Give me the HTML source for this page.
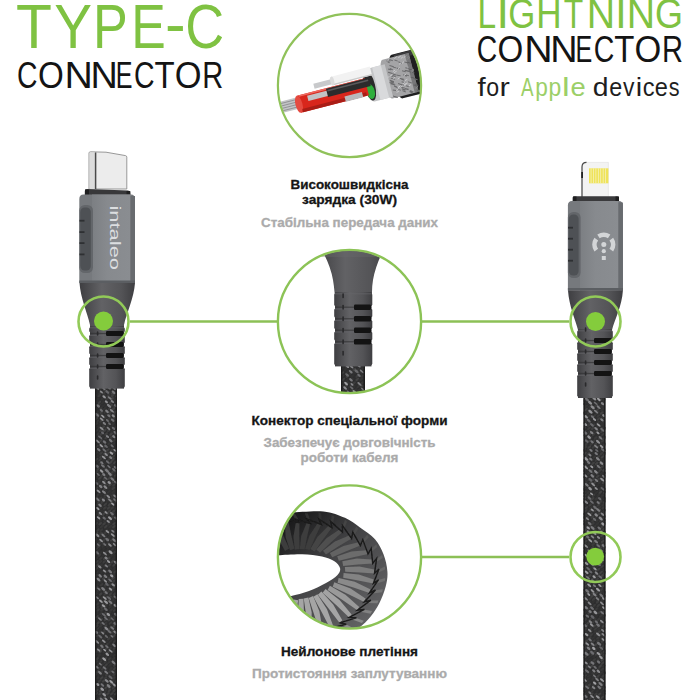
<!DOCTYPE html>
<html><head><meta charset="utf-8">
<style>
html,body{margin:0;padding:0;background:#fff;width:700px;height:700px;overflow:hidden}
svg{display:block}
text{font-family:"Liberation Sans",sans-serif}
</style></head>
<body>
<svg width="700" height="700" viewBox="0 0 700 700">
<defs>
  <pattern id="braid" width="7" height="9" patternUnits="userSpaceOnUse">
    <rect width="7" height="9" fill="#2c2c2e"/>
    <path d="M1 1.5 L4 3.5 M4.5 6 L7 7.8" stroke="#8f9092" stroke-width="1.6" stroke-linecap="round"/>
  </pattern>
  <linearGradient id="housing" x1="0" x2="1" y1="0" y2="0">
    <stop offset="0" stop-color="#55585c"/>
    <stop offset="0.35" stop-color="#8a8d91"/>
    <stop offset="0.7" stop-color="#7b7e82"/>
    <stop offset="1" stop-color="#5a5d61"/>
  </linearGradient>
  <linearGradient id="face" x1="0" x2="1" y1="0" y2="0">
    <stop offset="0" stop-color="#7c7f83"/>
    <stop offset="0.4" stop-color="#878a8e"/>
    <stop offset="1" stop-color="#8a8d91"/>
  </linearGradient>
  <linearGradient id="relief" x1="0" x2="1" y1="0" y2="0">
    <stop offset="0" stop-color="#3e3e41"/>
    <stop offset="0.4" stop-color="#626265"/>
    <stop offset="0.75" stop-color="#545457"/>
    <stop offset="1" stop-color="#3e3e41"/>
  </linearGradient>
  <linearGradient id="plug" x1="0" x2="1" y1="0" y2="0">
    <stop offset="0" stop-color="#9a9a9a"/>
    <stop offset="0.15" stop-color="#e8e8e8"/>
    <stop offset="0.6" stop-color="#f2f2f2"/>
    <stop offset="1" stop-color="#b8b8b8"/>
  </linearGradient>
  <linearGradient id="coilg" gradientUnits="userSpaceOnUse" x1="290" y1="525" x2="375" y2="610">
    <stop offset="0" stop-color="#1c1c1d"/>
    <stop offset="0.45" stop-color="#444446"/>
    <stop offset="1" stop-color="#606062"/>
  </linearGradient>
  <filter id="soft" x="-5%" y="-5%" width="110%" height="110%"><feGaussianBlur stdDeviation="0.6"/></filter>
  <clipPath id="c1"><circle cx="349.5" cy="85.5" r="71"/></clipPath>
  <clipPath id="c2"><circle cx="349.5" cy="321.5" r="71"/></clipPath>
  <clipPath id="c3"><circle cx="349.5" cy="557" r="71"/></clipPath>
</defs>

<!-- ===== Headings ===== -->
<text transform="translate(15.92 47.8) scale(0.924 1)" font-size="63.62" fill="#7fc242">T</text>
<text transform="translate(54.17 47.8) scale(0.890 1)" font-size="63.62" fill="#7fc242">Y</text>
<text transform="translate(92.93 47.8) scale(0.820 1)" font-size="63.62" fill="#7fc242">P</text>
<text transform="translate(131.26 47.8) scale(0.813 1)" font-size="63.62" fill="#7fc242">E</text>
<text transform="translate(165.11 45.199999999999996) scale(0.975 1)" font-size="63.62" fill="#7fc242">-</text>
<text transform="translate(185.21 47.8) scale(0.847 1)" font-size="63.62" fill="#7fc242">C</text>
<text transform="translate(17.08 87.5) scale(0.767 1)" font-size="36.96" fill="#141414">C</text>
<text transform="translate(37.91 87.5) scale(0.897 1)" font-size="36.96" fill="#141414">O</text>
<text transform="translate(64.46 87.5) scale(1.063 1)" font-size="36.96" fill="#141414">N</text>
<text transform="translate(90.57 87.5) scale(1.024 1)" font-size="36.96" fill="#141414">N</text>
<text transform="translate(115.79 87.5) scale(0.680 1)" font-size="36.96" fill="#141414">E</text>
<text transform="translate(133.97 87.5) scale(0.771 1)" font-size="36.96" fill="#141414">C</text>
<text transform="translate(154.44 87.5) scale(0.892 1)" font-size="36.96" fill="#141414">T</text>
<text transform="translate(174.75 87.5) scale(0.932 1)" font-size="36.96" fill="#141414">O</text>
<text transform="translate(202.27 87.5) scale(0.787 1)" font-size="36.96" fill="#141414">R</text>
<text transform="translate(476.78 62.2) scale(0.776 1)" font-size="36.52" fill="#141414">C</text>
<text transform="translate(497.61 62.2) scale(0.907 1)" font-size="36.52" fill="#141414">O</text>
<text transform="translate(524.16 62.2) scale(1.076 1)" font-size="36.52" fill="#141414">N</text>
<text transform="translate(550.27 62.2) scale(1.037 1)" font-size="36.52" fill="#141414">N</text>
<text transform="translate(575.49 62.2) scale(0.688 1)" font-size="36.52" fill="#141414">E</text>
<text transform="translate(593.67 62.2) scale(0.780 1)" font-size="36.52" fill="#141414">C</text>
<text transform="translate(614.14 62.2) scale(0.903 1)" font-size="36.52" fill="#141414">T</text>
<text transform="translate(634.45 62.2) scale(0.943 1)" font-size="36.52" fill="#141414">O</text>
<text transform="translate(661.97 62.2) scale(0.796 1)" font-size="36.52" fill="#141414">R</text>
<text transform="translate(477.52 27.5) scale(0.797 1)" font-size="42.03" fill="#7fc242">L</text>
<text transform="translate(496.53 27.5) scale(1.077 1)" font-size="42.03" fill="#7fc242">I</text>
<text transform="translate(508.36 27.5) scale(0.828 1)" font-size="42.03" fill="#7fc242">G</text>
<text transform="translate(536.29 27.5) scale(0.837 1)" font-size="42.03" fill="#7fc242">H</text>
<text transform="translate(563.66 27.5) scale(0.760 1)" font-size="42.03" fill="#7fc242">T</text>
<text transform="translate(586.76 27.5) scale(0.935 1)" font-size="42.03" fill="#7fc242">N</text>
<text transform="translate(615.31 27.5) scale(0.977 1)" font-size="42.03" fill="#7fc242">I</text>
<text transform="translate(626.86 27.5) scale(0.935 1)" font-size="42.03" fill="#7fc242">N</text>
<text transform="translate(654.90 27.5) scale(0.857 1)" font-size="42.03" fill="#7fc242">G</text>
<text transform="translate(477.46 95.9) scale(1.129 1)" font-size="26.07" fill="#1e1e1e">f</text>
<text transform="translate(486.37 95.9) scale(0.888 1)" font-size="26.07" fill="#1e1e1e">o</text>
<text transform="translate(499.39 95.9) scale(1.188 1)" font-size="26.07" fill="#1e1e1e">r</text>
<text transform="translate(521.10 95.9) scale(0.721 1)" font-size="26.07" fill="#9ccf68">A</text>
<text transform="translate(535.33 95.9) scale(0.869 1)" font-size="26.07" fill="#9ccf68">p</text>
<text transform="translate(548.61 95.9) scale(0.878 1)" font-size="26.07" fill="#9ccf68">p</text>
<text transform="translate(562.06 95.9) scale(1.321 1)" font-size="26.07" fill="#9ccf68">l</text>
<text transform="translate(570.41 95.9) scale(1.050 1)" font-size="26.07" fill="#9ccf68">e</text>
<text transform="translate(592.87 95.9) scale(1.088 1)" font-size="26.07" fill="#1e1e1e">d</text>
<text transform="translate(609.37 95.9) scale(0.896 1)" font-size="26.07" fill="#1e1e1e">e</text>
<text transform="translate(622.99 95.9) scale(0.877 1)" font-size="26.07" fill="#1e1e1e">v</text>
<text transform="translate(635.82 95.9) scale(1.108 1)" font-size="26.07" fill="#1e1e1e">i</text>
<text transform="translate(642.75 95.9) scale(0.908 1)" font-size="26.07" fill="#1e1e1e">c</text>
<text transform="translate(654.76 95.9) scale(0.904 1)" font-size="26.07" fill="#1e1e1e">e</text>
<text transform="translate(668.86 95.9) scale(0.828 1)" font-size="26.07" fill="#1e1e1e">s</text>


<!-- ===== Captions ===== -->
<g font-weight="700" font-size="13" text-anchor="middle" stroke-width="0.3">
  <text x="349.5" y="188.5" fill="#151515" stroke="#151515" textLength="118" lengthAdjust="spacingAndGlyphs">Високошвидкісна</text>
  <text x="349.5" y="204.3" fill="#151515" stroke="#151515" textLength="95" lengthAdjust="spacingAndGlyphs">зарядка (30W)</text>
  <text x="349.5" y="226.6" fill="#ababab" stroke="#ababab" textLength="177" lengthAdjust="spacingAndGlyphs">Стабільна передача даних</text>
  <text x="349.5" y="424.5" fill="#151515" stroke="#151515" textLength="196" lengthAdjust="spacingAndGlyphs">Конектор спеціальної форми</text>
  <text x="349.5" y="446.8" fill="#ababab" stroke="#ababab" textLength="172" lengthAdjust="spacingAndGlyphs">Забезпечує довговічність</text>
  <text x="349.5" y="462.2" fill="#ababab" stroke="#ababab" textLength="98" lengthAdjust="spacingAndGlyphs">роботи кабеля</text>
  <text x="349.5" y="655.8" fill="#151515" stroke="#151515" textLength="137" lengthAdjust="spacingAndGlyphs">Нейлонове плетіння</text>
  <text x="349.5" y="678" fill="#ababab" stroke="#ababab" textLength="195" lengthAdjust="spacingAndGlyphs">Протистояння заплутуванню</text>
</g>

<!-- ===== Connecting lines ===== -->
<g stroke="#8cc056" stroke-width="2.5" fill="none">
  <line x1="130" y1="321.5" x2="278" y2="321.5"/>
  <line x1="421" y1="321.5" x2="569" y2="321.5"/>
  <line x1="421" y1="557" x2="569" y2="557"/>
</g>

<!-- ===== LEFT CABLE (USB-C) ===== -->
<g id="left">
  <rect x="95" y="386" width="22" height="320" fill="#2e2e2f"/>
<clipPath id="bc3"><rect x="95" y="386" width="22" height="320"/></clipPath>
<g clip-path="url(#bc3)"><g filter="url(#soft)"><ellipse cx="95.7" cy="386.0" rx="2.2" ry="1.1" transform="rotate(-40 95.7 386.0)" fill="rgb(65,65,65)"/><ellipse cx="99.4" cy="386.0" rx="2.2" ry="1.1" transform="rotate(-40 99.4 386.0)" fill="rgb(63,63,63)"/><ellipse cx="103.8" cy="386.0" rx="2.2" ry="1.1" transform="rotate(-40 103.8 386.0)" fill="rgb(50,50,50)"/><ellipse cx="108.3" cy="386.0" rx="2.2" ry="1.1" transform="rotate(-40 108.3 386.0)" fill="rgb(63,63,63)"/><ellipse cx="112.1" cy="386.0" rx="2.2" ry="1.1" transform="rotate(-40 112.1 386.0)" fill="rgb(55,55,55)"/><ellipse cx="115.9" cy="386.0" rx="2.2" ry="1.1" transform="rotate(-40 115.9 386.0)" fill="rgb(63,63,63)"/><ellipse cx="96.2" cy="389.2" rx="2.2" ry="1.1" transform="rotate(-40 96.2 389.2)" fill="rgb(52,52,52)"/><ellipse cx="100.0" cy="389.2" rx="2.2" ry="1.1" transform="rotate(-40 100.0 389.2)" fill="rgb(52,52,52)"/><ellipse cx="104.8" cy="389.2" rx="2.2" ry="1.1" transform="rotate(-40 104.8 389.2)" fill="rgb(64,64,64)"/><ellipse cx="108.9" cy="389.2" rx="2.2" ry="1.1" transform="rotate(-40 108.9 389.2)" fill="rgb(48,48,48)"/><ellipse cx="113.4" cy="389.2" rx="2.2" ry="1.1" transform="rotate(-40 113.4 389.2)" fill="rgb(50,50,50)"/><ellipse cx="95.1" cy="392.8" rx="2.2" ry="1.1" transform="rotate(-40 95.1 392.8)" fill="rgb(48,48,48)"/><ellipse cx="99.9" cy="392.8" rx="2.2" ry="1.1" transform="rotate(-40 99.9 392.8)" fill="rgb(56,56,56)"/><ellipse cx="104.1" cy="392.8" rx="2.2" ry="1.1" transform="rotate(-40 104.1 392.8)" fill="rgb(60,60,60)"/><ellipse cx="108.6" cy="392.8" rx="2.2" ry="1.1" transform="rotate(-40 108.6 392.8)" fill="rgb(61,61,61)"/><ellipse cx="112.7" cy="392.8" rx="2.2" ry="1.1" transform="rotate(-40 112.7 392.8)" fill="rgb(66,66,66)"/><ellipse cx="116.9" cy="392.8" rx="2.2" ry="1.1" transform="rotate(-40 116.9 392.8)" fill="rgb(52,52,52)"/><ellipse cx="95.4" cy="395.7" rx="2.2" ry="1.1" transform="rotate(-40 95.4 395.7)" fill="rgb(54,54,54)"/><ellipse cx="99.3" cy="395.7" rx="2.2" ry="1.1" transform="rotate(-40 99.3 395.7)" fill="rgb(61,61,61)"/><ellipse cx="104.0" cy="395.7" rx="2.2" ry="1.1" transform="rotate(-40 104.0 395.7)" fill="rgb(57,57,57)"/><ellipse cx="108.1" cy="395.7" rx="2.2" ry="1.1" transform="rotate(-40 108.1 395.7)" fill="rgb(60,60,60)"/><ellipse cx="112.5" cy="395.7" rx="2.2" ry="1.1" transform="rotate(-40 112.5 395.7)" fill="rgb(65,65,65)"/><ellipse cx="116.8" cy="395.7" rx="2.2" ry="1.1" transform="rotate(-40 116.8 395.7)" fill="rgb(66,66,66)"/><ellipse cx="97.7" cy="398.8" rx="2.2" ry="1.1" transform="rotate(-40 97.7 398.8)" fill="rgb(48,48,48)"/><ellipse cx="102.5" cy="398.8" rx="2.2" ry="1.1" transform="rotate(-40 102.5 398.8)" fill="rgb(53,53,53)"/><ellipse cx="107.1" cy="398.8" rx="2.2" ry="1.1" transform="rotate(-40 107.1 398.8)" fill="rgb(58,58,58)"/><ellipse cx="112.0" cy="398.8" rx="2.2" ry="1.1" transform="rotate(-40 112.0 398.8)" fill="rgb(66,66,66)"/><ellipse cx="116.4" cy="398.8" rx="2.2" ry="1.1" transform="rotate(-40 116.4 398.8)" fill="rgb(54,54,54)"/><ellipse cx="95.8" cy="402.3" rx="2.2" ry="1.1" transform="rotate(-40 95.8 402.3)" fill="rgb(51,51,51)"/><ellipse cx="99.4" cy="402.3" rx="2.2" ry="1.1" transform="rotate(-40 99.4 402.3)" fill="rgb(63,63,63)"/><ellipse cx="103.0" cy="402.3" rx="2.2" ry="1.1" transform="rotate(-40 103.0 402.3)" fill="rgb(50,50,50)"/><ellipse cx="107.1" cy="402.3" rx="2.2" ry="1.1" transform="rotate(-40 107.1 402.3)" fill="rgb(52,52,52)"/><ellipse cx="110.7" cy="402.3" rx="2.2" ry="1.1" transform="rotate(-40 110.7 402.3)" fill="rgb(61,61,61)"/><ellipse cx="115.3" cy="402.3" rx="2.2" ry="1.1" transform="rotate(-40 115.3 402.3)" fill="rgb(51,51,51)"/><ellipse cx="95.1" cy="405.6" rx="2.2" ry="1.1" transform="rotate(-40 95.1 405.6)" fill="rgb(66,66,66)"/><ellipse cx="99.1" cy="405.6" rx="2.2" ry="1.1" transform="rotate(-40 99.1 405.6)" fill="rgb(56,56,56)"/><ellipse cx="103.4" cy="405.6" rx="2.2" ry="1.1" transform="rotate(-40 103.4 405.6)" fill="rgb(49,49,49)"/><ellipse cx="107.4" cy="405.6" rx="2.2" ry="1.1" transform="rotate(-40 107.4 405.6)" fill="rgb(50,50,50)"/><ellipse cx="111.0" cy="405.6" rx="2.2" ry="1.1" transform="rotate(-40 111.0 405.6)" fill="rgb(65,65,65)"/><ellipse cx="114.6" cy="405.6" rx="2.2" ry="1.1" transform="rotate(-40 114.6 405.6)" fill="rgb(54,54,54)"/><ellipse cx="95.8" cy="408.7" rx="2.2" ry="1.1" transform="rotate(-40 95.8 408.7)" fill="rgb(49,49,49)"/><ellipse cx="100.8" cy="408.7" rx="2.2" ry="1.1" transform="rotate(-40 100.8 408.7)" fill="rgb(58,58,58)"/><ellipse cx="104.7" cy="408.7" rx="2.2" ry="1.1" transform="rotate(-40 104.7 408.7)" fill="rgb(52,52,52)"/><ellipse cx="109.6" cy="408.7" rx="2.2" ry="1.1" transform="rotate(-40 109.6 408.7)" fill="rgb(60,60,60)"/><ellipse cx="113.6" cy="408.7" rx="2.2" ry="1.1" transform="rotate(-40 113.6 408.7)" fill="rgb(64,64,64)"/><ellipse cx="97.0" cy="412.2" rx="2.2" ry="1.1" transform="rotate(-40 97.0 412.2)" fill="rgb(51,51,51)"/><ellipse cx="101.5" cy="412.2" rx="2.2" ry="1.1" transform="rotate(-40 101.5 412.2)" fill="rgb(64,64,64)"/><ellipse cx="105.4" cy="412.2" rx="2.2" ry="1.1" transform="rotate(-40 105.4 412.2)" fill="rgb(55,55,55)"/><ellipse cx="110.3" cy="412.2" rx="2.2" ry="1.1" transform="rotate(-40 110.3 412.2)" fill="rgb(61,61,61)"/><ellipse cx="115.3" cy="412.2" rx="2.2" ry="1.1" transform="rotate(-40 115.3 412.2)" fill="rgb(64,64,64)"/><ellipse cx="97.4" cy="415.2" rx="2.2" ry="1.1" transform="rotate(-40 97.4 415.2)" fill="rgb(66,66,66)"/><ellipse cx="101.3" cy="415.2" rx="2.2" ry="1.1" transform="rotate(-40 101.3 415.2)" fill="rgb(60,60,60)"/><ellipse cx="105.8" cy="415.2" rx="2.2" ry="1.1" transform="rotate(-40 105.8 415.2)" fill="rgb(52,52,52)"/><ellipse cx="109.4" cy="415.2" rx="2.2" ry="1.1" transform="rotate(-40 109.4 415.2)" fill="rgb(58,58,58)"/><ellipse cx="113.6" cy="415.2" rx="2.2" ry="1.1" transform="rotate(-40 113.6 415.2)" fill="rgb(59,59,59)"/><ellipse cx="96.5" cy="418.3" rx="2.2" ry="1.1" transform="rotate(-40 96.5 418.3)" fill="rgb(66,66,66)"/><ellipse cx="100.1" cy="418.3" rx="2.2" ry="1.1" transform="rotate(-40 100.1 418.3)" fill="rgb(48,48,48)"/><ellipse cx="105.0" cy="418.3" rx="2.2" ry="1.1" transform="rotate(-40 105.0 418.3)" fill="rgb(56,56,56)"/><ellipse cx="109.4" cy="418.3" rx="2.2" ry="1.1" transform="rotate(-40 109.4 418.3)" fill="rgb(57,57,57)"/><ellipse cx="113.8" cy="418.3" rx="2.2" ry="1.1" transform="rotate(-40 113.8 418.3)" fill="rgb(58,58,58)"/><ellipse cx="97.3" cy="421.2" rx="2.2" ry="1.1" transform="rotate(-40 97.3 421.2)" fill="rgb(56,56,56)"/><ellipse cx="101.2" cy="421.2" rx="2.2" ry="1.1" transform="rotate(-40 101.2 421.2)" fill="rgb(60,60,60)"/><ellipse cx="104.9" cy="421.2" rx="2.2" ry="1.1" transform="rotate(-40 104.9 421.2)" fill="rgb(48,48,48)"/><ellipse cx="109.8" cy="421.2" rx="2.2" ry="1.1" transform="rotate(-40 109.8 421.2)" fill="rgb(52,52,52)"/><ellipse cx="113.8" cy="421.2" rx="2.2" ry="1.1" transform="rotate(-40 113.8 421.2)" fill="rgb(55,55,55)"/><ellipse cx="96.0" cy="424.2" rx="2.2" ry="1.1" transform="rotate(-40 96.0 424.2)" fill="rgb(61,61,61)"/><ellipse cx="100.5" cy="424.2" rx="2.2" ry="1.1" transform="rotate(-40 100.5 424.2)" fill="rgb(51,51,51)"/><ellipse cx="104.1" cy="424.2" rx="2.2" ry="1.1" transform="rotate(-40 104.1 424.2)" fill="rgb(58,58,58)"/><ellipse cx="109.0" cy="424.2" rx="2.2" ry="1.1" transform="rotate(-40 109.0 424.2)" fill="rgb(55,55,55)"/><ellipse cx="113.2" cy="424.2" rx="2.2" ry="1.1" transform="rotate(-40 113.2 424.2)" fill="rgb(53,53,53)"/><ellipse cx="116.8" cy="424.2" rx="2.2" ry="1.1" transform="rotate(-40 116.8 424.2)" fill="rgb(54,54,54)"/><ellipse cx="95.7" cy="427.4" rx="2.2" ry="1.1" transform="rotate(-40 95.7 427.4)" fill="rgb(51,51,51)"/><ellipse cx="99.2" cy="427.4" rx="2.2" ry="1.1" transform="rotate(-40 99.2 427.4)" fill="rgb(54,54,54)"/><ellipse cx="103.2" cy="427.4" rx="2.2" ry="1.1" transform="rotate(-40 103.2 427.4)" fill="rgb(66,66,66)"/><ellipse cx="107.0" cy="427.4" rx="2.2" ry="1.1" transform="rotate(-40 107.0 427.4)" fill="rgb(56,56,56)"/><ellipse cx="111.0" cy="427.4" rx="2.2" ry="1.1" transform="rotate(-40 111.0 427.4)" fill="rgb(50,50,50)"/><ellipse cx="115.7" cy="427.4" rx="2.2" ry="1.1" transform="rotate(-40 115.7 427.4)" fill="rgb(59,59,59)"/><ellipse cx="96.6" cy="430.5" rx="2.2" ry="1.1" transform="rotate(-40 96.6 430.5)" fill="rgb(56,56,56)"/><ellipse cx="100.8" cy="430.5" rx="2.2" ry="1.1" transform="rotate(-40 100.8 430.5)" fill="rgb(61,61,61)"/><ellipse cx="104.7" cy="430.5" rx="2.2" ry="1.1" transform="rotate(-40 104.7 430.5)" fill="rgb(66,66,66)"/><ellipse cx="108.8" cy="430.5" rx="2.2" ry="1.1" transform="rotate(-40 108.8 430.5)" fill="rgb(61,61,61)"/><ellipse cx="112.5" cy="430.5" rx="2.2" ry="1.1" transform="rotate(-40 112.5 430.5)" fill="rgb(48,48,48)"/><ellipse cx="116.8" cy="430.5" rx="2.2" ry="1.1" transform="rotate(-40 116.8 430.5)" fill="rgb(64,64,64)"/><ellipse cx="97.8" cy="434.1" rx="2.2" ry="1.1" transform="rotate(-40 97.8 434.1)" fill="rgb(55,55,55)"/><ellipse cx="101.3" cy="434.1" rx="2.2" ry="1.1" transform="rotate(-40 101.3 434.1)" fill="rgb(62,62,62)"/><ellipse cx="106.1" cy="434.1" rx="2.2" ry="1.1" transform="rotate(-40 106.1 434.1)" fill="rgb(64,64,64)"/><ellipse cx="111.0" cy="434.1" rx="2.2" ry="1.1" transform="rotate(-40 111.0 434.1)" fill="rgb(65,65,65)"/><ellipse cx="115.0" cy="434.1" rx="2.2" ry="1.1" transform="rotate(-40 115.0 434.1)" fill="rgb(55,55,55)"/><ellipse cx="97.9" cy="437.6" rx="2.2" ry="1.1" transform="rotate(-40 97.9 437.6)" fill="rgb(51,51,51)"/><ellipse cx="102.6" cy="437.6" rx="2.2" ry="1.1" transform="rotate(-40 102.6 437.6)" fill="rgb(49,49,49)"/><ellipse cx="106.2" cy="437.6" rx="2.2" ry="1.1" transform="rotate(-40 106.2 437.6)" fill="rgb(64,64,64)"/><ellipse cx="111.1" cy="437.6" rx="2.2" ry="1.1" transform="rotate(-40 111.1 437.6)" fill="rgb(61,61,61)"/><ellipse cx="115.4" cy="437.6" rx="2.2" ry="1.1" transform="rotate(-40 115.4 437.6)" fill="rgb(48,48,48)"/><ellipse cx="96.5" cy="440.5" rx="2.2" ry="1.1" transform="rotate(-40 96.5 440.5)" fill="rgb(55,55,55)"/><ellipse cx="101.0" cy="440.5" rx="2.2" ry="1.1" transform="rotate(-40 101.0 440.5)" fill="rgb(64,64,64)"/><ellipse cx="105.3" cy="440.5" rx="2.2" ry="1.1" transform="rotate(-40 105.3 440.5)" fill="rgb(49,49,49)"/><ellipse cx="110.2" cy="440.5" rx="2.2" ry="1.1" transform="rotate(-40 110.2 440.5)" fill="rgb(51,51,51)"/><ellipse cx="114.2" cy="440.5" rx="2.2" ry="1.1" transform="rotate(-40 114.2 440.5)" fill="rgb(56,56,56)"/><ellipse cx="97.4" cy="443.7" rx="2.2" ry="1.1" transform="rotate(-40 97.4 443.7)" fill="rgb(49,49,49)"/><ellipse cx="101.5" cy="443.7" rx="2.2" ry="1.1" transform="rotate(-40 101.5 443.7)" fill="rgb(54,54,54)"/><ellipse cx="105.1" cy="443.7" rx="2.2" ry="1.1" transform="rotate(-40 105.1 443.7)" fill="rgb(51,51,51)"/><ellipse cx="108.9" cy="443.7" rx="2.2" ry="1.1" transform="rotate(-40 108.9 443.7)" fill="rgb(56,56,56)"/><ellipse cx="113.8" cy="443.7" rx="2.2" ry="1.1" transform="rotate(-40 113.8 443.7)" fill="rgb(52,52,52)"/><ellipse cx="96.9" cy="446.5" rx="2.2" ry="1.1" transform="rotate(-40 96.9 446.5)" fill="rgb(60,60,60)"/><ellipse cx="100.5" cy="446.5" rx="2.2" ry="1.1" transform="rotate(-40 100.5 446.5)" fill="rgb(56,56,56)"/><ellipse cx="104.3" cy="446.5" rx="2.2" ry="1.1" transform="rotate(-40 104.3 446.5)" fill="rgb(64,64,64)"/><ellipse cx="108.6" cy="446.5" rx="2.2" ry="1.1" transform="rotate(-40 108.6 446.5)" fill="rgb(49,49,49)"/><ellipse cx="112.8" cy="446.5" rx="2.2" ry="1.1" transform="rotate(-40 112.8 446.5)" fill="rgb(48,48,48)"/><ellipse cx="95.1" cy="449.9" rx="2.2" ry="1.1" transform="rotate(-40 95.1 449.9)" fill="rgb(49,49,49)"/><ellipse cx="98.7" cy="449.9" rx="2.2" ry="1.1" transform="rotate(-40 98.7 449.9)" fill="rgb(49,49,49)"/><ellipse cx="103.5" cy="449.9" rx="2.2" ry="1.1" transform="rotate(-40 103.5 449.9)" fill="rgb(50,50,50)"/><ellipse cx="107.8" cy="449.9" rx="2.2" ry="1.1" transform="rotate(-40 107.8 449.9)" fill="rgb(63,63,63)"/><ellipse cx="111.8" cy="449.9" rx="2.2" ry="1.1" transform="rotate(-40 111.8 449.9)" fill="rgb(58,58,58)"/><ellipse cx="115.4" cy="449.9" rx="2.2" ry="1.1" transform="rotate(-40 115.4 449.9)" fill="rgb(60,60,60)"/><ellipse cx="96.1" cy="453.2" rx="2.2" ry="1.1" transform="rotate(-40 96.1 453.2)" fill="rgb(54,54,54)"/><ellipse cx="101.1" cy="453.2" rx="2.2" ry="1.1" transform="rotate(-40 101.1 453.2)" fill="rgb(61,61,61)"/><ellipse cx="104.8" cy="453.2" rx="2.2" ry="1.1" transform="rotate(-40 104.8 453.2)" fill="rgb(65,65,65)"/><ellipse cx="108.3" cy="453.2" rx="2.2" ry="1.1" transform="rotate(-40 108.3 453.2)" fill="rgb(60,60,60)"/><ellipse cx="112.9" cy="453.2" rx="2.2" ry="1.1" transform="rotate(-40 112.9 453.2)" fill="rgb(66,66,66)"/><ellipse cx="116.7" cy="453.2" rx="2.2" ry="1.1" transform="rotate(-40 116.7 453.2)" fill="rgb(59,59,59)"/><ellipse cx="96.6" cy="456.5" rx="2.2" ry="1.1" transform="rotate(-40 96.6 456.5)" fill="rgb(49,49,49)"/><ellipse cx="101.1" cy="456.5" rx="2.2" ry="1.1" transform="rotate(-40 101.1 456.5)" fill="rgb(61,61,61)"/><ellipse cx="104.6" cy="456.5" rx="2.2" ry="1.1" transform="rotate(-40 104.6 456.5)" fill="rgb(63,63,63)"/><ellipse cx="109.3" cy="456.5" rx="2.2" ry="1.1" transform="rotate(-40 109.3 456.5)" fill="rgb(58,58,58)"/><ellipse cx="113.4" cy="456.5" rx="2.2" ry="1.1" transform="rotate(-40 113.4 456.5)" fill="rgb(61,61,61)"/><ellipse cx="96.6" cy="459.5" rx="2.2" ry="1.1" transform="rotate(-40 96.6 459.5)" fill="rgb(66,66,66)"/><ellipse cx="100.2" cy="459.5" rx="2.2" ry="1.1" transform="rotate(-40 100.2 459.5)" fill="rgb(61,61,61)"/><ellipse cx="104.1" cy="459.5" rx="2.2" ry="1.1" transform="rotate(-40 104.1 459.5)" fill="rgb(52,52,52)"/><ellipse cx="108.9" cy="459.5" rx="2.2" ry="1.1" transform="rotate(-40 108.9 459.5)" fill="rgb(58,58,58)"/><ellipse cx="112.9" cy="459.5" rx="2.2" ry="1.1" transform="rotate(-40 112.9 459.5)" fill="rgb(65,65,65)"/><ellipse cx="96.4" cy="462.5" rx="2.2" ry="1.1" transform="rotate(-40 96.4 462.5)" fill="rgb(51,51,51)"/><ellipse cx="101.3" cy="462.5" rx="2.2" ry="1.1" transform="rotate(-40 101.3 462.5)" fill="rgb(64,64,64)"/><ellipse cx="106.0" cy="462.5" rx="2.2" ry="1.1" transform="rotate(-40 106.0 462.5)" fill="rgb(51,51,51)"/><ellipse cx="110.6" cy="462.5" rx="2.2" ry="1.1" transform="rotate(-40 110.6 462.5)" fill="rgb(66,66,66)"/><ellipse cx="114.9" cy="462.5" rx="2.2" ry="1.1" transform="rotate(-40 114.9 462.5)" fill="rgb(66,66,66)"/><ellipse cx="95.7" cy="465.7" rx="2.2" ry="1.1" transform="rotate(-40 95.7 465.7)" fill="rgb(60,60,60)"/><ellipse cx="99.3" cy="465.7" rx="2.2" ry="1.1" transform="rotate(-40 99.3 465.7)" fill="rgb(50,50,50)"/><ellipse cx="103.6" cy="465.7" rx="2.2" ry="1.1" transform="rotate(-40 103.6 465.7)" fill="rgb(60,60,60)"/><ellipse cx="107.4" cy="465.7" rx="2.2" ry="1.1" transform="rotate(-40 107.4 465.7)" fill="rgb(48,48,48)"/><ellipse cx="111.4" cy="465.7" rx="2.2" ry="1.1" transform="rotate(-40 111.4 465.7)" fill="rgb(51,51,51)"/><ellipse cx="114.9" cy="465.7" rx="2.2" ry="1.1" transform="rotate(-40 114.9 465.7)" fill="rgb(51,51,51)"/><ellipse cx="97.9" cy="469.2" rx="2.2" ry="1.1" transform="rotate(-40 97.9 469.2)" fill="rgb(66,66,66)"/><ellipse cx="101.8" cy="469.2" rx="2.2" ry="1.1" transform="rotate(-40 101.8 469.2)" fill="rgb(50,50,50)"/><ellipse cx="105.4" cy="469.2" rx="2.2" ry="1.1" transform="rotate(-40 105.4 469.2)" fill="rgb(66,66,66)"/><ellipse cx="109.6" cy="469.2" rx="2.2" ry="1.1" transform="rotate(-40 109.6 469.2)" fill="rgb(55,55,55)"/><ellipse cx="113.3" cy="469.2" rx="2.2" ry="1.1" transform="rotate(-40 113.3 469.2)" fill="rgb(51,51,51)"/><ellipse cx="96.0" cy="472.0" rx="2.2" ry="1.1" transform="rotate(-40 96.0 472.0)" fill="rgb(66,66,66)"/><ellipse cx="99.7" cy="472.0" rx="2.2" ry="1.1" transform="rotate(-40 99.7 472.0)" fill="rgb(50,50,50)"/><ellipse cx="103.6" cy="472.0" rx="2.2" ry="1.1" transform="rotate(-40 103.6 472.0)" fill="rgb(53,53,53)"/><ellipse cx="108.1" cy="472.0" rx="2.2" ry="1.1" transform="rotate(-40 108.1 472.0)" fill="rgb(62,62,62)"/><ellipse cx="112.5" cy="472.0" rx="2.2" ry="1.1" transform="rotate(-40 112.5 472.0)" fill="rgb(60,60,60)"/><ellipse cx="116.4" cy="472.0" rx="2.2" ry="1.1" transform="rotate(-40 116.4 472.0)" fill="rgb(60,60,60)"/><ellipse cx="97.9" cy="475.3" rx="2.2" ry="1.1" transform="rotate(-40 97.9 475.3)" fill="rgb(60,60,60)"/><ellipse cx="102.1" cy="475.3" rx="2.2" ry="1.1" transform="rotate(-40 102.1 475.3)" fill="rgb(61,61,61)"/><ellipse cx="106.9" cy="475.3" rx="2.2" ry="1.1" transform="rotate(-40 106.9 475.3)" fill="rgb(53,53,53)"/><ellipse cx="111.0" cy="475.3" rx="2.2" ry="1.1" transform="rotate(-40 111.0 475.3)" fill="rgb(66,66,66)"/><ellipse cx="115.7" cy="475.3" rx="2.2" ry="1.1" transform="rotate(-40 115.7 475.3)" fill="rgb(64,64,64)"/><ellipse cx="96.2" cy="478.2" rx="2.2" ry="1.1" transform="rotate(-40 96.2 478.2)" fill="rgb(52,52,52)"/><ellipse cx="99.9" cy="478.2" rx="2.2" ry="1.1" transform="rotate(-40 99.9 478.2)" fill="rgb(63,63,63)"/><ellipse cx="104.6" cy="478.2" rx="2.2" ry="1.1" transform="rotate(-40 104.6 478.2)" fill="rgb(64,64,64)"/><ellipse cx="109.5" cy="478.2" rx="2.2" ry="1.1" transform="rotate(-40 109.5 478.2)" fill="rgb(66,66,66)"/><ellipse cx="114.1" cy="478.2" rx="2.2" ry="1.1" transform="rotate(-40 114.1 478.2)" fill="rgb(53,53,53)"/><ellipse cx="95.4" cy="481.6" rx="2.2" ry="1.1" transform="rotate(-40 95.4 481.6)" fill="rgb(64,64,64)"/><ellipse cx="99.4" cy="481.6" rx="2.2" ry="1.1" transform="rotate(-40 99.4 481.6)" fill="rgb(55,55,55)"/><ellipse cx="104.2" cy="481.6" rx="2.2" ry="1.1" transform="rotate(-40 104.2 481.6)" fill="rgb(65,65,65)"/><ellipse cx="109.1" cy="481.6" rx="2.2" ry="1.1" transform="rotate(-40 109.1 481.6)" fill="rgb(57,57,57)"/><ellipse cx="113.6" cy="481.6" rx="2.2" ry="1.1" transform="rotate(-40 113.6 481.6)" fill="rgb(61,61,61)"/><ellipse cx="98.0" cy="484.9" rx="2.2" ry="1.1" transform="rotate(-40 98.0 484.9)" fill="rgb(54,54,54)"/><ellipse cx="101.9" cy="484.9" rx="2.2" ry="1.1" transform="rotate(-40 101.9 484.9)" fill="rgb(56,56,56)"/><ellipse cx="106.1" cy="484.9" rx="2.2" ry="1.1" transform="rotate(-40 106.1 484.9)" fill="rgb(60,60,60)"/><ellipse cx="109.9" cy="484.9" rx="2.2" ry="1.1" transform="rotate(-40 109.9 484.9)" fill="rgb(66,66,66)"/><ellipse cx="114.0" cy="484.9" rx="2.2" ry="1.1" transform="rotate(-40 114.0 484.9)" fill="rgb(58,58,58)"/><ellipse cx="96.3" cy="488.3" rx="2.2" ry="1.1" transform="rotate(-40 96.3 488.3)" fill="rgb(63,63,63)"/><ellipse cx="100.8" cy="488.3" rx="2.2" ry="1.1" transform="rotate(-40 100.8 488.3)" fill="rgb(54,54,54)"/><ellipse cx="105.0" cy="488.3" rx="2.2" ry="1.1" transform="rotate(-40 105.0 488.3)" fill="rgb(65,65,65)"/><ellipse cx="108.6" cy="488.3" rx="2.2" ry="1.1" transform="rotate(-40 108.6 488.3)" fill="rgb(50,50,50)"/><ellipse cx="113.3" cy="488.3" rx="2.2" ry="1.1" transform="rotate(-40 113.3 488.3)" fill="rgb(60,60,60)"/><ellipse cx="95.1" cy="491.8" rx="2.2" ry="1.1" transform="rotate(-40 95.1 491.8)" fill="rgb(55,55,55)"/><ellipse cx="100.0" cy="491.8" rx="2.2" ry="1.1" transform="rotate(-40 100.0 491.8)" fill="rgb(50,50,50)"/><ellipse cx="104.9" cy="491.8" rx="2.2" ry="1.1" transform="rotate(-40 104.9 491.8)" fill="rgb(56,56,56)"/><ellipse cx="108.8" cy="491.8" rx="2.2" ry="1.1" transform="rotate(-40 108.8 491.8)" fill="rgb(54,54,54)"/><ellipse cx="113.4" cy="491.8" rx="2.2" ry="1.1" transform="rotate(-40 113.4 491.8)" fill="rgb(52,52,52)"/><ellipse cx="97.6" cy="495.2" rx="2.2" ry="1.1" transform="rotate(-40 97.6 495.2)" fill="rgb(56,56,56)"/><ellipse cx="101.3" cy="495.2" rx="2.2" ry="1.1" transform="rotate(-40 101.3 495.2)" fill="rgb(49,49,49)"/><ellipse cx="105.3" cy="495.2" rx="2.2" ry="1.1" transform="rotate(-40 105.3 495.2)" fill="rgb(61,61,61)"/><ellipse cx="108.9" cy="495.2" rx="2.2" ry="1.1" transform="rotate(-40 108.9 495.2)" fill="rgb(50,50,50)"/><ellipse cx="112.6" cy="495.2" rx="2.2" ry="1.1" transform="rotate(-40 112.6 495.2)" fill="rgb(56,56,56)"/><ellipse cx="96.1" cy="498.2" rx="2.2" ry="1.1" transform="rotate(-40 96.1 498.2)" fill="rgb(66,66,66)"/><ellipse cx="100.7" cy="498.2" rx="2.2" ry="1.1" transform="rotate(-40 100.7 498.2)" fill="rgb(58,58,58)"/><ellipse cx="104.2" cy="498.2" rx="2.2" ry="1.1" transform="rotate(-40 104.2 498.2)" fill="rgb(58,58,58)"/><ellipse cx="108.2" cy="498.2" rx="2.2" ry="1.1" transform="rotate(-40 108.2 498.2)" fill="rgb(60,60,60)"/><ellipse cx="112.4" cy="498.2" rx="2.2" ry="1.1" transform="rotate(-40 112.4 498.2)" fill="rgb(54,54,54)"/><ellipse cx="116.9" cy="498.2" rx="2.2" ry="1.1" transform="rotate(-40 116.9 498.2)" fill="rgb(63,63,63)"/><ellipse cx="95.4" cy="501.5" rx="2.2" ry="1.1" transform="rotate(-40 95.4 501.5)" fill="rgb(56,56,56)"/><ellipse cx="99.0" cy="501.5" rx="2.2" ry="1.1" transform="rotate(-40 99.0 501.5)" fill="rgb(61,61,61)"/><ellipse cx="102.6" cy="501.5" rx="2.2" ry="1.1" transform="rotate(-40 102.6 501.5)" fill="rgb(64,64,64)"/><ellipse cx="107.5" cy="501.5" rx="2.2" ry="1.1" transform="rotate(-40 107.5 501.5)" fill="rgb(51,51,51)"/><ellipse cx="111.8" cy="501.5" rx="2.2" ry="1.1" transform="rotate(-40 111.8 501.5)" fill="rgb(59,59,59)"/><ellipse cx="116.3" cy="501.5" rx="2.2" ry="1.1" transform="rotate(-40 116.3 501.5)" fill="rgb(59,59,59)"/><ellipse cx="97.0" cy="504.5" rx="2.2" ry="1.1" transform="rotate(-40 97.0 504.5)" fill="rgb(56,56,56)"/><ellipse cx="100.7" cy="504.5" rx="2.2" ry="1.1" transform="rotate(-40 100.7 504.5)" fill="rgb(58,58,58)"/><ellipse cx="105.2" cy="504.5" rx="2.2" ry="1.1" transform="rotate(-40 105.2 504.5)" fill="rgb(65,65,65)"/><ellipse cx="109.5" cy="504.5" rx="2.2" ry="1.1" transform="rotate(-40 109.5 504.5)" fill="rgb(63,63,63)"/><ellipse cx="113.7" cy="504.5" rx="2.2" ry="1.1" transform="rotate(-40 113.7 504.5)" fill="rgb(49,49,49)"/><ellipse cx="96.7" cy="507.9" rx="2.2" ry="1.1" transform="rotate(-40 96.7 507.9)" fill="rgb(53,53,53)"/><ellipse cx="101.2" cy="507.9" rx="2.2" ry="1.1" transform="rotate(-40 101.2 507.9)" fill="rgb(52,52,52)"/><ellipse cx="104.9" cy="507.9" rx="2.2" ry="1.1" transform="rotate(-40 104.9 507.9)" fill="rgb(62,62,62)"/><ellipse cx="108.6" cy="507.9" rx="2.2" ry="1.1" transform="rotate(-40 108.6 507.9)" fill="rgb(65,65,65)"/><ellipse cx="112.3" cy="507.9" rx="2.2" ry="1.1" transform="rotate(-40 112.3 507.9)" fill="rgb(58,58,58)"/><ellipse cx="116.8" cy="507.9" rx="2.2" ry="1.1" transform="rotate(-40 116.8 507.9)" fill="rgb(61,61,61)"/><ellipse cx="96.4" cy="511.2" rx="2.2" ry="1.1" transform="rotate(-40 96.4 511.2)" fill="rgb(57,57,57)"/><ellipse cx="101.0" cy="511.2" rx="2.2" ry="1.1" transform="rotate(-40 101.0 511.2)" fill="rgb(50,50,50)"/><ellipse cx="104.7" cy="511.2" rx="2.2" ry="1.1" transform="rotate(-40 104.7 511.2)" fill="rgb(53,53,53)"/><ellipse cx="109.3" cy="511.2" rx="2.2" ry="1.1" transform="rotate(-40 109.3 511.2)" fill="rgb(65,65,65)"/><ellipse cx="113.7" cy="511.2" rx="2.2" ry="1.1" transform="rotate(-40 113.7 511.2)" fill="rgb(60,60,60)"/><ellipse cx="96.2" cy="514.2" rx="2.2" ry="1.1" transform="rotate(-40 96.2 514.2)" fill="rgb(52,52,52)"/><ellipse cx="99.7" cy="514.2" rx="2.2" ry="1.1" transform="rotate(-40 99.7 514.2)" fill="rgb(64,64,64)"/><ellipse cx="103.6" cy="514.2" rx="2.2" ry="1.1" transform="rotate(-40 103.6 514.2)" fill="rgb(64,64,64)"/><ellipse cx="107.7" cy="514.2" rx="2.2" ry="1.1" transform="rotate(-40 107.7 514.2)" fill="rgb(58,58,58)"/><ellipse cx="112.6" cy="514.2" rx="2.2" ry="1.1" transform="rotate(-40 112.6 514.2)" fill="rgb(62,62,62)"/><ellipse cx="116.9" cy="514.2" rx="2.2" ry="1.1" transform="rotate(-40 116.9 514.2)" fill="rgb(50,50,50)"/><ellipse cx="95.3" cy="517.7" rx="2.2" ry="1.1" transform="rotate(-40 95.3 517.7)" fill="rgb(56,56,56)"/><ellipse cx="99.7" cy="517.7" rx="2.2" ry="1.1" transform="rotate(-40 99.7 517.7)" fill="rgb(51,51,51)"/><ellipse cx="104.1" cy="517.7" rx="2.2" ry="1.1" transform="rotate(-40 104.1 517.7)" fill="rgb(51,51,51)"/><ellipse cx="107.8" cy="517.7" rx="2.2" ry="1.1" transform="rotate(-40 107.8 517.7)" fill="rgb(54,54,54)"/><ellipse cx="112.2" cy="517.7" rx="2.2" ry="1.1" transform="rotate(-40 112.2 517.7)" fill="rgb(60,60,60)"/><ellipse cx="116.9" cy="517.7" rx="2.2" ry="1.1" transform="rotate(-40 116.9 517.7)" fill="rgb(52,52,52)"/><ellipse cx="96.2" cy="520.6" rx="2.2" ry="1.1" transform="rotate(-40 96.2 520.6)" fill="rgb(54,54,54)"/><ellipse cx="100.5" cy="520.6" rx="2.2" ry="1.1" transform="rotate(-40 100.5 520.6)" fill="rgb(53,53,53)"/><ellipse cx="104.9" cy="520.6" rx="2.2" ry="1.1" transform="rotate(-40 104.9 520.6)" fill="rgb(54,54,54)"/><ellipse cx="109.7" cy="520.6" rx="2.2" ry="1.1" transform="rotate(-40 109.7 520.6)" fill="rgb(59,59,59)"/><ellipse cx="114.3" cy="520.6" rx="2.2" ry="1.1" transform="rotate(-40 114.3 520.6)" fill="rgb(48,48,48)"/><ellipse cx="96.2" cy="523.7" rx="2.2" ry="1.1" transform="rotate(-40 96.2 523.7)" fill="rgb(60,60,60)"/><ellipse cx="100.2" cy="523.7" rx="2.2" ry="1.1" transform="rotate(-40 100.2 523.7)" fill="rgb(66,66,66)"/><ellipse cx="104.2" cy="523.7" rx="2.2" ry="1.1" transform="rotate(-40 104.2 523.7)" fill="rgb(63,63,63)"/><ellipse cx="109.1" cy="523.7" rx="2.2" ry="1.1" transform="rotate(-40 109.1 523.7)" fill="rgb(57,57,57)"/><ellipse cx="114.0" cy="523.7" rx="2.2" ry="1.1" transform="rotate(-40 114.0 523.7)" fill="rgb(63,63,63)"/><ellipse cx="96.9" cy="526.7" rx="2.2" ry="1.1" transform="rotate(-40 96.9 526.7)" fill="rgb(51,51,51)"/><ellipse cx="101.6" cy="526.7" rx="2.2" ry="1.1" transform="rotate(-40 101.6 526.7)" fill="rgb(55,55,55)"/><ellipse cx="105.8" cy="526.7" rx="2.2" ry="1.1" transform="rotate(-40 105.8 526.7)" fill="rgb(64,64,64)"/><ellipse cx="110.2" cy="526.7" rx="2.2" ry="1.1" transform="rotate(-40 110.2 526.7)" fill="rgb(54,54,54)"/><ellipse cx="114.0" cy="526.7" rx="2.2" ry="1.1" transform="rotate(-40 114.0 526.7)" fill="rgb(64,64,64)"/><ellipse cx="97.8" cy="530.1" rx="2.2" ry="1.1" transform="rotate(-40 97.8 530.1)" fill="rgb(62,62,62)"/><ellipse cx="101.4" cy="530.1" rx="2.2" ry="1.1" transform="rotate(-40 101.4 530.1)" fill="rgb(57,57,57)"/><ellipse cx="106.4" cy="530.1" rx="2.2" ry="1.1" transform="rotate(-40 106.4 530.1)" fill="rgb(52,52,52)"/><ellipse cx="110.1" cy="530.1" rx="2.2" ry="1.1" transform="rotate(-40 110.1 530.1)" fill="rgb(50,50,50)"/><ellipse cx="114.5" cy="530.1" rx="2.2" ry="1.1" transform="rotate(-40 114.5 530.1)" fill="rgb(49,49,49)"/><ellipse cx="96.5" cy="533.4" rx="2.2" ry="1.1" transform="rotate(-40 96.5 533.4)" fill="rgb(63,63,63)"/><ellipse cx="100.8" cy="533.4" rx="2.2" ry="1.1" transform="rotate(-40 100.8 533.4)" fill="rgb(58,58,58)"/><ellipse cx="104.8" cy="533.4" rx="2.2" ry="1.1" transform="rotate(-40 104.8 533.4)" fill="rgb(59,59,59)"/><ellipse cx="109.4" cy="533.4" rx="2.2" ry="1.1" transform="rotate(-40 109.4 533.4)" fill="rgb(52,52,52)"/><ellipse cx="113.0" cy="533.4" rx="2.2" ry="1.1" transform="rotate(-40 113.0 533.4)" fill="rgb(49,49,49)"/><ellipse cx="96.0" cy="536.8" rx="2.2" ry="1.1" transform="rotate(-40 96.0 536.8)" fill="rgb(54,54,54)"/><ellipse cx="100.9" cy="536.8" rx="2.2" ry="1.1" transform="rotate(-40 100.9 536.8)" fill="rgb(54,54,54)"/><ellipse cx="105.1" cy="536.8" rx="2.2" ry="1.1" transform="rotate(-40 105.1 536.8)" fill="rgb(55,55,55)"/><ellipse cx="109.3" cy="536.8" rx="2.2" ry="1.1" transform="rotate(-40 109.3 536.8)" fill="rgb(51,51,51)"/><ellipse cx="114.0" cy="536.8" rx="2.2" ry="1.1" transform="rotate(-40 114.0 536.8)" fill="rgb(61,61,61)"/><ellipse cx="95.5" cy="539.8" rx="2.2" ry="1.1" transform="rotate(-40 95.5 539.8)" fill="rgb(63,63,63)"/><ellipse cx="99.7" cy="539.8" rx="2.2" ry="1.1" transform="rotate(-40 99.7 539.8)" fill="rgb(50,50,50)"/><ellipse cx="104.0" cy="539.8" rx="2.2" ry="1.1" transform="rotate(-40 104.0 539.8)" fill="rgb(61,61,61)"/><ellipse cx="107.8" cy="539.8" rx="2.2" ry="1.1" transform="rotate(-40 107.8 539.8)" fill="rgb(63,63,63)"/><ellipse cx="111.8" cy="539.8" rx="2.2" ry="1.1" transform="rotate(-40 111.8 539.8)" fill="rgb(62,62,62)"/><ellipse cx="116.0" cy="539.8" rx="2.2" ry="1.1" transform="rotate(-40 116.0 539.8)" fill="rgb(60,60,60)"/><ellipse cx="95.1" cy="543.0" rx="2.2" ry="1.1" transform="rotate(-40 95.1 543.0)" fill="rgb(56,56,56)"/><ellipse cx="99.2" cy="543.0" rx="2.2" ry="1.1" transform="rotate(-40 99.2 543.0)" fill="rgb(59,59,59)"/><ellipse cx="103.3" cy="543.0" rx="2.2" ry="1.1" transform="rotate(-40 103.3 543.0)" fill="rgb(59,59,59)"/><ellipse cx="107.7" cy="543.0" rx="2.2" ry="1.1" transform="rotate(-40 107.7 543.0)" fill="rgb(55,55,55)"/><ellipse cx="112.7" cy="543.0" rx="2.2" ry="1.1" transform="rotate(-40 112.7 543.0)" fill="rgb(54,54,54)"/><ellipse cx="116.6" cy="543.0" rx="2.2" ry="1.1" transform="rotate(-40 116.6 543.0)" fill="rgb(59,59,59)"/><ellipse cx="95.6" cy="546.1" rx="2.2" ry="1.1" transform="rotate(-40 95.6 546.1)" fill="rgb(54,54,54)"/><ellipse cx="99.1" cy="546.1" rx="2.2" ry="1.1" transform="rotate(-40 99.1 546.1)" fill="rgb(66,66,66)"/><ellipse cx="103.2" cy="546.1" rx="2.2" ry="1.1" transform="rotate(-40 103.2 546.1)" fill="rgb(53,53,53)"/><ellipse cx="107.7" cy="546.1" rx="2.2" ry="1.1" transform="rotate(-40 107.7 546.1)" fill="rgb(52,52,52)"/><ellipse cx="111.3" cy="546.1" rx="2.2" ry="1.1" transform="rotate(-40 111.3 546.1)" fill="rgb(53,53,53)"/><ellipse cx="115.5" cy="546.1" rx="2.2" ry="1.1" transform="rotate(-40 115.5 546.1)" fill="rgb(53,53,53)"/><ellipse cx="96.3" cy="548.9" rx="2.2" ry="1.1" transform="rotate(-40 96.3 548.9)" fill="rgb(61,61,61)"/><ellipse cx="99.9" cy="548.9" rx="2.2" ry="1.1" transform="rotate(-40 99.9 548.9)" fill="rgb(49,49,49)"/><ellipse cx="103.8" cy="548.9" rx="2.2" ry="1.1" transform="rotate(-40 103.8 548.9)" fill="rgb(49,49,49)"/><ellipse cx="107.8" cy="548.9" rx="2.2" ry="1.1" transform="rotate(-40 107.8 548.9)" fill="rgb(48,48,48)"/><ellipse cx="112.7" cy="548.9" rx="2.2" ry="1.1" transform="rotate(-40 112.7 548.9)" fill="rgb(55,55,55)"/><ellipse cx="116.6" cy="548.9" rx="2.2" ry="1.1" transform="rotate(-40 116.6 548.9)" fill="rgb(60,60,60)"/><ellipse cx="96.9" cy="551.9" rx="2.2" ry="1.1" transform="rotate(-40 96.9 551.9)" fill="rgb(59,59,59)"/><ellipse cx="101.7" cy="551.9" rx="2.2" ry="1.1" transform="rotate(-40 101.7 551.9)" fill="rgb(49,49,49)"/><ellipse cx="106.4" cy="551.9" rx="2.2" ry="1.1" transform="rotate(-40 106.4 551.9)" fill="rgb(57,57,57)"/><ellipse cx="110.4" cy="551.9" rx="2.2" ry="1.1" transform="rotate(-40 110.4 551.9)" fill="rgb(62,62,62)"/><ellipse cx="115.0" cy="551.9" rx="2.2" ry="1.1" transform="rotate(-40 115.0 551.9)" fill="rgb(57,57,57)"/><ellipse cx="95.1" cy="555.1" rx="2.2" ry="1.1" transform="rotate(-40 95.1 555.1)" fill="rgb(58,58,58)"/><ellipse cx="99.5" cy="555.1" rx="2.2" ry="1.1" transform="rotate(-40 99.5 555.1)" fill="rgb(59,59,59)"/><ellipse cx="103.5" cy="555.1" rx="2.2" ry="1.1" transform="rotate(-40 103.5 555.1)" fill="rgb(49,49,49)"/><ellipse cx="108.0" cy="555.1" rx="2.2" ry="1.1" transform="rotate(-40 108.0 555.1)" fill="rgb(50,50,50)"/><ellipse cx="112.4" cy="555.1" rx="2.2" ry="1.1" transform="rotate(-40 112.4 555.1)" fill="rgb(48,48,48)"/><ellipse cx="116.1" cy="555.1" rx="2.2" ry="1.1" transform="rotate(-40 116.1 555.1)" fill="rgb(50,50,50)"/><ellipse cx="96.4" cy="558.3" rx="2.2" ry="1.1" transform="rotate(-40 96.4 558.3)" fill="rgb(54,54,54)"/><ellipse cx="100.9" cy="558.3" rx="2.2" ry="1.1" transform="rotate(-40 100.9 558.3)" fill="rgb(58,58,58)"/><ellipse cx="104.7" cy="558.3" rx="2.2" ry="1.1" transform="rotate(-40 104.7 558.3)" fill="rgb(63,63,63)"/><ellipse cx="108.7" cy="558.3" rx="2.2" ry="1.1" transform="rotate(-40 108.7 558.3)" fill="rgb(63,63,63)"/><ellipse cx="113.6" cy="558.3" rx="2.2" ry="1.1" transform="rotate(-40 113.6 558.3)" fill="rgb(49,49,49)"/><ellipse cx="96.9" cy="561.7" rx="2.2" ry="1.1" transform="rotate(-40 96.9 561.7)" fill="rgb(60,60,60)"/><ellipse cx="100.5" cy="561.7" rx="2.2" ry="1.1" transform="rotate(-40 100.5 561.7)" fill="rgb(57,57,57)"/><ellipse cx="104.3" cy="561.7" rx="2.2" ry="1.1" transform="rotate(-40 104.3 561.7)" fill="rgb(61,61,61)"/><ellipse cx="108.0" cy="561.7" rx="2.2" ry="1.1" transform="rotate(-40 108.0 561.7)" fill="rgb(60,60,60)"/><ellipse cx="112.3" cy="561.7" rx="2.2" ry="1.1" transform="rotate(-40 112.3 561.7)" fill="rgb(65,65,65)"/><ellipse cx="116.8" cy="561.7" rx="2.2" ry="1.1" transform="rotate(-40 116.8 561.7)" fill="rgb(60,60,60)"/><ellipse cx="97.2" cy="565.1" rx="2.2" ry="1.1" transform="rotate(-40 97.2 565.1)" fill="rgb(65,65,65)"/><ellipse cx="101.2" cy="565.1" rx="2.2" ry="1.1" transform="rotate(-40 101.2 565.1)" fill="rgb(53,53,53)"/><ellipse cx="105.3" cy="565.1" rx="2.2" ry="1.1" transform="rotate(-40 105.3 565.1)" fill="rgb(61,61,61)"/><ellipse cx="109.4" cy="565.1" rx="2.2" ry="1.1" transform="rotate(-40 109.4 565.1)" fill="rgb(62,62,62)"/><ellipse cx="114.1" cy="565.1" rx="2.2" ry="1.1" transform="rotate(-40 114.1 565.1)" fill="rgb(63,63,63)"/><ellipse cx="96.5" cy="568.6" rx="2.2" ry="1.1" transform="rotate(-40 96.5 568.6)" fill="rgb(60,60,60)"/><ellipse cx="101.4" cy="568.6" rx="2.2" ry="1.1" transform="rotate(-40 101.4 568.6)" fill="rgb(49,49,49)"/><ellipse cx="105.2" cy="568.6" rx="2.2" ry="1.1" transform="rotate(-40 105.2 568.6)" fill="rgb(48,48,48)"/><ellipse cx="109.9" cy="568.6" rx="2.2" ry="1.1" transform="rotate(-40 109.9 568.6)" fill="rgb(50,50,50)"/><ellipse cx="114.5" cy="568.6" rx="2.2" ry="1.1" transform="rotate(-40 114.5 568.6)" fill="rgb(51,51,51)"/><ellipse cx="97.4" cy="571.9" rx="2.2" ry="1.1" transform="rotate(-40 97.4 571.9)" fill="rgb(49,49,49)"/><ellipse cx="102.2" cy="571.9" rx="2.2" ry="1.1" transform="rotate(-40 102.2 571.9)" fill="rgb(49,49,49)"/><ellipse cx="106.4" cy="571.9" rx="2.2" ry="1.1" transform="rotate(-40 106.4 571.9)" fill="rgb(58,58,58)"/><ellipse cx="111.4" cy="571.9" rx="2.2" ry="1.1" transform="rotate(-40 111.4 571.9)" fill="rgb(48,48,48)"/><ellipse cx="115.0" cy="571.9" rx="2.2" ry="1.1" transform="rotate(-40 115.0 571.9)" fill="rgb(60,60,60)"/><ellipse cx="96.0" cy="575.4" rx="2.2" ry="1.1" transform="rotate(-40 96.0 575.4)" fill="rgb(57,57,57)"/><ellipse cx="99.7" cy="575.4" rx="2.2" ry="1.1" transform="rotate(-40 99.7 575.4)" fill="rgb(50,50,50)"/><ellipse cx="104.4" cy="575.4" rx="2.2" ry="1.1" transform="rotate(-40 104.4 575.4)" fill="rgb(54,54,54)"/><ellipse cx="108.3" cy="575.4" rx="2.2" ry="1.1" transform="rotate(-40 108.3 575.4)" fill="rgb(49,49,49)"/><ellipse cx="113.2" cy="575.4" rx="2.2" ry="1.1" transform="rotate(-40 113.2 575.4)" fill="rgb(52,52,52)"/><ellipse cx="95.7" cy="578.2" rx="2.2" ry="1.1" transform="rotate(-40 95.7 578.2)" fill="rgb(54,54,54)"/><ellipse cx="99.5" cy="578.2" rx="2.2" ry="1.1" transform="rotate(-40 99.5 578.2)" fill="rgb(65,65,65)"/><ellipse cx="103.8" cy="578.2" rx="2.2" ry="1.1" transform="rotate(-40 103.8 578.2)" fill="rgb(64,64,64)"/><ellipse cx="108.5" cy="578.2" rx="2.2" ry="1.1" transform="rotate(-40 108.5 578.2)" fill="rgb(58,58,58)"/><ellipse cx="113.1" cy="578.2" rx="2.2" ry="1.1" transform="rotate(-40 113.1 578.2)" fill="rgb(65,65,65)"/><ellipse cx="96.9" cy="581.4" rx="2.2" ry="1.1" transform="rotate(-40 96.9 581.4)" fill="rgb(49,49,49)"/><ellipse cx="101.6" cy="581.4" rx="2.2" ry="1.1" transform="rotate(-40 101.6 581.4)" fill="rgb(51,51,51)"/><ellipse cx="106.0" cy="581.4" rx="2.2" ry="1.1" transform="rotate(-40 106.0 581.4)" fill="rgb(51,51,51)"/><ellipse cx="109.8" cy="581.4" rx="2.2" ry="1.1" transform="rotate(-40 109.8 581.4)" fill="rgb(56,56,56)"/><ellipse cx="113.4" cy="581.4" rx="2.2" ry="1.1" transform="rotate(-40 113.4 581.4)" fill="rgb(62,62,62)"/><ellipse cx="97.0" cy="584.8" rx="2.2" ry="1.1" transform="rotate(-40 97.0 584.8)" fill="rgb(51,51,51)"/><ellipse cx="101.5" cy="584.8" rx="2.2" ry="1.1" transform="rotate(-40 101.5 584.8)" fill="rgb(59,59,59)"/><ellipse cx="105.6" cy="584.8" rx="2.2" ry="1.1" transform="rotate(-40 105.6 584.8)" fill="rgb(62,62,62)"/><ellipse cx="110.3" cy="584.8" rx="2.2" ry="1.1" transform="rotate(-40 110.3 584.8)" fill="rgb(57,57,57)"/><ellipse cx="115.0" cy="584.8" rx="2.2" ry="1.1" transform="rotate(-40 115.0 584.8)" fill="rgb(62,62,62)"/><ellipse cx="96.6" cy="587.8" rx="2.2" ry="1.1" transform="rotate(-40 96.6 587.8)" fill="rgb(62,62,62)"/><ellipse cx="100.6" cy="587.8" rx="2.2" ry="1.1" transform="rotate(-40 100.6 587.8)" fill="rgb(50,50,50)"/><ellipse cx="104.6" cy="587.8" rx="2.2" ry="1.1" transform="rotate(-40 104.6 587.8)" fill="rgb(54,54,54)"/><ellipse cx="108.8" cy="587.8" rx="2.2" ry="1.1" transform="rotate(-40 108.8 587.8)" fill="rgb(50,50,50)"/><ellipse cx="113.7" cy="587.8" rx="2.2" ry="1.1" transform="rotate(-40 113.7 587.8)" fill="rgb(59,59,59)"/><ellipse cx="96.8" cy="591.1" rx="2.2" ry="1.1" transform="rotate(-40 96.8 591.1)" fill="rgb(54,54,54)"/><ellipse cx="100.7" cy="591.1" rx="2.2" ry="1.1" transform="rotate(-40 100.7 591.1)" fill="rgb(49,49,49)"/><ellipse cx="104.7" cy="591.1" rx="2.2" ry="1.1" transform="rotate(-40 104.7 591.1)" fill="rgb(61,61,61)"/><ellipse cx="108.9" cy="591.1" rx="2.2" ry="1.1" transform="rotate(-40 108.9 591.1)" fill="rgb(56,56,56)"/><ellipse cx="112.7" cy="591.1" rx="2.2" ry="1.1" transform="rotate(-40 112.7 591.1)" fill="rgb(53,53,53)"/><ellipse cx="95.7" cy="594.1" rx="2.2" ry="1.1" transform="rotate(-40 95.7 594.1)" fill="rgb(62,62,62)"/><ellipse cx="100.6" cy="594.1" rx="2.2" ry="1.1" transform="rotate(-40 100.6 594.1)" fill="rgb(65,65,65)"/><ellipse cx="105.3" cy="594.1" rx="2.2" ry="1.1" transform="rotate(-40 105.3 594.1)" fill="rgb(59,59,59)"/><ellipse cx="110.3" cy="594.1" rx="2.2" ry="1.1" transform="rotate(-40 110.3 594.1)" fill="rgb(61,61,61)"/><ellipse cx="114.5" cy="594.1" rx="2.2" ry="1.1" transform="rotate(-40 114.5 594.1)" fill="rgb(61,61,61)"/><ellipse cx="95.1" cy="597.3" rx="2.2" ry="1.1" transform="rotate(-40 95.1 597.3)" fill="rgb(48,48,48)"/><ellipse cx="98.9" cy="597.3" rx="2.2" ry="1.1" transform="rotate(-40 98.9 597.3)" fill="rgb(51,51,51)"/><ellipse cx="102.4" cy="597.3" rx="2.2" ry="1.1" transform="rotate(-40 102.4 597.3)" fill="rgb(52,52,52)"/><ellipse cx="106.4" cy="597.3" rx="2.2" ry="1.1" transform="rotate(-40 106.4 597.3)" fill="rgb(64,64,64)"/><ellipse cx="110.0" cy="597.3" rx="2.2" ry="1.1" transform="rotate(-40 110.0 597.3)" fill="rgb(63,63,63)"/><ellipse cx="113.5" cy="597.3" rx="2.2" ry="1.1" transform="rotate(-40 113.5 597.3)" fill="rgb(54,54,54)"/><ellipse cx="96.0" cy="600.5" rx="2.2" ry="1.1" transform="rotate(-40 96.0 600.5)" fill="rgb(54,54,54)"/><ellipse cx="100.7" cy="600.5" rx="2.2" ry="1.1" transform="rotate(-40 100.7 600.5)" fill="rgb(57,57,57)"/><ellipse cx="104.4" cy="600.5" rx="2.2" ry="1.1" transform="rotate(-40 104.4 600.5)" fill="rgb(62,62,62)"/><ellipse cx="108.3" cy="600.5" rx="2.2" ry="1.1" transform="rotate(-40 108.3 600.5)" fill="rgb(61,61,61)"/><ellipse cx="112.5" cy="600.5" rx="2.2" ry="1.1" transform="rotate(-40 112.5 600.5)" fill="rgb(54,54,54)"/><ellipse cx="116.2" cy="600.5" rx="2.2" ry="1.1" transform="rotate(-40 116.2 600.5)" fill="rgb(57,57,57)"/><ellipse cx="97.6" cy="604.1" rx="2.2" ry="1.1" transform="rotate(-40 97.6 604.1)" fill="rgb(59,59,59)"/><ellipse cx="102.5" cy="604.1" rx="2.2" ry="1.1" transform="rotate(-40 102.5 604.1)" fill="rgb(61,61,61)"/><ellipse cx="106.5" cy="604.1" rx="2.2" ry="1.1" transform="rotate(-40 106.5 604.1)" fill="rgb(62,62,62)"/><ellipse cx="110.7" cy="604.1" rx="2.2" ry="1.1" transform="rotate(-40 110.7 604.1)" fill="rgb(65,65,65)"/><ellipse cx="114.6" cy="604.1" rx="2.2" ry="1.1" transform="rotate(-40 114.6 604.1)" fill="rgb(57,57,57)"/><ellipse cx="97.7" cy="607.2" rx="2.2" ry="1.1" transform="rotate(-40 97.7 607.2)" fill="rgb(57,57,57)"/><ellipse cx="102.3" cy="607.2" rx="2.2" ry="1.1" transform="rotate(-40 102.3 607.2)" fill="rgb(64,64,64)"/><ellipse cx="105.8" cy="607.2" rx="2.2" ry="1.1" transform="rotate(-40 105.8 607.2)" fill="rgb(52,52,52)"/><ellipse cx="110.2" cy="607.2" rx="2.2" ry="1.1" transform="rotate(-40 110.2 607.2)" fill="rgb(52,52,52)"/><ellipse cx="114.5" cy="607.2" rx="2.2" ry="1.1" transform="rotate(-40 114.5 607.2)" fill="rgb(53,53,53)"/><ellipse cx="98.0" cy="610.1" rx="2.2" ry="1.1" transform="rotate(-40 98.0 610.1)" fill="rgb(62,62,62)"/><ellipse cx="102.0" cy="610.1" rx="2.2" ry="1.1" transform="rotate(-40 102.0 610.1)" fill="rgb(59,59,59)"/><ellipse cx="107.0" cy="610.1" rx="2.2" ry="1.1" transform="rotate(-40 107.0 610.1)" fill="rgb(49,49,49)"/><ellipse cx="111.2" cy="610.1" rx="2.2" ry="1.1" transform="rotate(-40 111.2 610.1)" fill="rgb(55,55,55)"/><ellipse cx="114.7" cy="610.1" rx="2.2" ry="1.1" transform="rotate(-40 114.7 610.1)" fill="rgb(61,61,61)"/><ellipse cx="96.8" cy="613.5" rx="2.2" ry="1.1" transform="rotate(-40 96.8 613.5)" fill="rgb(51,51,51)"/><ellipse cx="101.0" cy="613.5" rx="2.2" ry="1.1" transform="rotate(-40 101.0 613.5)" fill="rgb(56,56,56)"/><ellipse cx="104.9" cy="613.5" rx="2.2" ry="1.1" transform="rotate(-40 104.9 613.5)" fill="rgb(63,63,63)"/><ellipse cx="109.0" cy="613.5" rx="2.2" ry="1.1" transform="rotate(-40 109.0 613.5)" fill="rgb(56,56,56)"/><ellipse cx="113.0" cy="613.5" rx="2.2" ry="1.1" transform="rotate(-40 113.0 613.5)" fill="rgb(48,48,48)"/><ellipse cx="97.0" cy="616.8" rx="2.2" ry="1.1" transform="rotate(-40 97.0 616.8)" fill="rgb(66,66,66)"/><ellipse cx="100.9" cy="616.8" rx="2.2" ry="1.1" transform="rotate(-40 100.9 616.8)" fill="rgb(52,52,52)"/><ellipse cx="105.5" cy="616.8" rx="2.2" ry="1.1" transform="rotate(-40 105.5 616.8)" fill="rgb(61,61,61)"/><ellipse cx="109.8" cy="616.8" rx="2.2" ry="1.1" transform="rotate(-40 109.8 616.8)" fill="rgb(58,58,58)"/><ellipse cx="114.1" cy="616.8" rx="2.2" ry="1.1" transform="rotate(-40 114.1 616.8)" fill="rgb(56,56,56)"/><ellipse cx="96.5" cy="619.7" rx="2.2" ry="1.1" transform="rotate(-40 96.5 619.7)" fill="rgb(49,49,49)"/><ellipse cx="101.3" cy="619.7" rx="2.2" ry="1.1" transform="rotate(-40 101.3 619.7)" fill="rgb(62,62,62)"/><ellipse cx="105.5" cy="619.7" rx="2.2" ry="1.1" transform="rotate(-40 105.5 619.7)" fill="rgb(64,64,64)"/><ellipse cx="109.6" cy="619.7" rx="2.2" ry="1.1" transform="rotate(-40 109.6 619.7)" fill="rgb(64,64,64)"/><ellipse cx="114.1" cy="619.7" rx="2.2" ry="1.1" transform="rotate(-40 114.1 619.7)" fill="rgb(57,57,57)"/><ellipse cx="98.0" cy="623.0" rx="2.2" ry="1.1" transform="rotate(-40 98.0 623.0)" fill="rgb(65,65,65)"/><ellipse cx="101.6" cy="623.0" rx="2.2" ry="1.1" transform="rotate(-40 101.6 623.0)" fill="rgb(59,59,59)"/><ellipse cx="105.8" cy="623.0" rx="2.2" ry="1.1" transform="rotate(-40 105.8 623.0)" fill="rgb(56,56,56)"/><ellipse cx="110.5" cy="623.0" rx="2.2" ry="1.1" transform="rotate(-40 110.5 623.0)" fill="rgb(62,62,62)"/><ellipse cx="114.4" cy="623.0" rx="2.2" ry="1.1" transform="rotate(-40 114.4 623.0)" fill="rgb(64,64,64)"/><ellipse cx="96.6" cy="626.1" rx="2.2" ry="1.1" transform="rotate(-40 96.6 626.1)" fill="rgb(61,61,61)"/><ellipse cx="100.8" cy="626.1" rx="2.2" ry="1.1" transform="rotate(-40 100.8 626.1)" fill="rgb(55,55,55)"/><ellipse cx="105.5" cy="626.1" rx="2.2" ry="1.1" transform="rotate(-40 105.5 626.1)" fill="rgb(66,66,66)"/><ellipse cx="110.0" cy="626.1" rx="2.2" ry="1.1" transform="rotate(-40 110.0 626.1)" fill="rgb(48,48,48)"/><ellipse cx="113.9" cy="626.1" rx="2.2" ry="1.1" transform="rotate(-40 113.9 626.1)" fill="rgb(65,65,65)"/><ellipse cx="97.4" cy="629.0" rx="2.2" ry="1.1" transform="rotate(-40 97.4 629.0)" fill="rgb(56,56,56)"/><ellipse cx="101.0" cy="629.0" rx="2.2" ry="1.1" transform="rotate(-40 101.0 629.0)" fill="rgb(50,50,50)"/><ellipse cx="105.1" cy="629.0" rx="2.2" ry="1.1" transform="rotate(-40 105.1 629.0)" fill="rgb(64,64,64)"/><ellipse cx="109.3" cy="629.0" rx="2.2" ry="1.1" transform="rotate(-40 109.3 629.0)" fill="rgb(62,62,62)"/><ellipse cx="113.1" cy="629.0" rx="2.2" ry="1.1" transform="rotate(-40 113.1 629.0)" fill="rgb(59,59,59)"/><ellipse cx="116.9" cy="629.0" rx="2.2" ry="1.1" transform="rotate(-40 116.9 629.0)" fill="rgb(60,60,60)"/><ellipse cx="95.1" cy="632.1" rx="2.2" ry="1.1" transform="rotate(-40 95.1 632.1)" fill="rgb(54,54,54)"/><ellipse cx="100.1" cy="632.1" rx="2.2" ry="1.1" transform="rotate(-40 100.1 632.1)" fill="rgb(58,58,58)"/><ellipse cx="104.0" cy="632.1" rx="2.2" ry="1.1" transform="rotate(-40 104.0 632.1)" fill="rgb(60,60,60)"/><ellipse cx="108.4" cy="632.1" rx="2.2" ry="1.1" transform="rotate(-40 108.4 632.1)" fill="rgb(49,49,49)"/><ellipse cx="112.1" cy="632.1" rx="2.2" ry="1.1" transform="rotate(-40 112.1 632.1)" fill="rgb(56,56,56)"/><ellipse cx="116.2" cy="632.1" rx="2.2" ry="1.1" transform="rotate(-40 116.2 632.1)" fill="rgb(50,50,50)"/><ellipse cx="97.2" cy="635.6" rx="2.2" ry="1.1" transform="rotate(-40 97.2 635.6)" fill="rgb(64,64,64)"/><ellipse cx="100.9" cy="635.6" rx="2.2" ry="1.1" transform="rotate(-40 100.9 635.6)" fill="rgb(51,51,51)"/><ellipse cx="105.3" cy="635.6" rx="2.2" ry="1.1" transform="rotate(-40 105.3 635.6)" fill="rgb(48,48,48)"/><ellipse cx="110.2" cy="635.6" rx="2.2" ry="1.1" transform="rotate(-40 110.2 635.6)" fill="rgb(50,50,50)"/><ellipse cx="114.4" cy="635.6" rx="2.2" ry="1.1" transform="rotate(-40 114.4 635.6)" fill="rgb(63,63,63)"/><ellipse cx="96.7" cy="638.7" rx="2.2" ry="1.1" transform="rotate(-40 96.7 638.7)" fill="rgb(53,53,53)"/><ellipse cx="100.5" cy="638.7" rx="2.2" ry="1.1" transform="rotate(-40 100.5 638.7)" fill="rgb(53,53,53)"/><ellipse cx="104.2" cy="638.7" rx="2.2" ry="1.1" transform="rotate(-40 104.2 638.7)" fill="rgb(53,53,53)"/><ellipse cx="108.8" cy="638.7" rx="2.2" ry="1.1" transform="rotate(-40 108.8 638.7)" fill="rgb(62,62,62)"/><ellipse cx="113.3" cy="638.7" rx="2.2" ry="1.1" transform="rotate(-40 113.3 638.7)" fill="rgb(48,48,48)"/><ellipse cx="97.3" cy="641.5" rx="2.2" ry="1.1" transform="rotate(-40 97.3 641.5)" fill="rgb(53,53,53)"/><ellipse cx="101.2" cy="641.5" rx="2.2" ry="1.1" transform="rotate(-40 101.2 641.5)" fill="rgb(52,52,52)"/><ellipse cx="106.1" cy="641.5" rx="2.2" ry="1.1" transform="rotate(-40 106.1 641.5)" fill="rgb(49,49,49)"/><ellipse cx="110.3" cy="641.5" rx="2.2" ry="1.1" transform="rotate(-40 110.3 641.5)" fill="rgb(52,52,52)"/><ellipse cx="114.6" cy="641.5" rx="2.2" ry="1.1" transform="rotate(-40 114.6 641.5)" fill="rgb(60,60,60)"/><ellipse cx="95.5" cy="644.7" rx="2.2" ry="1.1" transform="rotate(-40 95.5 644.7)" fill="rgb(48,48,48)"/><ellipse cx="99.5" cy="644.7" rx="2.2" ry="1.1" transform="rotate(-40 99.5 644.7)" fill="rgb(52,52,52)"/><ellipse cx="103.1" cy="644.7" rx="2.2" ry="1.1" transform="rotate(-40 103.1 644.7)" fill="rgb(57,57,57)"/><ellipse cx="106.8" cy="644.7" rx="2.2" ry="1.1" transform="rotate(-40 106.8 644.7)" fill="rgb(59,59,59)"/><ellipse cx="111.7" cy="644.7" rx="2.2" ry="1.1" transform="rotate(-40 111.7 644.7)" fill="rgb(50,50,50)"/><ellipse cx="116.6" cy="644.7" rx="2.2" ry="1.1" transform="rotate(-40 116.6 644.7)" fill="rgb(48,48,48)"/><ellipse cx="97.9" cy="648.3" rx="2.2" ry="1.1" transform="rotate(-40 97.9 648.3)" fill="rgb(55,55,55)"/><ellipse cx="101.5" cy="648.3" rx="2.2" ry="1.1" transform="rotate(-40 101.5 648.3)" fill="rgb(65,65,65)"/><ellipse cx="106.5" cy="648.3" rx="2.2" ry="1.1" transform="rotate(-40 106.5 648.3)" fill="rgb(63,63,63)"/><ellipse cx="110.1" cy="648.3" rx="2.2" ry="1.1" transform="rotate(-40 110.1 648.3)" fill="rgb(58,58,58)"/><ellipse cx="114.3" cy="648.3" rx="2.2" ry="1.1" transform="rotate(-40 114.3 648.3)" fill="rgb(59,59,59)"/><ellipse cx="96.3" cy="651.7" rx="2.2" ry="1.1" transform="rotate(-40 96.3 651.7)" fill="rgb(61,61,61)"/><ellipse cx="100.5" cy="651.7" rx="2.2" ry="1.1" transform="rotate(-40 100.5 651.7)" fill="rgb(65,65,65)"/><ellipse cx="104.5" cy="651.7" rx="2.2" ry="1.1" transform="rotate(-40 104.5 651.7)" fill="rgb(52,52,52)"/><ellipse cx="108.8" cy="651.7" rx="2.2" ry="1.1" transform="rotate(-40 108.8 651.7)" fill="rgb(60,60,60)"/><ellipse cx="112.6" cy="651.7" rx="2.2" ry="1.1" transform="rotate(-40 112.6 651.7)" fill="rgb(57,57,57)"/><ellipse cx="95.5" cy="655.2" rx="2.2" ry="1.1" transform="rotate(-40 95.5 655.2)" fill="rgb(53,53,53)"/><ellipse cx="99.5" cy="655.2" rx="2.2" ry="1.1" transform="rotate(-40 99.5 655.2)" fill="rgb(54,54,54)"/><ellipse cx="103.2" cy="655.2" rx="2.2" ry="1.1" transform="rotate(-40 103.2 655.2)" fill="rgb(49,49,49)"/><ellipse cx="107.3" cy="655.2" rx="2.2" ry="1.1" transform="rotate(-40 107.3 655.2)" fill="rgb(53,53,53)"/><ellipse cx="111.0" cy="655.2" rx="2.2" ry="1.1" transform="rotate(-40 111.0 655.2)" fill="rgb(48,48,48)"/><ellipse cx="114.7" cy="655.2" rx="2.2" ry="1.1" transform="rotate(-40 114.7 655.2)" fill="rgb(51,51,51)"/><ellipse cx="97.1" cy="658.8" rx="2.2" ry="1.1" transform="rotate(-40 97.1 658.8)" fill="rgb(64,64,64)"/><ellipse cx="101.6" cy="658.8" rx="2.2" ry="1.1" transform="rotate(-40 101.6 658.8)" fill="rgb(56,56,56)"/><ellipse cx="105.2" cy="658.8" rx="2.2" ry="1.1" transform="rotate(-40 105.2 658.8)" fill="rgb(65,65,65)"/><ellipse cx="109.6" cy="658.8" rx="2.2" ry="1.1" transform="rotate(-40 109.6 658.8)" fill="rgb(58,58,58)"/><ellipse cx="113.3" cy="658.8" rx="2.2" ry="1.1" transform="rotate(-40 113.3 658.8)" fill="rgb(54,54,54)"/><ellipse cx="96.1" cy="662.0" rx="2.2" ry="1.1" transform="rotate(-40 96.1 662.0)" fill="rgb(58,58,58)"/><ellipse cx="100.5" cy="662.0" rx="2.2" ry="1.1" transform="rotate(-40 100.5 662.0)" fill="rgb(59,59,59)"/><ellipse cx="105.3" cy="662.0" rx="2.2" ry="1.1" transform="rotate(-40 105.3 662.0)" fill="rgb(58,58,58)"/><ellipse cx="109.2" cy="662.0" rx="2.2" ry="1.1" transform="rotate(-40 109.2 662.0)" fill="rgb(57,57,57)"/><ellipse cx="113.1" cy="662.0" rx="2.2" ry="1.1" transform="rotate(-40 113.1 662.0)" fill="rgb(51,51,51)"/><ellipse cx="98.0" cy="665.0" rx="2.2" ry="1.1" transform="rotate(-40 98.0 665.0)" fill="rgb(55,55,55)"/><ellipse cx="101.9" cy="665.0" rx="2.2" ry="1.1" transform="rotate(-40 101.9 665.0)" fill="rgb(56,56,56)"/><ellipse cx="106.1" cy="665.0" rx="2.2" ry="1.1" transform="rotate(-40 106.1 665.0)" fill="rgb(63,63,63)"/><ellipse cx="110.1" cy="665.0" rx="2.2" ry="1.1" transform="rotate(-40 110.1 665.0)" fill="rgb(53,53,53)"/><ellipse cx="115.1" cy="665.0" rx="2.2" ry="1.1" transform="rotate(-40 115.1 665.0)" fill="rgb(64,64,64)"/><ellipse cx="95.2" cy="668.6" rx="2.2" ry="1.1" transform="rotate(-40 95.2 668.6)" fill="rgb(61,61,61)"/><ellipse cx="99.3" cy="668.6" rx="2.2" ry="1.1" transform="rotate(-40 99.3 668.6)" fill="rgb(57,57,57)"/><ellipse cx="102.9" cy="668.6" rx="2.2" ry="1.1" transform="rotate(-40 102.9 668.6)" fill="rgb(60,60,60)"/><ellipse cx="107.0" cy="668.6" rx="2.2" ry="1.1" transform="rotate(-40 107.0 668.6)" fill="rgb(50,50,50)"/><ellipse cx="111.0" cy="668.6" rx="2.2" ry="1.1" transform="rotate(-40 111.0 668.6)" fill="rgb(54,54,54)"/><ellipse cx="114.6" cy="668.6" rx="2.2" ry="1.1" transform="rotate(-40 114.6 668.6)" fill="rgb(63,63,63)"/><ellipse cx="97.6" cy="671.7" rx="2.2" ry="1.1" transform="rotate(-40 97.6 671.7)" fill="rgb(65,65,65)"/><ellipse cx="101.6" cy="671.7" rx="2.2" ry="1.1" transform="rotate(-40 101.6 671.7)" fill="rgb(57,57,57)"/><ellipse cx="105.7" cy="671.7" rx="2.2" ry="1.1" transform="rotate(-40 105.7 671.7)" fill="rgb(59,59,59)"/><ellipse cx="109.8" cy="671.7" rx="2.2" ry="1.1" transform="rotate(-40 109.8 671.7)" fill="rgb(59,59,59)"/><ellipse cx="114.7" cy="671.7" rx="2.2" ry="1.1" transform="rotate(-40 114.7 671.7)" fill="rgb(51,51,51)"/><ellipse cx="95.7" cy="674.7" rx="2.2" ry="1.1" transform="rotate(-40 95.7 674.7)" fill="rgb(59,59,59)"/><ellipse cx="99.3" cy="674.7" rx="2.2" ry="1.1" transform="rotate(-40 99.3 674.7)" fill="rgb(48,48,48)"/><ellipse cx="103.0" cy="674.7" rx="2.2" ry="1.1" transform="rotate(-40 103.0 674.7)" fill="rgb(50,50,50)"/><ellipse cx="106.8" cy="674.7" rx="2.2" ry="1.1" transform="rotate(-40 106.8 674.7)" fill="rgb(61,61,61)"/><ellipse cx="110.7" cy="674.7" rx="2.2" ry="1.1" transform="rotate(-40 110.7 674.7)" fill="rgb(48,48,48)"/><ellipse cx="114.2" cy="674.7" rx="2.2" ry="1.1" transform="rotate(-40 114.2 674.7)" fill="rgb(58,58,58)"/><ellipse cx="97.5" cy="678.0" rx="2.2" ry="1.1" transform="rotate(-40 97.5 678.0)" fill="rgb(54,54,54)"/><ellipse cx="101.6" cy="678.0" rx="2.2" ry="1.1" transform="rotate(-40 101.6 678.0)" fill="rgb(66,66,66)"/><ellipse cx="105.3" cy="678.0" rx="2.2" ry="1.1" transform="rotate(-40 105.3 678.0)" fill="rgb(60,60,60)"/><ellipse cx="109.2" cy="678.0" rx="2.2" ry="1.1" transform="rotate(-40 109.2 678.0)" fill="rgb(52,52,52)"/><ellipse cx="114.0" cy="678.0" rx="2.2" ry="1.1" transform="rotate(-40 114.0 678.0)" fill="rgb(57,57,57)"/><ellipse cx="95.5" cy="680.9" rx="2.2" ry="1.1" transform="rotate(-40 95.5 680.9)" fill="rgb(50,50,50)"/><ellipse cx="99.7" cy="680.9" rx="2.2" ry="1.1" transform="rotate(-40 99.7 680.9)" fill="rgb(59,59,59)"/><ellipse cx="103.7" cy="680.9" rx="2.2" ry="1.1" transform="rotate(-40 103.7 680.9)" fill="rgb(63,63,63)"/><ellipse cx="108.5" cy="680.9" rx="2.2" ry="1.1" transform="rotate(-40 108.5 680.9)" fill="rgb(53,53,53)"/><ellipse cx="112.7" cy="680.9" rx="2.2" ry="1.1" transform="rotate(-40 112.7 680.9)" fill="rgb(52,52,52)"/><ellipse cx="116.8" cy="680.9" rx="2.2" ry="1.1" transform="rotate(-40 116.8 680.9)" fill="rgb(64,64,64)"/><ellipse cx="97.8" cy="684.2" rx="2.2" ry="1.1" transform="rotate(-40 97.8 684.2)" fill="rgb(57,57,57)"/><ellipse cx="102.0" cy="684.2" rx="2.2" ry="1.1" transform="rotate(-40 102.0 684.2)" fill="rgb(51,51,51)"/><ellipse cx="106.5" cy="684.2" rx="2.2" ry="1.1" transform="rotate(-40 106.5 684.2)" fill="rgb(50,50,50)"/><ellipse cx="110.1" cy="684.2" rx="2.2" ry="1.1" transform="rotate(-40 110.1 684.2)" fill="rgb(58,58,58)"/><ellipse cx="113.7" cy="684.2" rx="2.2" ry="1.1" transform="rotate(-40 113.7 684.2)" fill="rgb(48,48,48)"/><ellipse cx="96.9" cy="687.7" rx="2.2" ry="1.1" transform="rotate(-40 96.9 687.7)" fill="rgb(51,51,51)"/><ellipse cx="101.6" cy="687.7" rx="2.2" ry="1.1" transform="rotate(-40 101.6 687.7)" fill="rgb(58,58,58)"/><ellipse cx="106.1" cy="687.7" rx="2.2" ry="1.1" transform="rotate(-40 106.1 687.7)" fill="rgb(66,66,66)"/><ellipse cx="109.9" cy="687.7" rx="2.2" ry="1.1" transform="rotate(-40 109.9 687.7)" fill="rgb(58,58,58)"/><ellipse cx="113.7" cy="687.7" rx="2.2" ry="1.1" transform="rotate(-40 113.7 687.7)" fill="rgb(60,60,60)"/><ellipse cx="96.6" cy="690.6" rx="2.2" ry="1.1" transform="rotate(-40 96.6 690.6)" fill="rgb(64,64,64)"/><ellipse cx="100.8" cy="690.6" rx="2.2" ry="1.1" transform="rotate(-40 100.8 690.6)" fill="rgb(66,66,66)"/><ellipse cx="105.6" cy="690.6" rx="2.2" ry="1.1" transform="rotate(-40 105.6 690.6)" fill="rgb(53,53,53)"/><ellipse cx="109.4" cy="690.6" rx="2.2" ry="1.1" transform="rotate(-40 109.4 690.6)" fill="rgb(63,63,63)"/><ellipse cx="114.2" cy="690.6" rx="2.2" ry="1.1" transform="rotate(-40 114.2 690.6)" fill="rgb(65,65,65)"/><ellipse cx="96.4" cy="693.7" rx="2.2" ry="1.1" transform="rotate(-40 96.4 693.7)" fill="rgb(64,64,64)"/><ellipse cx="100.2" cy="693.7" rx="2.2" ry="1.1" transform="rotate(-40 100.2 693.7)" fill="rgb(66,66,66)"/><ellipse cx="104.2" cy="693.7" rx="2.2" ry="1.1" transform="rotate(-40 104.2 693.7)" fill="rgb(66,66,66)"/><ellipse cx="107.9" cy="693.7" rx="2.2" ry="1.1" transform="rotate(-40 107.9 693.7)" fill="rgb(65,65,65)"/><ellipse cx="111.9" cy="693.7" rx="2.2" ry="1.1" transform="rotate(-40 111.9 693.7)" fill="rgb(64,64,64)"/><ellipse cx="115.9" cy="693.7" rx="2.2" ry="1.1" transform="rotate(-40 115.9 693.7)" fill="rgb(66,66,66)"/><ellipse cx="95.6" cy="697.0" rx="2.2" ry="1.1" transform="rotate(-40 95.6 697.0)" fill="rgb(49,49,49)"/><ellipse cx="100.2" cy="697.0" rx="2.2" ry="1.1" transform="rotate(-40 100.2 697.0)" fill="rgb(57,57,57)"/><ellipse cx="104.6" cy="697.0" rx="2.2" ry="1.1" transform="rotate(-40 104.6 697.0)" fill="rgb(63,63,63)"/><ellipse cx="109.4" cy="697.0" rx="2.2" ry="1.1" transform="rotate(-40 109.4 697.0)" fill="rgb(54,54,54)"/><ellipse cx="113.2" cy="697.0" rx="2.2" ry="1.1" transform="rotate(-40 113.2 697.0)" fill="rgb(51,51,51)"/><ellipse cx="97.7" cy="699.9" rx="2.2" ry="1.1" transform="rotate(-40 97.7 699.9)" fill="rgb(60,60,60)"/><ellipse cx="102.5" cy="699.9" rx="2.2" ry="1.1" transform="rotate(-40 102.5 699.9)" fill="rgb(58,58,58)"/><ellipse cx="106.3" cy="699.9" rx="2.2" ry="1.1" transform="rotate(-40 106.3 699.9)" fill="rgb(49,49,49)"/><ellipse cx="110.3" cy="699.9" rx="2.2" ry="1.1" transform="rotate(-40 110.3 699.9)" fill="rgb(55,55,55)"/><ellipse cx="114.4" cy="699.9" rx="2.2" ry="1.1" transform="rotate(-40 114.4 699.9)" fill="rgb(49,49,49)"/><ellipse cx="95.7" cy="703.0" rx="2.2" ry="1.1" transform="rotate(-40 95.7 703.0)" fill="rgb(57,57,57)"/><ellipse cx="99.5" cy="703.0" rx="2.2" ry="1.1" transform="rotate(-40 99.5 703.0)" fill="rgb(56,56,56)"/><ellipse cx="103.1" cy="703.0" rx="2.2" ry="1.1" transform="rotate(-40 103.1 703.0)" fill="rgb(58,58,58)"/><ellipse cx="107.7" cy="703.0" rx="2.2" ry="1.1" transform="rotate(-40 107.7 703.0)" fill="rgb(54,54,54)"/><ellipse cx="111.6" cy="703.0" rx="2.2" ry="1.1" transform="rotate(-40 111.6 703.0)" fill="rgb(62,62,62)"/><ellipse cx="115.3" cy="703.0" rx="2.2" ry="1.1" transform="rotate(-40 115.3 703.0)" fill="rgb(53,53,53)"/><ellipse cx="97.5" cy="388.2" rx="2.0" ry="1.2" transform="rotate(40 97.5 388.2)" fill="rgb(138,138,141)"/><ellipse cx="103.7" cy="388.6" rx="2.2" ry="0.9" transform="rotate(40 103.7 388.6)" fill="rgb(119,119,122)"/><ellipse cx="109.1" cy="387.8" rx="2.2" ry="1.1" transform="rotate(40 109.1 387.8)" fill="rgb(117,117,120)"/><ellipse cx="114.5" cy="388.3" rx="2.6" ry="1.1" transform="rotate(40 114.5 388.3)" fill="rgb(125,125,128)"/><ellipse cx="101.4" cy="392.0" rx="1.9" ry="1.0" transform="rotate(40 101.4 392.0)" fill="rgb(133,133,136)"/><ellipse cx="107.2" cy="391.9" rx="2.3" ry="1.2" transform="rotate(40 107.2 391.9)" fill="rgb(102,102,105)"/><ellipse cx="113.6" cy="392.3" rx="2.3" ry="1.2" transform="rotate(40 113.6 392.3)" fill="rgb(119,119,122)"/><ellipse cx="104.2" cy="396.9" rx="2.1" ry="1.1" transform="rotate(40 104.2 396.9)" fill="rgb(148,148,151)"/><ellipse cx="109.7" cy="398.0" rx="2.4" ry="1.0" transform="rotate(40 109.7 398.0)" fill="rgb(124,124,127)"/><ellipse cx="106.4" cy="401.8" rx="1.8" ry="1.1" transform="rotate(40 106.4 401.8)" fill="rgb(146,146,149)"/><ellipse cx="112.4" cy="401.5" rx="1.9" ry="1.1" transform="rotate(40 112.4 401.5)" fill="rgb(134,134,137)"/><ellipse cx="98.3" cy="406.0" rx="1.9" ry="1.3" transform="rotate(40 98.3 406.0)" fill="rgb(116,116,119)"/><ellipse cx="109.0" cy="405.8" rx="2.6" ry="1.2" transform="rotate(40 109.0 405.8)" fill="rgb(132,132,135)"/><ellipse cx="115.5" cy="405.7" rx="1.9" ry="1.2" transform="rotate(40 115.5 405.7)" fill="rgb(106,106,109)"/><ellipse cx="101.4" cy="410.3" rx="1.8" ry="1.1" transform="rotate(40 101.4 410.3)" fill="rgb(110,110,113)"/><ellipse cx="107.0" cy="411.4" rx="2.2" ry="1.2" transform="rotate(40 107.0 411.4)" fill="rgb(127,127,130)"/><ellipse cx="111.9" cy="410.8" rx="2.5" ry="1.0" transform="rotate(40 111.9 410.8)" fill="rgb(137,137,140)"/><ellipse cx="97.1" cy="414.8" rx="2.5" ry="1.2" transform="rotate(40 97.1 414.8)" fill="rgb(113,113,116)"/><ellipse cx="102.8" cy="416.3" rx="2.1" ry="0.9" transform="rotate(40 102.8 416.3)" fill="rgb(158,158,161)"/><ellipse cx="108.8" cy="415.7" rx="1.9" ry="1.1" transform="rotate(40 108.8 415.7)" fill="rgb(118,118,121)"/><ellipse cx="113.3" cy="415.9" rx="1.9" ry="1.2" transform="rotate(40 113.3 415.9)" fill="rgb(139,139,142)"/><ellipse cx="101.7" cy="419.2" rx="2.3" ry="1.0" transform="rotate(40 101.7 419.2)" fill="rgb(142,142,145)"/><ellipse cx="107.4" cy="420.5" rx="1.8" ry="1.0" transform="rotate(40 107.4 420.5)" fill="rgb(110,110,113)"/><ellipse cx="112.6" cy="420.2" rx="2.1" ry="1.2" transform="rotate(40 112.6 420.2)" fill="rgb(113,113,116)"/><ellipse cx="104.4" cy="423.5" rx="2.1" ry="1.1" transform="rotate(40 104.4 423.5)" fill="rgb(126,126,129)"/><ellipse cx="109.5" cy="423.7" rx="1.8" ry="0.9" transform="rotate(40 109.5 423.7)" fill="rgb(106,106,109)"/><ellipse cx="101.7" cy="428.6" rx="2.5" ry="1.0" transform="rotate(40 101.7 428.6)" fill="rgb(142,142,145)"/><ellipse cx="108.5" cy="428.5" rx="2.2" ry="0.9" transform="rotate(40 108.5 428.5)" fill="rgb(128,128,131)"/><ellipse cx="113.5" cy="428.4" rx="2.0" ry="1.1" transform="rotate(40 113.5 428.4)" fill="rgb(108,108,111)"/><ellipse cx="102.6" cy="432.8" rx="1.8" ry="1.1" transform="rotate(40 102.6 432.8)" fill="rgb(101,101,104)"/><ellipse cx="115.5" cy="432.9" rx="2.5" ry="1.1" transform="rotate(40 115.5 432.9)" fill="rgb(119,119,122)"/><ellipse cx="100.1" cy="437.3" rx="2.6" ry="1.0" transform="rotate(40 100.1 437.3)" fill="rgb(107,107,110)"/><ellipse cx="107.5" cy="436.6" rx="1.9" ry="1.0" transform="rotate(40 107.5 436.6)" fill="rgb(132,132,135)"/><ellipse cx="113.8" cy="436.7" rx="1.9" ry="1.2" transform="rotate(40 113.8 436.7)" fill="rgb(131,131,134)"/><ellipse cx="97.8" cy="441.5" rx="2.6" ry="1.0" transform="rotate(40 97.8 441.5)" fill="rgb(138,138,141)"/><ellipse cx="104.5" cy="442.0" rx="2.1" ry="1.2" transform="rotate(40 104.5 442.0)" fill="rgb(113,113,116)"/><ellipse cx="110.7" cy="440.6" rx="2.3" ry="1.2" transform="rotate(40 110.7 440.6)" fill="rgb(121,121,124)"/><ellipse cx="101.3" cy="445.7" rx="2.2" ry="1.0" transform="rotate(40 101.3 445.7)" fill="rgb(158,158,161)"/><ellipse cx="106.1" cy="446.3" rx="2.1" ry="1.2" transform="rotate(40 106.1 446.3)" fill="rgb(102,102,105)"/><ellipse cx="112.2" cy="445.9" rx="2.0" ry="1.0" transform="rotate(40 112.2 445.9)" fill="rgb(108,108,111)"/><ellipse cx="98.7" cy="449.7" rx="2.2" ry="1.1" transform="rotate(40 98.7 449.7)" fill="rgb(124,124,127)"/><ellipse cx="104.4" cy="450.2" rx="2.5" ry="1.0" transform="rotate(40 104.4 450.2)" fill="rgb(110,110,113)"/><ellipse cx="114.9" cy="450.4" rx="1.9" ry="0.9" transform="rotate(40 114.9 450.4)" fill="rgb(157,157,160)"/><ellipse cx="106.2" cy="454.5" rx="2.1" ry="1.0" transform="rotate(40 106.2 454.5)" fill="rgb(140,140,143)"/><ellipse cx="111.4" cy="453.2" rx="2.1" ry="1.1" transform="rotate(40 111.4 453.2)" fill="rgb(160,160,163)"/><ellipse cx="103.9" cy="457.5" rx="2.5" ry="1.0" transform="rotate(40 103.9 457.5)" fill="rgb(147,147,150)"/><ellipse cx="110.7" cy="457.6" rx="1.8" ry="1.2" transform="rotate(40 110.7 457.6)" fill="rgb(125,125,128)"/><ellipse cx="101.9" cy="462.8" rx="2.0" ry="1.0" transform="rotate(40 101.9 462.8)" fill="rgb(122,122,125)"/><ellipse cx="107.7" cy="462.0" rx="2.2" ry="1.0" transform="rotate(40 107.7 462.0)" fill="rgb(107,107,110)"/><ellipse cx="97.2" cy="466.3" rx="1.9" ry="1.3" transform="rotate(40 97.2 466.3)" fill="rgb(105,105,108)"/><ellipse cx="102.9" cy="466.0" rx="2.4" ry="1.1" transform="rotate(40 102.9 466.0)" fill="rgb(116,116,119)"/><ellipse cx="108.9" cy="466.6" rx="2.1" ry="0.9" transform="rotate(40 108.9 466.6)" fill="rgb(114,114,117)"/><ellipse cx="115.3" cy="467.4" rx="1.8" ry="1.1" transform="rotate(40 115.3 467.4)" fill="rgb(118,118,121)"/><ellipse cx="101.6" cy="471.1" rx="2.2" ry="1.1" transform="rotate(40 101.6 471.1)" fill="rgb(154,154,157)"/><ellipse cx="107.0" cy="470.7" rx="2.4" ry="1.3" transform="rotate(40 107.0 470.7)" fill="rgb(123,123,126)"/><ellipse cx="114.0" cy="469.9" rx="2.4" ry="1.0" transform="rotate(40 114.0 469.9)" fill="rgb(104,104,107)"/><ellipse cx="98.1" cy="474.4" rx="2.1" ry="0.9" transform="rotate(40 98.1 474.4)" fill="rgb(105,105,108)"/><ellipse cx="103.8" cy="474.5" rx="1.9" ry="1.2" transform="rotate(40 103.8 474.5)" fill="rgb(124,124,127)"/><ellipse cx="109.8" cy="474.0" rx="2.3" ry="1.3" transform="rotate(40 109.8 474.0)" fill="rgb(129,129,132)"/><ellipse cx="105.7" cy="478.2" rx="2.4" ry="0.9" transform="rotate(40 105.7 478.2)" fill="rgb(101,101,104)"/><ellipse cx="112.4" cy="479.2" rx="2.4" ry="1.2" transform="rotate(40 112.4 479.2)" fill="rgb(120,120,123)"/><ellipse cx="96.8" cy="483.3" rx="2.0" ry="1.1" transform="rotate(40 96.8 483.3)" fill="rgb(100,100,103)"/><ellipse cx="103.9" cy="482.5" rx="2.2" ry="1.1" transform="rotate(40 103.9 482.5)" fill="rgb(142,142,145)"/><ellipse cx="109.2" cy="482.6" rx="1.9" ry="1.3" transform="rotate(40 109.2 482.6)" fill="rgb(148,148,151)"/><ellipse cx="115.6" cy="482.3" rx="2.0" ry="1.0" transform="rotate(40 115.6 482.3)" fill="rgb(120,120,123)"/><ellipse cx="100.7" cy="486.5" rx="2.1" ry="1.3" transform="rotate(40 100.7 486.5)" fill="rgb(129,129,132)"/><ellipse cx="105.4" cy="487.2" rx="2.4" ry="1.1" transform="rotate(40 105.4 487.2)" fill="rgb(138,138,141)"/><ellipse cx="98.5" cy="491.3" rx="2.5" ry="1.0" transform="rotate(40 98.5 491.3)" fill="rgb(149,149,152)"/><ellipse cx="103.9" cy="492.2" rx="2.4" ry="1.1" transform="rotate(40 103.9 492.2)" fill="rgb(131,131,134)"/><ellipse cx="108.3" cy="496.4" rx="2.3" ry="1.0" transform="rotate(40 108.3 496.4)" fill="rgb(143,143,146)"/><ellipse cx="114.9" cy="496.1" rx="2.0" ry="1.1" transform="rotate(40 114.9 496.1)" fill="rgb(128,128,131)"/><ellipse cx="97.7" cy="499.3" rx="2.5" ry="1.1" transform="rotate(40 97.7 499.3)" fill="rgb(119,119,122)"/><ellipse cx="103.4" cy="500.0" rx="1.9" ry="1.2" transform="rotate(40 103.4 500.0)" fill="rgb(134,134,137)"/><ellipse cx="109.9" cy="500.2" rx="2.3" ry="1.0" transform="rotate(40 109.9 500.2)" fill="rgb(123,123,126)"/><ellipse cx="115.0" cy="500.1" rx="2.3" ry="1.0" transform="rotate(40 115.0 500.1)" fill="rgb(114,114,117)"/><ellipse cx="100.0" cy="505.3" rx="2.1" ry="1.2" transform="rotate(40 100.0 505.3)" fill="rgb(129,129,132)"/><ellipse cx="112.7" cy="504.1" rx="2.0" ry="1.0" transform="rotate(40 112.7 504.1)" fill="rgb(158,158,161)"/><ellipse cx="97.8" cy="508.6" rx="2.1" ry="1.0" transform="rotate(40 97.8 508.6)" fill="rgb(156,156,159)"/><ellipse cx="100.4" cy="513.5" rx="2.1" ry="1.1" transform="rotate(40 100.4 513.5)" fill="rgb(138,138,141)"/><ellipse cx="106.1" cy="512.6" rx="1.9" ry="1.0" transform="rotate(40 106.1 512.6)" fill="rgb(139,139,142)"/><ellipse cx="111.9" cy="513.6" rx="2.3" ry="1.1" transform="rotate(40 111.9 513.6)" fill="rgb(108,108,111)"/><ellipse cx="98.6" cy="517.8" rx="2.1" ry="1.0" transform="rotate(40 98.6 517.8)" fill="rgb(152,152,155)"/><ellipse cx="104.2" cy="518.2" rx="2.0" ry="1.2" transform="rotate(40 104.2 518.2)" fill="rgb(106,106,109)"/><ellipse cx="110.0" cy="518.2" rx="2.4" ry="1.2" transform="rotate(40 110.0 518.2)" fill="rgb(157,157,160)"/><ellipse cx="115.8" cy="518.1" rx="2.0" ry="1.3" transform="rotate(40 115.8 518.1)" fill="rgb(104,104,107)"/><ellipse cx="108.2" cy="521.5" rx="2.0" ry="1.0" transform="rotate(40 108.2 521.5)" fill="rgb(146,146,149)"/><ellipse cx="107.4" cy="531.6" rx="2.2" ry="1.0" transform="rotate(40 107.4 531.6)" fill="rgb(147,147,150)"/><ellipse cx="112.9" cy="531.3" rx="2.0" ry="1.0" transform="rotate(40 112.9 531.3)" fill="rgb(124,124,127)"/><ellipse cx="97.5" cy="535.4" rx="2.3" ry="1.2" transform="rotate(40 97.5 535.4)" fill="rgb(136,136,139)"/><ellipse cx="103.4" cy="535.4" rx="2.5" ry="1.0" transform="rotate(40 103.4 535.4)" fill="rgb(126,126,129)"/><ellipse cx="112.7" cy="535.1" rx="2.4" ry="1.0" transform="rotate(40 112.7 535.1)" fill="rgb(149,149,152)"/><ellipse cx="101.1" cy="540.5" rx="2.3" ry="1.0" transform="rotate(40 101.1 540.5)" fill="rgb(143,143,146)"/><ellipse cx="107.2" cy="539.5" rx="2.3" ry="1.2" transform="rotate(40 107.2 539.5)" fill="rgb(112,112,115)"/><ellipse cx="114.4" cy="540.3" rx="2.6" ry="1.1" transform="rotate(40 114.4 540.3)" fill="rgb(125,125,128)"/><ellipse cx="98.2" cy="544.7" rx="1.9" ry="0.9" transform="rotate(40 98.2 544.7)" fill="rgb(102,102,105)"/><ellipse cx="104.8" cy="544.4" rx="1.9" ry="1.0" transform="rotate(40 104.8 544.4)" fill="rgb(111,111,114)"/><ellipse cx="109.9" cy="545.0" rx="2.2" ry="1.1" transform="rotate(40 109.9 545.0)" fill="rgb(141,141,144)"/><ellipse cx="114.6" cy="544.6" rx="2.1" ry="0.9" transform="rotate(40 114.6 544.6)" fill="rgb(143,143,146)"/><ellipse cx="97.4" cy="552.8" rx="2.2" ry="1.1" transform="rotate(40 97.4 552.8)" fill="rgb(105,105,108)"/><ellipse cx="104.9" cy="553.6" rx="2.5" ry="1.0" transform="rotate(40 104.9 553.6)" fill="rgb(138,138,141)"/><ellipse cx="110.6" cy="552.2" rx="2.5" ry="1.3" transform="rotate(40 110.6 552.2)" fill="rgb(151,151,154)"/><ellipse cx="106.1" cy="558.1" rx="1.8" ry="1.3" transform="rotate(40 106.1 558.1)" fill="rgb(130,130,133)"/><ellipse cx="108.5" cy="561.5" rx="2.1" ry="0.9" transform="rotate(40 108.5 561.5)" fill="rgb(160,160,163)"/><ellipse cx="115.9" cy="562.7" rx="2.6" ry="1.2" transform="rotate(40 115.9 562.7)" fill="rgb(139,139,142)"/><ellipse cx="99.8" cy="566.9" rx="2.1" ry="1.2" transform="rotate(40 99.8 566.9)" fill="rgb(135,135,138)"/><ellipse cx="106.4" cy="566.0" rx="1.9" ry="1.0" transform="rotate(40 106.4 566.0)" fill="rgb(124,124,127)"/><ellipse cx="104.5" cy="571.0" rx="2.0" ry="1.0" transform="rotate(40 104.5 571.0)" fill="rgb(143,143,146)"/><ellipse cx="110.1" cy="571.5" rx="2.4" ry="1.2" transform="rotate(40 110.1 571.5)" fill="rgb(118,118,121)"/><ellipse cx="100.2" cy="575.8" rx="2.1" ry="1.2" transform="rotate(40 100.2 575.8)" fill="rgb(129,129,132)"/><ellipse cx="105.5" cy="576.3" rx="2.2" ry="1.2" transform="rotate(40 105.5 576.3)" fill="rgb(125,125,128)"/><ellipse cx="111.7" cy="575.8" rx="1.9" ry="1.3" transform="rotate(40 111.7 575.8)" fill="rgb(156,156,159)"/><ellipse cx="98.5" cy="579.6" rx="2.4" ry="1.2" transform="rotate(40 98.5 579.6)" fill="rgb(136,136,139)"/><ellipse cx="105.3" cy="581.0" rx="2.2" ry="0.9" transform="rotate(40 105.3 581.0)" fill="rgb(145,145,148)"/><ellipse cx="110.1" cy="580.2" rx="2.3" ry="1.0" transform="rotate(40 110.1 580.2)" fill="rgb(108,108,111)"/><ellipse cx="107.0" cy="584.3" rx="2.1" ry="1.2" transform="rotate(40 107.0 584.3)" fill="rgb(100,100,103)"/><ellipse cx="113.2" cy="584.9" rx="2.1" ry="1.2" transform="rotate(40 113.2 584.9)" fill="rgb(141,141,144)"/><ellipse cx="98.8" cy="589.0" rx="2.1" ry="0.9" transform="rotate(40 98.8 589.0)" fill="rgb(119,119,122)"/><ellipse cx="103.2" cy="588.9" rx="2.4" ry="1.3" transform="rotate(40 103.2 588.9)" fill="rgb(124,124,127)"/><ellipse cx="110.5" cy="589.2" rx="2.1" ry="1.1" transform="rotate(40 110.5 589.2)" fill="rgb(152,152,155)"/><ellipse cx="106.2" cy="592.7" rx="1.9" ry="1.2" transform="rotate(40 106.2 592.7)" fill="rgb(115,115,118)"/><ellipse cx="97.3" cy="597.8" rx="2.0" ry="0.9" transform="rotate(40 97.3 597.8)" fill="rgb(126,126,129)"/><ellipse cx="104.7" cy="598.1" rx="2.5" ry="1.0" transform="rotate(40 104.7 598.1)" fill="rgb(153,153,156)"/><ellipse cx="109.1" cy="598.1" rx="2.5" ry="1.0" transform="rotate(40 109.1 598.1)" fill="rgb(106,106,109)"/><ellipse cx="115.4" cy="597.3" rx="2.2" ry="1.0" transform="rotate(40 115.4 597.3)" fill="rgb(108,108,111)"/><ellipse cx="100.9" cy="601.2" rx="2.3" ry="1.0" transform="rotate(40 100.9 601.2)" fill="rgb(155,155,158)"/><ellipse cx="106.0" cy="602.2" rx="2.4" ry="1.1" transform="rotate(40 106.0 602.2)" fill="rgb(153,153,156)"/><ellipse cx="110.4" cy="602.2" rx="2.4" ry="1.2" transform="rotate(40 110.4 602.2)" fill="rgb(120,120,123)"/><ellipse cx="103.6" cy="605.8" rx="2.1" ry="1.1" transform="rotate(40 103.6 605.8)" fill="rgb(157,157,160)"/><ellipse cx="115.3" cy="605.6" rx="2.0" ry="1.2" transform="rotate(40 115.3 605.6)" fill="rgb(145,145,148)"/><ellipse cx="105.9" cy="609.3" rx="2.2" ry="1.2" transform="rotate(40 105.9 609.3)" fill="rgb(107,107,110)"/><ellipse cx="103.8" cy="614.8" rx="2.6" ry="1.0" transform="rotate(40 103.8 614.8)" fill="rgb(108,108,111)"/><ellipse cx="108.3" cy="614.5" rx="2.1" ry="1.3" transform="rotate(40 108.3 614.5)" fill="rgb(156,156,159)"/><ellipse cx="115.9" cy="614.7" rx="2.3" ry="1.2" transform="rotate(40 115.9 614.7)" fill="rgb(116,116,119)"/><ellipse cx="99.9" cy="619.1" rx="2.4" ry="0.9" transform="rotate(40 99.9 619.1)" fill="rgb(125,125,128)"/><ellipse cx="106.0" cy="618.4" rx="2.4" ry="1.0" transform="rotate(40 106.0 618.4)" fill="rgb(109,109,112)"/><ellipse cx="112.2" cy="618.9" rx="2.1" ry="0.9" transform="rotate(40 112.2 618.9)" fill="rgb(103,103,106)"/><ellipse cx="103.2" cy="623.5" rx="1.9" ry="1.0" transform="rotate(40 103.2 623.5)" fill="rgb(111,111,114)"/><ellipse cx="115.1" cy="623.6" rx="1.9" ry="1.2" transform="rotate(40 115.1 623.6)" fill="rgb(115,115,118)"/><ellipse cx="106.4" cy="628.6" rx="2.3" ry="1.2" transform="rotate(40 106.4 628.6)" fill="rgb(141,141,144)"/><ellipse cx="112.2" cy="628.0" rx="2.4" ry="1.0" transform="rotate(40 112.2 628.0)" fill="rgb(121,121,124)"/><ellipse cx="96.5" cy="632.3" rx="1.9" ry="1.3" transform="rotate(40 96.5 632.3)" fill="rgb(116,116,119)"/><ellipse cx="102.7" cy="633.0" rx="2.0" ry="0.9" transform="rotate(40 102.7 633.0)" fill="rgb(132,132,135)"/><ellipse cx="109.4" cy="631.7" rx="2.5" ry="1.1" transform="rotate(40 109.4 631.7)" fill="rgb(109,109,112)"/><ellipse cx="115.1" cy="632.2" rx="2.1" ry="1.2" transform="rotate(40 115.1 632.2)" fill="rgb(138,138,141)"/><ellipse cx="100.3" cy="636.7" rx="2.5" ry="1.1" transform="rotate(40 100.3 636.7)" fill="rgb(103,103,106)"/><ellipse cx="106.4" cy="636.4" rx="2.0" ry="1.0" transform="rotate(40 106.4 636.4)" fill="rgb(104,104,107)"/><ellipse cx="111.9" cy="636.3" rx="1.8" ry="0.9" transform="rotate(40 111.9 636.3)" fill="rgb(113,113,116)"/><ellipse cx="97.2" cy="641.9" rx="2.4" ry="1.0" transform="rotate(40 97.2 641.9)" fill="rgb(137,137,140)"/><ellipse cx="103.8" cy="641.2" rx="2.3" ry="1.0" transform="rotate(40 103.8 641.2)" fill="rgb(140,140,143)"/><ellipse cx="101.9" cy="646.3" rx="2.1" ry="1.2" transform="rotate(40 101.9 646.3)" fill="rgb(119,119,122)"/><ellipse cx="106.9" cy="646.6" rx="2.1" ry="1.0" transform="rotate(40 106.9 646.6)" fill="rgb(112,112,115)"/><ellipse cx="114.1" cy="645.3" rx="2.3" ry="1.1" transform="rotate(40 114.1 645.3)" fill="rgb(126,126,129)"/><ellipse cx="98.6" cy="650.1" rx="2.2" ry="1.0" transform="rotate(40 98.6 650.1)" fill="rgb(138,138,141)"/><ellipse cx="104.7" cy="650.1" rx="1.9" ry="0.9" transform="rotate(40 104.7 650.1)" fill="rgb(158,158,161)"/><ellipse cx="110.6" cy="650.9" rx="2.4" ry="0.9" transform="rotate(40 110.6 650.9)" fill="rgb(145,145,148)"/><ellipse cx="107.3" cy="654.3" rx="2.1" ry="1.2" transform="rotate(40 107.3 654.3)" fill="rgb(151,151,154)"/><ellipse cx="104.2" cy="659.2" rx="2.4" ry="1.2" transform="rotate(40 104.2 659.2)" fill="rgb(159,159,162)"/><ellipse cx="100.4" cy="664.1" rx="1.8" ry="0.9" transform="rotate(40 100.4 664.1)" fill="rgb(115,115,118)"/><ellipse cx="113.6" cy="662.6" rx="2.6" ry="1.2" transform="rotate(40 113.6 662.6)" fill="rgb(124,124,127)"/><ellipse cx="97.2" cy="667.3" rx="1.8" ry="1.0" transform="rotate(40 97.2 667.3)" fill="rgb(121,121,124)"/><ellipse cx="104.6" cy="668.0" rx="2.3" ry="1.1" transform="rotate(40 104.6 668.0)" fill="rgb(115,115,118)"/><ellipse cx="100.0" cy="672.8" rx="2.3" ry="1.2" transform="rotate(40 100.0 672.8)" fill="rgb(128,128,131)"/><ellipse cx="106.2" cy="672.3" rx="2.3" ry="1.0" transform="rotate(40 106.2 672.3)" fill="rgb(125,125,128)"/><ellipse cx="112.9" cy="671.9" rx="1.9" ry="1.0" transform="rotate(40 112.9 671.9)" fill="rgb(107,107,110)"/><ellipse cx="110.5" cy="677.2" rx="2.6" ry="1.2" transform="rotate(40 110.5 677.2)" fill="rgb(101,101,104)"/><ellipse cx="106.7" cy="680.9" rx="2.3" ry="1.2" transform="rotate(40 106.7 680.9)" fill="rgb(135,135,138)"/><ellipse cx="111.3" cy="681.8" rx="2.5" ry="1.1" transform="rotate(40 111.3 681.8)" fill="rgb(159,159,162)"/><ellipse cx="97.8" cy="684.5" rx="1.8" ry="1.2" transform="rotate(40 97.8 684.5)" fill="rgb(148,148,151)"/><ellipse cx="102.4" cy="685.0" rx="2.2" ry="1.1" transform="rotate(40 102.4 685.0)" fill="rgb(113,113,116)"/><ellipse cx="108.6" cy="686.0" rx="2.3" ry="1.3" transform="rotate(40 108.6 686.0)" fill="rgb(127,127,130)"/><ellipse cx="114.3" cy="684.9" rx="2.2" ry="1.1" transform="rotate(40 114.3 684.9)" fill="rgb(147,147,150)"/><ellipse cx="102.2" cy="689.3" rx="2.1" ry="1.3" transform="rotate(40 102.2 689.3)" fill="rgb(153,153,156)"/><ellipse cx="104.2" cy="694.7" rx="2.2" ry="1.2" transform="rotate(40 104.2 694.7)" fill="rgb(152,152,155)"/><ellipse cx="101.6" cy="699.3" rx="2.2" ry="1.2" transform="rotate(40 101.6 699.3)" fill="rgb(120,120,123)"/><ellipse cx="106.0" cy="699.0" rx="1.9" ry="0.9" transform="rotate(40 106.0 699.0)" fill="rgb(152,152,155)"/><ellipse cx="111.7" cy="698.9" rx="2.1" ry="0.9" transform="rotate(40 111.7 698.9)" fill="rgb(152,152,155)"/><ellipse cx="97.6" cy="702.8" rx="2.5" ry="1.1" transform="rotate(40 97.6 702.8)" fill="rgb(121,121,124)"/><ellipse cx="104.1" cy="703.8" rx="2.6" ry="1.3" transform="rotate(40 104.1 703.8)" fill="rgb(130,130,133)"/><ellipse cx="110.4" cy="703.2" rx="2.0" ry="1.0" transform="rotate(40 110.4 703.2)" fill="rgb(153,153,156)"/></g></g>
<rect x="95" y="386" width="1.4" height="320" fill="#151515" opacity="0.75"/>
<rect x="115.6" y="386" width="1.4" height="320" fill="#151515" opacity="0.75"/>
  <!-- plug -->
  <path d="M89 189 L89 153 Q89 151.8 90.5 151.8 L106 152.2 L125.5 155.6 Q126.8 155.9 126.8 157.2 L126.8 189 Z" fill="#ececec" stroke="#8d8d8d" stroke-width="0.9"/>
  <rect x="89.5" y="152.5" width="5.5" height="36.5" fill="#dcdcdc"/>
  <line x1="95.6" y1="152.5" x2="95.6" y2="189" stroke="#4a4a4a" stroke-width="1.5"/>
  <!-- collar -->
  <path d="M84.8 191 Q84.8 189 87 189 L128 190.5 Q130.3 190.7 130.3 192.7 L130.3 197 L84.8 196 Z" fill="#38383a"/>
  <rect x="85" y="189.5" width="4" height="6.5" fill="#1f1f20"/>
  <rect x="126.5" y="191" width="3.8" height="6" fill="#1f1f20"/>
  <!-- housing -->
  <path d="M79.3 199 Q79.3 194.5 83.5 194.5 L131 194.5 Q135 194.5 135 199 L135 283 L79.3 283 Z" fill="#76797d"/>
  <rect x="92" y="194.5" width="38.5" height="88.5" fill="url(#face)"/>
  <rect x="130.5" y="196" width="4.5" height="87" fill="#686b6f"/>
  <rect x="79.3" y="205" width="13.7" height="68" rx="5.5" fill="#63666a"/>
  <rect x="80.3" y="207.5" width="10.5" height="63" rx="4.5" fill="#4e5155"/>
  <g fill="#2e3033"><rect x="79.5" y="219.8" width="5" height="1.8"/><rect x="79.5" y="231.2" width="5" height="1.8"/><rect x="79.5" y="242.2" width="5" height="1.8"/><rect x="79.5" y="253.5" width="5" height="1.8"/></g>
  <rect x="79.3" y="280.5" width="55.7" height="2.5" fill="#5b5e62"/>
  <text transform="translate(110 205.5) rotate(90)" font-size="14" fill="#dcdee0" textLength="64.5" lengthAdjust="spacingAndGlyphs">intaleo</text>
  <!-- strain relief -->
  <path d="M79.5 283 L135 283 C134 298 126.5 313 124 325 L124 330 L90 330 L90 325 C87.5 313 80.5 298 79.5 283 Z" fill="url(#relief)"/>
  <rect x="90" y="326" width="34" height="62.60000000000002" fill="url(#relief)"/>
<rect x="89.2" y="327.2" width="35.6" height="5.1" rx="1.5" fill="url(#relief)"/>
<rect x="90" y="327.2" width="34" height="1.2" fill="#66666a" opacity="0.6"/>
<rect x="89.2" y="334.7" width="35.6" height="8.6" rx="1.5" fill="url(#relief)"/>
<rect x="90" y="334.7" width="34" height="1.2" fill="#66666a" opacity="0.6"/>
<rect x="89.2" y="345.7" width="35.6" height="8.6" rx="1.5" fill="url(#relief)"/>
<rect x="90" y="345.7" width="34" height="1.2" fill="#66666a" opacity="0.6"/>
<rect x="89.2" y="356.7" width="35.6" height="8.6" rx="1.5" fill="url(#relief)"/>
<rect x="90" y="356.7" width="34" height="1.2" fill="#66666a" opacity="0.6"/>
<rect x="89.2" y="367.7" width="35.6" height="19.7" rx="1.5" fill="url(#relief)"/>
<rect x="90" y="367.7" width="34" height="1.2" fill="#66666a" opacity="0.6"/>
<rect x="90" y="332.9" width="34" height="1.2" fill="#333335" opacity="0.7"/>
<rect x="106" y="331.0" width="17.5" height="5.0" rx="1.2" fill="#131313"/>
<rect x="90" y="343.9" width="34" height="1.2" fill="#333335" opacity="0.7"/>
<rect x="106" y="342.0" width="17.5" height="5.0" rx="1.2" fill="#131313"/>
<rect x="90" y="354.9" width="34" height="1.2" fill="#333335" opacity="0.7"/>
<rect x="106" y="353.0" width="17.5" height="5.0" rx="1.2" fill="#131313"/>
<rect x="90" y="365.9" width="34" height="1.2" fill="#333335" opacity="0.7"/>
<rect x="106" y="364.0" width="17.5" height="5.0" rx="1.2" fill="#131313"/>
<rect x="96.8" y="331.3" width="1.6" height="4.4" rx="0.8" fill="#2a2a2c"/>
<rect x="96.8" y="342.3" width="1.6" height="4.4" rx="0.8" fill="#2a2a2c"/>
<rect x="96.8" y="353.3" width="1.6" height="4.4" rx="0.8" fill="#2a2a2c"/>
<rect x="96.8" y="364.3" width="1.6" height="4.4" rx="0.8" fill="#2a2a2c"/>
<rect x="96.8" y="375.3" width="1.6" height="4.4" rx="0.8" fill="#2a2a2c"/>
</g>

<!-- ===== RIGHT CABLE (Lightning) ===== -->
<g id="right">
  <rect x="583.5" y="397" width="22" height="320" fill="#2e2e2f"/>
<clipPath id="bc5"><rect x="583.5" y="397" width="22" height="320"/></clipPath>
<g clip-path="url(#bc5)"><g filter="url(#soft)"><ellipse cx="585.4" cy="397.0" rx="2.2" ry="1.1" transform="rotate(-40 585.4 397.0)" fill="rgb(59,59,59)"/><ellipse cx="590.1" cy="397.0" rx="2.2" ry="1.1" transform="rotate(-40 590.1 397.0)" fill="rgb(64,64,64)"/><ellipse cx="593.6" cy="397.0" rx="2.2" ry="1.1" transform="rotate(-40 593.6 397.0)" fill="rgb(62,62,62)"/><ellipse cx="598.3" cy="397.0" rx="2.2" ry="1.1" transform="rotate(-40 598.3 397.0)" fill="rgb(55,55,55)"/><ellipse cx="602.7" cy="397.0" rx="2.2" ry="1.1" transform="rotate(-40 602.7 397.0)" fill="rgb(53,53,53)"/><ellipse cx="584.2" cy="400.2" rx="2.2" ry="1.1" transform="rotate(-40 584.2 400.2)" fill="rgb(65,65,65)"/><ellipse cx="587.9" cy="400.2" rx="2.2" ry="1.1" transform="rotate(-40 587.9 400.2)" fill="rgb(55,55,55)"/><ellipse cx="591.4" cy="400.2" rx="2.2" ry="1.1" transform="rotate(-40 591.4 400.2)" fill="rgb(54,54,54)"/><ellipse cx="595.5" cy="400.2" rx="2.2" ry="1.1" transform="rotate(-40 595.5 400.2)" fill="rgb(53,53,53)"/><ellipse cx="600.4" cy="400.2" rx="2.2" ry="1.1" transform="rotate(-40 600.4 400.2)" fill="rgb(60,60,60)"/><ellipse cx="604.1" cy="400.2" rx="2.2" ry="1.1" transform="rotate(-40 604.1 400.2)" fill="rgb(50,50,50)"/><ellipse cx="583.9" cy="403.5" rx="2.2" ry="1.1" transform="rotate(-40 583.9 403.5)" fill="rgb(48,48,48)"/><ellipse cx="588.8" cy="403.5" rx="2.2" ry="1.1" transform="rotate(-40 588.8 403.5)" fill="rgb(48,48,48)"/><ellipse cx="592.7" cy="403.5" rx="2.2" ry="1.1" transform="rotate(-40 592.7 403.5)" fill="rgb(54,54,54)"/><ellipse cx="597.6" cy="403.5" rx="2.2" ry="1.1" transform="rotate(-40 597.6 403.5)" fill="rgb(53,53,53)"/><ellipse cx="602.4" cy="403.5" rx="2.2" ry="1.1" transform="rotate(-40 602.4 403.5)" fill="rgb(57,57,57)"/><ellipse cx="586.1" cy="406.4" rx="2.2" ry="1.1" transform="rotate(-40 586.1 406.4)" fill="rgb(54,54,54)"/><ellipse cx="589.9" cy="406.4" rx="2.2" ry="1.1" transform="rotate(-40 589.9 406.4)" fill="rgb(54,54,54)"/><ellipse cx="594.9" cy="406.4" rx="2.2" ry="1.1" transform="rotate(-40 594.9 406.4)" fill="rgb(60,60,60)"/><ellipse cx="598.8" cy="406.4" rx="2.2" ry="1.1" transform="rotate(-40 598.8 406.4)" fill="rgb(59,59,59)"/><ellipse cx="602.9" cy="406.4" rx="2.2" ry="1.1" transform="rotate(-40 602.9 406.4)" fill="rgb(52,52,52)"/><ellipse cx="586.0" cy="409.5" rx="2.2" ry="1.1" transform="rotate(-40 586.0 409.5)" fill="rgb(66,66,66)"/><ellipse cx="589.5" cy="409.5" rx="2.2" ry="1.1" transform="rotate(-40 589.5 409.5)" fill="rgb(58,58,58)"/><ellipse cx="593.1" cy="409.5" rx="2.2" ry="1.1" transform="rotate(-40 593.1 409.5)" fill="rgb(59,59,59)"/><ellipse cx="597.8" cy="409.5" rx="2.2" ry="1.1" transform="rotate(-40 597.8 409.5)" fill="rgb(63,63,63)"/><ellipse cx="602.3" cy="409.5" rx="2.2" ry="1.1" transform="rotate(-40 602.3 409.5)" fill="rgb(53,53,53)"/><ellipse cx="583.7" cy="412.9" rx="2.2" ry="1.1" transform="rotate(-40 583.7 412.9)" fill="rgb(48,48,48)"/><ellipse cx="588.6" cy="412.9" rx="2.2" ry="1.1" transform="rotate(-40 588.6 412.9)" fill="rgb(59,59,59)"/><ellipse cx="593.4" cy="412.9" rx="2.2" ry="1.1" transform="rotate(-40 593.4 412.9)" fill="rgb(48,48,48)"/><ellipse cx="597.7" cy="412.9" rx="2.2" ry="1.1" transform="rotate(-40 597.7 412.9)" fill="rgb(61,61,61)"/><ellipse cx="601.7" cy="412.9" rx="2.2" ry="1.1" transform="rotate(-40 601.7 412.9)" fill="rgb(66,66,66)"/><ellipse cx="585.6" cy="416.0" rx="2.2" ry="1.1" transform="rotate(-40 585.6 416.0)" fill="rgb(54,54,54)"/><ellipse cx="589.3" cy="416.0" rx="2.2" ry="1.1" transform="rotate(-40 589.3 416.0)" fill="rgb(55,55,55)"/><ellipse cx="594.2" cy="416.0" rx="2.2" ry="1.1" transform="rotate(-40 594.2 416.0)" fill="rgb(62,62,62)"/><ellipse cx="598.2" cy="416.0" rx="2.2" ry="1.1" transform="rotate(-40 598.2 416.0)" fill="rgb(59,59,59)"/><ellipse cx="603.1" cy="416.0" rx="2.2" ry="1.1" transform="rotate(-40 603.1 416.0)" fill="rgb(56,56,56)"/><ellipse cx="585.7" cy="418.9" rx="2.2" ry="1.1" transform="rotate(-40 585.7 418.9)" fill="rgb(59,59,59)"/><ellipse cx="590.5" cy="418.9" rx="2.2" ry="1.1" transform="rotate(-40 590.5 418.9)" fill="rgb(49,49,49)"/><ellipse cx="594.7" cy="418.9" rx="2.2" ry="1.1" transform="rotate(-40 594.7 418.9)" fill="rgb(50,50,50)"/><ellipse cx="598.5" cy="418.9" rx="2.2" ry="1.1" transform="rotate(-40 598.5 418.9)" fill="rgb(64,64,64)"/><ellipse cx="602.9" cy="418.9" rx="2.2" ry="1.1" transform="rotate(-40 602.9 418.9)" fill="rgb(52,52,52)"/><ellipse cx="585.1" cy="422.4" rx="2.2" ry="1.1" transform="rotate(-40 585.1 422.4)" fill="rgb(57,57,57)"/><ellipse cx="589.7" cy="422.4" rx="2.2" ry="1.1" transform="rotate(-40 589.7 422.4)" fill="rgb(57,57,57)"/><ellipse cx="593.4" cy="422.4" rx="2.2" ry="1.1" transform="rotate(-40 593.4 422.4)" fill="rgb(50,50,50)"/><ellipse cx="597.9" cy="422.4" rx="2.2" ry="1.1" transform="rotate(-40 597.9 422.4)" fill="rgb(57,57,57)"/><ellipse cx="602.9" cy="422.4" rx="2.2" ry="1.1" transform="rotate(-40 602.9 422.4)" fill="rgb(53,53,53)"/><ellipse cx="585.3" cy="425.3" rx="2.2" ry="1.1" transform="rotate(-40 585.3 425.3)" fill="rgb(60,60,60)"/><ellipse cx="588.8" cy="425.3" rx="2.2" ry="1.1" transform="rotate(-40 588.8 425.3)" fill="rgb(59,59,59)"/><ellipse cx="593.6" cy="425.3" rx="2.2" ry="1.1" transform="rotate(-40 593.6 425.3)" fill="rgb(62,62,62)"/><ellipse cx="598.1" cy="425.3" rx="2.2" ry="1.1" transform="rotate(-40 598.1 425.3)" fill="rgb(52,52,52)"/><ellipse cx="601.6" cy="425.3" rx="2.2" ry="1.1" transform="rotate(-40 601.6 425.3)" fill="rgb(49,49,49)"/><ellipse cx="584.1" cy="428.4" rx="2.2" ry="1.1" transform="rotate(-40 584.1 428.4)" fill="rgb(66,66,66)"/><ellipse cx="589.0" cy="428.4" rx="2.2" ry="1.1" transform="rotate(-40 589.0 428.4)" fill="rgb(61,61,61)"/><ellipse cx="592.7" cy="428.4" rx="2.2" ry="1.1" transform="rotate(-40 592.7 428.4)" fill="rgb(61,61,61)"/><ellipse cx="596.8" cy="428.4" rx="2.2" ry="1.1" transform="rotate(-40 596.8 428.4)" fill="rgb(49,49,49)"/><ellipse cx="601.5" cy="428.4" rx="2.2" ry="1.1" transform="rotate(-40 601.5 428.4)" fill="rgb(57,57,57)"/><ellipse cx="605.2" cy="428.4" rx="2.2" ry="1.1" transform="rotate(-40 605.2 428.4)" fill="rgb(53,53,53)"/><ellipse cx="585.0" cy="431.5" rx="2.2" ry="1.1" transform="rotate(-40 585.0 431.5)" fill="rgb(58,58,58)"/><ellipse cx="589.2" cy="431.5" rx="2.2" ry="1.1" transform="rotate(-40 589.2 431.5)" fill="rgb(57,57,57)"/><ellipse cx="593.4" cy="431.5" rx="2.2" ry="1.1" transform="rotate(-40 593.4 431.5)" fill="rgb(52,52,52)"/><ellipse cx="597.1" cy="431.5" rx="2.2" ry="1.1" transform="rotate(-40 597.1 431.5)" fill="rgb(65,65,65)"/><ellipse cx="602.0" cy="431.5" rx="2.2" ry="1.1" transform="rotate(-40 602.0 431.5)" fill="rgb(63,63,63)"/><ellipse cx="585.0" cy="434.5" rx="2.2" ry="1.1" transform="rotate(-40 585.0 434.5)" fill="rgb(64,64,64)"/><ellipse cx="589.6" cy="434.5" rx="2.2" ry="1.1" transform="rotate(-40 589.6 434.5)" fill="rgb(64,64,64)"/><ellipse cx="593.7" cy="434.5" rx="2.2" ry="1.1" transform="rotate(-40 593.7 434.5)" fill="rgb(59,59,59)"/><ellipse cx="598.2" cy="434.5" rx="2.2" ry="1.1" transform="rotate(-40 598.2 434.5)" fill="rgb(49,49,49)"/><ellipse cx="602.9" cy="434.5" rx="2.2" ry="1.1" transform="rotate(-40 602.9 434.5)" fill="rgb(59,59,59)"/><ellipse cx="586.0" cy="437.8" rx="2.2" ry="1.1" transform="rotate(-40 586.0 437.8)" fill="rgb(56,56,56)"/><ellipse cx="590.7" cy="437.8" rx="2.2" ry="1.1" transform="rotate(-40 590.7 437.8)" fill="rgb(57,57,57)"/><ellipse cx="595.6" cy="437.8" rx="2.2" ry="1.1" transform="rotate(-40 595.6 437.8)" fill="rgb(58,58,58)"/><ellipse cx="600.1" cy="437.8" rx="2.2" ry="1.1" transform="rotate(-40 600.1 437.8)" fill="rgb(66,66,66)"/><ellipse cx="604.8" cy="437.8" rx="2.2" ry="1.1" transform="rotate(-40 604.8 437.8)" fill="rgb(63,63,63)"/><ellipse cx="585.5" cy="440.8" rx="2.2" ry="1.1" transform="rotate(-40 585.5 440.8)" fill="rgb(62,62,62)"/><ellipse cx="589.4" cy="440.8" rx="2.2" ry="1.1" transform="rotate(-40 589.4 440.8)" fill="rgb(64,64,64)"/><ellipse cx="593.9" cy="440.8" rx="2.2" ry="1.1" transform="rotate(-40 593.9 440.8)" fill="rgb(59,59,59)"/><ellipse cx="597.9" cy="440.8" rx="2.2" ry="1.1" transform="rotate(-40 597.9 440.8)" fill="rgb(59,59,59)"/><ellipse cx="602.5" cy="440.8" rx="2.2" ry="1.1" transform="rotate(-40 602.5 440.8)" fill="rgb(61,61,61)"/><ellipse cx="586.1" cy="444.3" rx="2.2" ry="1.1" transform="rotate(-40 586.1 444.3)" fill="rgb(62,62,62)"/><ellipse cx="591.1" cy="444.3" rx="2.2" ry="1.1" transform="rotate(-40 591.1 444.3)" fill="rgb(58,58,58)"/><ellipse cx="595.4" cy="444.3" rx="2.2" ry="1.1" transform="rotate(-40 595.4 444.3)" fill="rgb(64,64,64)"/><ellipse cx="600.3" cy="444.3" rx="2.2" ry="1.1" transform="rotate(-40 600.3 444.3)" fill="rgb(54,54,54)"/><ellipse cx="605.1" cy="444.3" rx="2.2" ry="1.1" transform="rotate(-40 605.1 444.3)" fill="rgb(63,63,63)"/><ellipse cx="585.5" cy="447.2" rx="2.2" ry="1.1" transform="rotate(-40 585.5 447.2)" fill="rgb(61,61,61)"/><ellipse cx="589.3" cy="447.2" rx="2.2" ry="1.1" transform="rotate(-40 589.3 447.2)" fill="rgb(66,66,66)"/><ellipse cx="593.5" cy="447.2" rx="2.2" ry="1.1" transform="rotate(-40 593.5 447.2)" fill="rgb(61,61,61)"/><ellipse cx="597.5" cy="447.2" rx="2.2" ry="1.1" transform="rotate(-40 597.5 447.2)" fill="rgb(65,65,65)"/><ellipse cx="602.2" cy="447.2" rx="2.2" ry="1.1" transform="rotate(-40 602.2 447.2)" fill="rgb(56,56,56)"/><ellipse cx="584.0" cy="450.0" rx="2.2" ry="1.1" transform="rotate(-40 584.0 450.0)" fill="rgb(62,62,62)"/><ellipse cx="588.4" cy="450.0" rx="2.2" ry="1.1" transform="rotate(-40 588.4 450.0)" fill="rgb(53,53,53)"/><ellipse cx="592.2" cy="450.0" rx="2.2" ry="1.1" transform="rotate(-40 592.2 450.0)" fill="rgb(53,53,53)"/><ellipse cx="596.7" cy="450.0" rx="2.2" ry="1.1" transform="rotate(-40 596.7 450.0)" fill="rgb(49,49,49)"/><ellipse cx="601.7" cy="450.0" rx="2.2" ry="1.1" transform="rotate(-40 601.7 450.0)" fill="rgb(55,55,55)"/><ellipse cx="605.4" cy="450.0" rx="2.2" ry="1.1" transform="rotate(-40 605.4 450.0)" fill="rgb(52,52,52)"/><ellipse cx="584.9" cy="453.6" rx="2.2" ry="1.1" transform="rotate(-40 584.9 453.6)" fill="rgb(65,65,65)"/><ellipse cx="588.5" cy="453.6" rx="2.2" ry="1.1" transform="rotate(-40 588.5 453.6)" fill="rgb(62,62,62)"/><ellipse cx="592.5" cy="453.6" rx="2.2" ry="1.1" transform="rotate(-40 592.5 453.6)" fill="rgb(50,50,50)"/><ellipse cx="596.9" cy="453.6" rx="2.2" ry="1.1" transform="rotate(-40 596.9 453.6)" fill="rgb(55,55,55)"/><ellipse cx="601.5" cy="453.6" rx="2.2" ry="1.1" transform="rotate(-40 601.5 453.6)" fill="rgb(59,59,59)"/><ellipse cx="605.0" cy="453.6" rx="2.2" ry="1.1" transform="rotate(-40 605.0 453.6)" fill="rgb(60,60,60)"/><ellipse cx="586.1" cy="457.0" rx="2.2" ry="1.1" transform="rotate(-40 586.1 457.0)" fill="rgb(65,65,65)"/><ellipse cx="590.2" cy="457.0" rx="2.2" ry="1.1" transform="rotate(-40 590.2 457.0)" fill="rgb(49,49,49)"/><ellipse cx="594.5" cy="457.0" rx="2.2" ry="1.1" transform="rotate(-40 594.5 457.0)" fill="rgb(57,57,57)"/><ellipse cx="598.1" cy="457.0" rx="2.2" ry="1.1" transform="rotate(-40 598.1 457.0)" fill="rgb(65,65,65)"/><ellipse cx="602.4" cy="457.0" rx="2.2" ry="1.1" transform="rotate(-40 602.4 457.0)" fill="rgb(66,66,66)"/><ellipse cx="583.9" cy="460.1" rx="2.2" ry="1.1" transform="rotate(-40 583.9 460.1)" fill="rgb(61,61,61)"/><ellipse cx="588.6" cy="460.1" rx="2.2" ry="1.1" transform="rotate(-40 588.6 460.1)" fill="rgb(65,65,65)"/><ellipse cx="592.7" cy="460.1" rx="2.2" ry="1.1" transform="rotate(-40 592.7 460.1)" fill="rgb(52,52,52)"/><ellipse cx="596.4" cy="460.1" rx="2.2" ry="1.1" transform="rotate(-40 596.4 460.1)" fill="rgb(60,60,60)"/><ellipse cx="600.7" cy="460.1" rx="2.2" ry="1.1" transform="rotate(-40 600.7 460.1)" fill="rgb(54,54,54)"/><ellipse cx="584.6" cy="463.4" rx="2.2" ry="1.1" transform="rotate(-40 584.6 463.4)" fill="rgb(48,48,48)"/><ellipse cx="588.6" cy="463.4" rx="2.2" ry="1.1" transform="rotate(-40 588.6 463.4)" fill="rgb(58,58,58)"/><ellipse cx="593.0" cy="463.4" rx="2.2" ry="1.1" transform="rotate(-40 593.0 463.4)" fill="rgb(65,65,65)"/><ellipse cx="596.7" cy="463.4" rx="2.2" ry="1.1" transform="rotate(-40 596.7 463.4)" fill="rgb(66,66,66)"/><ellipse cx="600.7" cy="463.4" rx="2.2" ry="1.1" transform="rotate(-40 600.7 463.4)" fill="rgb(61,61,61)"/><ellipse cx="584.9" cy="466.6" rx="2.2" ry="1.1" transform="rotate(-40 584.9 466.6)" fill="rgb(60,60,60)"/><ellipse cx="589.0" cy="466.6" rx="2.2" ry="1.1" transform="rotate(-40 589.0 466.6)" fill="rgb(53,53,53)"/><ellipse cx="593.4" cy="466.6" rx="2.2" ry="1.1" transform="rotate(-40 593.4 466.6)" fill="rgb(56,56,56)"/><ellipse cx="598.0" cy="466.6" rx="2.2" ry="1.1" transform="rotate(-40 598.0 466.6)" fill="rgb(57,57,57)"/><ellipse cx="602.3" cy="466.6" rx="2.2" ry="1.1" transform="rotate(-40 602.3 466.6)" fill="rgb(61,61,61)"/><ellipse cx="584.4" cy="470.2" rx="2.2" ry="1.1" transform="rotate(-40 584.4 470.2)" fill="rgb(57,57,57)"/><ellipse cx="588.1" cy="470.2" rx="2.2" ry="1.1" transform="rotate(-40 588.1 470.2)" fill="rgb(48,48,48)"/><ellipse cx="591.8" cy="470.2" rx="2.2" ry="1.1" transform="rotate(-40 591.8 470.2)" fill="rgb(62,62,62)"/><ellipse cx="595.7" cy="470.2" rx="2.2" ry="1.1" transform="rotate(-40 595.7 470.2)" fill="rgb(49,49,49)"/><ellipse cx="600.4" cy="470.2" rx="2.2" ry="1.1" transform="rotate(-40 600.4 470.2)" fill="rgb(60,60,60)"/><ellipse cx="603.9" cy="470.2" rx="2.2" ry="1.1" transform="rotate(-40 603.9 470.2)" fill="rgb(65,65,65)"/><ellipse cx="584.9" cy="473.2" rx="2.2" ry="1.1" transform="rotate(-40 584.9 473.2)" fill="rgb(49,49,49)"/><ellipse cx="588.8" cy="473.2" rx="2.2" ry="1.1" transform="rotate(-40 588.8 473.2)" fill="rgb(56,56,56)"/><ellipse cx="593.6" cy="473.2" rx="2.2" ry="1.1" transform="rotate(-40 593.6 473.2)" fill="rgb(57,57,57)"/><ellipse cx="597.5" cy="473.2" rx="2.2" ry="1.1" transform="rotate(-40 597.5 473.2)" fill="rgb(63,63,63)"/><ellipse cx="601.8" cy="473.2" rx="2.2" ry="1.1" transform="rotate(-40 601.8 473.2)" fill="rgb(51,51,51)"/><ellipse cx="605.3" cy="473.2" rx="2.2" ry="1.1" transform="rotate(-40 605.3 473.2)" fill="rgb(52,52,52)"/><ellipse cx="584.5" cy="476.4" rx="2.2" ry="1.1" transform="rotate(-40 584.5 476.4)" fill="rgb(57,57,57)"/><ellipse cx="589.1" cy="476.4" rx="2.2" ry="1.1" transform="rotate(-40 589.1 476.4)" fill="rgb(48,48,48)"/><ellipse cx="593.3" cy="476.4" rx="2.2" ry="1.1" transform="rotate(-40 593.3 476.4)" fill="rgb(59,59,59)"/><ellipse cx="597.8" cy="476.4" rx="2.2" ry="1.1" transform="rotate(-40 597.8 476.4)" fill="rgb(66,66,66)"/><ellipse cx="601.5" cy="476.4" rx="2.2" ry="1.1" transform="rotate(-40 601.5 476.4)" fill="rgb(48,48,48)"/><ellipse cx="605.4" cy="476.4" rx="2.2" ry="1.1" transform="rotate(-40 605.4 476.4)" fill="rgb(62,62,62)"/><ellipse cx="585.6" cy="479.3" rx="2.2" ry="1.1" transform="rotate(-40 585.6 479.3)" fill="rgb(54,54,54)"/><ellipse cx="589.1" cy="479.3" rx="2.2" ry="1.1" transform="rotate(-40 589.1 479.3)" fill="rgb(61,61,61)"/><ellipse cx="593.5" cy="479.3" rx="2.2" ry="1.1" transform="rotate(-40 593.5 479.3)" fill="rgb(63,63,63)"/><ellipse cx="598.3" cy="479.3" rx="2.2" ry="1.1" transform="rotate(-40 598.3 479.3)" fill="rgb(60,60,60)"/><ellipse cx="602.5" cy="479.3" rx="2.2" ry="1.1" transform="rotate(-40 602.5 479.3)" fill="rgb(54,54,54)"/><ellipse cx="585.8" cy="482.4" rx="2.2" ry="1.1" transform="rotate(-40 585.8 482.4)" fill="rgb(57,57,57)"/><ellipse cx="590.5" cy="482.4" rx="2.2" ry="1.1" transform="rotate(-40 590.5 482.4)" fill="rgb(61,61,61)"/><ellipse cx="594.9" cy="482.4" rx="2.2" ry="1.1" transform="rotate(-40 594.9 482.4)" fill="rgb(63,63,63)"/><ellipse cx="599.8" cy="482.4" rx="2.2" ry="1.1" transform="rotate(-40 599.8 482.4)" fill="rgb(52,52,52)"/><ellipse cx="603.5" cy="482.4" rx="2.2" ry="1.1" transform="rotate(-40 603.5 482.4)" fill="rgb(65,65,65)"/><ellipse cx="585.1" cy="486.0" rx="2.2" ry="1.1" transform="rotate(-40 585.1 486.0)" fill="rgb(61,61,61)"/><ellipse cx="589.5" cy="486.0" rx="2.2" ry="1.1" transform="rotate(-40 589.5 486.0)" fill="rgb(49,49,49)"/><ellipse cx="593.1" cy="486.0" rx="2.2" ry="1.1" transform="rotate(-40 593.1 486.0)" fill="rgb(55,55,55)"/><ellipse cx="597.0" cy="486.0" rx="2.2" ry="1.1" transform="rotate(-40 597.0 486.0)" fill="rgb(50,50,50)"/><ellipse cx="601.7" cy="486.0" rx="2.2" ry="1.1" transform="rotate(-40 601.7 486.0)" fill="rgb(48,48,48)"/><ellipse cx="583.7" cy="489.2" rx="2.2" ry="1.1" transform="rotate(-40 583.7 489.2)" fill="rgb(60,60,60)"/><ellipse cx="588.3" cy="489.2" rx="2.2" ry="1.1" transform="rotate(-40 588.3 489.2)" fill="rgb(49,49,49)"/><ellipse cx="591.9" cy="489.2" rx="2.2" ry="1.1" transform="rotate(-40 591.9 489.2)" fill="rgb(51,51,51)"/><ellipse cx="595.8" cy="489.2" rx="2.2" ry="1.1" transform="rotate(-40 595.8 489.2)" fill="rgb(51,51,51)"/><ellipse cx="600.3" cy="489.2" rx="2.2" ry="1.1" transform="rotate(-40 600.3 489.2)" fill="rgb(52,52,52)"/><ellipse cx="605.3" cy="489.2" rx="2.2" ry="1.1" transform="rotate(-40 605.3 489.2)" fill="rgb(62,62,62)"/><ellipse cx="584.7" cy="492.4" rx="2.2" ry="1.1" transform="rotate(-40 584.7 492.4)" fill="rgb(53,53,53)"/><ellipse cx="588.3" cy="492.4" rx="2.2" ry="1.1" transform="rotate(-40 588.3 492.4)" fill="rgb(54,54,54)"/><ellipse cx="591.9" cy="492.4" rx="2.2" ry="1.1" transform="rotate(-40 591.9 492.4)" fill="rgb(51,51,51)"/><ellipse cx="596.4" cy="492.4" rx="2.2" ry="1.1" transform="rotate(-40 596.4 492.4)" fill="rgb(50,50,50)"/><ellipse cx="600.3" cy="492.4" rx="2.2" ry="1.1" transform="rotate(-40 600.3 492.4)" fill="rgb(66,66,66)"/><ellipse cx="604.7" cy="492.4" rx="2.2" ry="1.1" transform="rotate(-40 604.7 492.4)" fill="rgb(60,60,60)"/><ellipse cx="584.8" cy="495.4" rx="2.2" ry="1.1" transform="rotate(-40 584.8 495.4)" fill="rgb(58,58,58)"/><ellipse cx="589.3" cy="495.4" rx="2.2" ry="1.1" transform="rotate(-40 589.3 495.4)" fill="rgb(63,63,63)"/><ellipse cx="593.6" cy="495.4" rx="2.2" ry="1.1" transform="rotate(-40 593.6 495.4)" fill="rgb(59,59,59)"/><ellipse cx="598.4" cy="495.4" rx="2.2" ry="1.1" transform="rotate(-40 598.4 495.4)" fill="rgb(52,52,52)"/><ellipse cx="603.0" cy="495.4" rx="2.2" ry="1.1" transform="rotate(-40 603.0 495.4)" fill="rgb(52,52,52)"/><ellipse cx="584.4" cy="498.7" rx="2.2" ry="1.1" transform="rotate(-40 584.4 498.7)" fill="rgb(65,65,65)"/><ellipse cx="588.7" cy="498.7" rx="2.2" ry="1.1" transform="rotate(-40 588.7 498.7)" fill="rgb(55,55,55)"/><ellipse cx="592.6" cy="498.7" rx="2.2" ry="1.1" transform="rotate(-40 592.6 498.7)" fill="rgb(65,65,65)"/><ellipse cx="596.4" cy="498.7" rx="2.2" ry="1.1" transform="rotate(-40 596.4 498.7)" fill="rgb(57,57,57)"/><ellipse cx="600.7" cy="498.7" rx="2.2" ry="1.1" transform="rotate(-40 600.7 498.7)" fill="rgb(52,52,52)"/><ellipse cx="605.4" cy="498.7" rx="2.2" ry="1.1" transform="rotate(-40 605.4 498.7)" fill="rgb(59,59,59)"/><ellipse cx="583.9" cy="501.8" rx="2.2" ry="1.1" transform="rotate(-40 583.9 501.8)" fill="rgb(48,48,48)"/><ellipse cx="588.4" cy="501.8" rx="2.2" ry="1.1" transform="rotate(-40 588.4 501.8)" fill="rgb(50,50,50)"/><ellipse cx="592.7" cy="501.8" rx="2.2" ry="1.1" transform="rotate(-40 592.7 501.8)" fill="rgb(49,49,49)"/><ellipse cx="596.4" cy="501.8" rx="2.2" ry="1.1" transform="rotate(-40 596.4 501.8)" fill="rgb(51,51,51)"/><ellipse cx="600.6" cy="501.8" rx="2.2" ry="1.1" transform="rotate(-40 600.6 501.8)" fill="rgb(62,62,62)"/><ellipse cx="604.5" cy="501.8" rx="2.2" ry="1.1" transform="rotate(-40 604.5 501.8)" fill="rgb(62,62,62)"/><ellipse cx="585.9" cy="504.9" rx="2.2" ry="1.1" transform="rotate(-40 585.9 504.9)" fill="rgb(48,48,48)"/><ellipse cx="590.2" cy="504.9" rx="2.2" ry="1.1" transform="rotate(-40 590.2 504.9)" fill="rgb(60,60,60)"/><ellipse cx="593.8" cy="504.9" rx="2.2" ry="1.1" transform="rotate(-40 593.8 504.9)" fill="rgb(52,52,52)"/><ellipse cx="598.7" cy="504.9" rx="2.2" ry="1.1" transform="rotate(-40 598.7 504.9)" fill="rgb(61,61,61)"/><ellipse cx="603.2" cy="504.9" rx="2.2" ry="1.1" transform="rotate(-40 603.2 504.9)" fill="rgb(55,55,55)"/><ellipse cx="586.2" cy="507.7" rx="2.2" ry="1.1" transform="rotate(-40 586.2 507.7)" fill="rgb(63,63,63)"/><ellipse cx="591.0" cy="507.7" rx="2.2" ry="1.1" transform="rotate(-40 591.0 507.7)" fill="rgb(52,52,52)"/><ellipse cx="595.5" cy="507.7" rx="2.2" ry="1.1" transform="rotate(-40 595.5 507.7)" fill="rgb(60,60,60)"/><ellipse cx="599.5" cy="507.7" rx="2.2" ry="1.1" transform="rotate(-40 599.5 507.7)" fill="rgb(55,55,55)"/><ellipse cx="603.5" cy="507.7" rx="2.2" ry="1.1" transform="rotate(-40 603.5 507.7)" fill="rgb(59,59,59)"/><ellipse cx="585.7" cy="510.8" rx="2.2" ry="1.1" transform="rotate(-40 585.7 510.8)" fill="rgb(59,59,59)"/><ellipse cx="590.1" cy="510.8" rx="2.2" ry="1.1" transform="rotate(-40 590.1 510.8)" fill="rgb(61,61,61)"/><ellipse cx="595.1" cy="510.8" rx="2.2" ry="1.1" transform="rotate(-40 595.1 510.8)" fill="rgb(59,59,59)"/><ellipse cx="599.4" cy="510.8" rx="2.2" ry="1.1" transform="rotate(-40 599.4 510.8)" fill="rgb(66,66,66)"/><ellipse cx="604.3" cy="510.8" rx="2.2" ry="1.1" transform="rotate(-40 604.3 510.8)" fill="rgb(54,54,54)"/><ellipse cx="583.8" cy="514.0" rx="2.2" ry="1.1" transform="rotate(-40 583.8 514.0)" fill="rgb(49,49,49)"/><ellipse cx="587.6" cy="514.0" rx="2.2" ry="1.1" transform="rotate(-40 587.6 514.0)" fill="rgb(54,54,54)"/><ellipse cx="591.1" cy="514.0" rx="2.2" ry="1.1" transform="rotate(-40 591.1 514.0)" fill="rgb(63,63,63)"/><ellipse cx="595.6" cy="514.0" rx="2.2" ry="1.1" transform="rotate(-40 595.6 514.0)" fill="rgb(59,59,59)"/><ellipse cx="599.1" cy="514.0" rx="2.2" ry="1.1" transform="rotate(-40 599.1 514.0)" fill="rgb(63,63,63)"/><ellipse cx="603.1" cy="514.0" rx="2.2" ry="1.1" transform="rotate(-40 603.1 514.0)" fill="rgb(61,61,61)"/><ellipse cx="584.1" cy="517.1" rx="2.2" ry="1.1" transform="rotate(-40 584.1 517.1)" fill="rgb(53,53,53)"/><ellipse cx="587.7" cy="517.1" rx="2.2" ry="1.1" transform="rotate(-40 587.7 517.1)" fill="rgb(60,60,60)"/><ellipse cx="592.5" cy="517.1" rx="2.2" ry="1.1" transform="rotate(-40 592.5 517.1)" fill="rgb(63,63,63)"/><ellipse cx="596.2" cy="517.1" rx="2.2" ry="1.1" transform="rotate(-40 596.2 517.1)" fill="rgb(56,56,56)"/><ellipse cx="599.9" cy="517.1" rx="2.2" ry="1.1" transform="rotate(-40 599.9 517.1)" fill="rgb(53,53,53)"/><ellipse cx="604.5" cy="517.1" rx="2.2" ry="1.1" transform="rotate(-40 604.5 517.1)" fill="rgb(55,55,55)"/><ellipse cx="584.5" cy="520.6" rx="2.2" ry="1.1" transform="rotate(-40 584.5 520.6)" fill="rgb(59,59,59)"/><ellipse cx="588.5" cy="520.6" rx="2.2" ry="1.1" transform="rotate(-40 588.5 520.6)" fill="rgb(49,49,49)"/><ellipse cx="593.0" cy="520.6" rx="2.2" ry="1.1" transform="rotate(-40 593.0 520.6)" fill="rgb(62,62,62)"/><ellipse cx="597.2" cy="520.6" rx="2.2" ry="1.1" transform="rotate(-40 597.2 520.6)" fill="rgb(52,52,52)"/><ellipse cx="600.9" cy="520.6" rx="2.2" ry="1.1" transform="rotate(-40 600.9 520.6)" fill="rgb(58,58,58)"/><ellipse cx="604.9" cy="520.6" rx="2.2" ry="1.1" transform="rotate(-40 604.9 520.6)" fill="rgb(55,55,55)"/><ellipse cx="584.1" cy="523.6" rx="2.2" ry="1.1" transform="rotate(-40 584.1 523.6)" fill="rgb(48,48,48)"/><ellipse cx="588.5" cy="523.6" rx="2.2" ry="1.1" transform="rotate(-40 588.5 523.6)" fill="rgb(50,50,50)"/><ellipse cx="592.9" cy="523.6" rx="2.2" ry="1.1" transform="rotate(-40 592.9 523.6)" fill="rgb(59,59,59)"/><ellipse cx="597.4" cy="523.6" rx="2.2" ry="1.1" transform="rotate(-40 597.4 523.6)" fill="rgb(53,53,53)"/><ellipse cx="601.6" cy="523.6" rx="2.2" ry="1.1" transform="rotate(-40 601.6 523.6)" fill="rgb(57,57,57)"/><ellipse cx="605.2" cy="523.6" rx="2.2" ry="1.1" transform="rotate(-40 605.2 523.6)" fill="rgb(62,62,62)"/><ellipse cx="585.5" cy="526.6" rx="2.2" ry="1.1" transform="rotate(-40 585.5 526.6)" fill="rgb(49,49,49)"/><ellipse cx="590.0" cy="526.6" rx="2.2" ry="1.1" transform="rotate(-40 590.0 526.6)" fill="rgb(61,61,61)"/><ellipse cx="594.6" cy="526.6" rx="2.2" ry="1.1" transform="rotate(-40 594.6 526.6)" fill="rgb(56,56,56)"/><ellipse cx="598.1" cy="526.6" rx="2.2" ry="1.1" transform="rotate(-40 598.1 526.6)" fill="rgb(49,49,49)"/><ellipse cx="602.3" cy="526.6" rx="2.2" ry="1.1" transform="rotate(-40 602.3 526.6)" fill="rgb(61,61,61)"/><ellipse cx="586.0" cy="529.4" rx="2.2" ry="1.1" transform="rotate(-40 586.0 529.4)" fill="rgb(64,64,64)"/><ellipse cx="590.4" cy="529.4" rx="2.2" ry="1.1" transform="rotate(-40 590.4 529.4)" fill="rgb(51,51,51)"/><ellipse cx="594.9" cy="529.4" rx="2.2" ry="1.1" transform="rotate(-40 594.9 529.4)" fill="rgb(55,55,55)"/><ellipse cx="599.8" cy="529.4" rx="2.2" ry="1.1" transform="rotate(-40 599.8 529.4)" fill="rgb(63,63,63)"/><ellipse cx="603.4" cy="529.4" rx="2.2" ry="1.1" transform="rotate(-40 603.4 529.4)" fill="rgb(63,63,63)"/><ellipse cx="583.7" cy="532.4" rx="2.2" ry="1.1" transform="rotate(-40 583.7 532.4)" fill="rgb(60,60,60)"/><ellipse cx="588.3" cy="532.4" rx="2.2" ry="1.1" transform="rotate(-40 588.3 532.4)" fill="rgb(49,49,49)"/><ellipse cx="592.2" cy="532.4" rx="2.2" ry="1.1" transform="rotate(-40 592.2 532.4)" fill="rgb(61,61,61)"/><ellipse cx="596.4" cy="532.4" rx="2.2" ry="1.1" transform="rotate(-40 596.4 532.4)" fill="rgb(49,49,49)"/><ellipse cx="601.2" cy="532.4" rx="2.2" ry="1.1" transform="rotate(-40 601.2 532.4)" fill="rgb(54,54,54)"/><ellipse cx="605.0" cy="532.4" rx="2.2" ry="1.1" transform="rotate(-40 605.0 532.4)" fill="rgb(64,64,64)"/><ellipse cx="584.2" cy="535.3" rx="2.2" ry="1.1" transform="rotate(-40 584.2 535.3)" fill="rgb(58,58,58)"/><ellipse cx="588.9" cy="535.3" rx="2.2" ry="1.1" transform="rotate(-40 588.9 535.3)" fill="rgb(50,50,50)"/><ellipse cx="593.2" cy="535.3" rx="2.2" ry="1.1" transform="rotate(-40 593.2 535.3)" fill="rgb(53,53,53)"/><ellipse cx="597.6" cy="535.3" rx="2.2" ry="1.1" transform="rotate(-40 597.6 535.3)" fill="rgb(54,54,54)"/><ellipse cx="602.0" cy="535.3" rx="2.2" ry="1.1" transform="rotate(-40 602.0 535.3)" fill="rgb(62,62,62)"/><ellipse cx="585.2" cy="538.5" rx="2.2" ry="1.1" transform="rotate(-40 585.2 538.5)" fill="rgb(60,60,60)"/><ellipse cx="589.5" cy="538.5" rx="2.2" ry="1.1" transform="rotate(-40 589.5 538.5)" fill="rgb(52,52,52)"/><ellipse cx="594.1" cy="538.5" rx="2.2" ry="1.1" transform="rotate(-40 594.1 538.5)" fill="rgb(57,57,57)"/><ellipse cx="598.6" cy="538.5" rx="2.2" ry="1.1" transform="rotate(-40 598.6 538.5)" fill="rgb(55,55,55)"/><ellipse cx="603.0" cy="538.5" rx="2.2" ry="1.1" transform="rotate(-40 603.0 538.5)" fill="rgb(52,52,52)"/><ellipse cx="585.8" cy="541.4" rx="2.2" ry="1.1" transform="rotate(-40 585.8 541.4)" fill="rgb(60,60,60)"/><ellipse cx="589.8" cy="541.4" rx="2.2" ry="1.1" transform="rotate(-40 589.8 541.4)" fill="rgb(52,52,52)"/><ellipse cx="594.1" cy="541.4" rx="2.2" ry="1.1" transform="rotate(-40 594.1 541.4)" fill="rgb(63,63,63)"/><ellipse cx="598.0" cy="541.4" rx="2.2" ry="1.1" transform="rotate(-40 598.0 541.4)" fill="rgb(50,50,50)"/><ellipse cx="602.7" cy="541.4" rx="2.2" ry="1.1" transform="rotate(-40 602.7 541.4)" fill="rgb(66,66,66)"/><ellipse cx="585.0" cy="544.4" rx="2.2" ry="1.1" transform="rotate(-40 585.0 544.4)" fill="rgb(55,55,55)"/><ellipse cx="588.6" cy="544.4" rx="2.2" ry="1.1" transform="rotate(-40 588.6 544.4)" fill="rgb(54,54,54)"/><ellipse cx="593.2" cy="544.4" rx="2.2" ry="1.1" transform="rotate(-40 593.2 544.4)" fill="rgb(59,59,59)"/><ellipse cx="598.1" cy="544.4" rx="2.2" ry="1.1" transform="rotate(-40 598.1 544.4)" fill="rgb(50,50,50)"/><ellipse cx="602.2" cy="544.4" rx="2.2" ry="1.1" transform="rotate(-40 602.2 544.4)" fill="rgb(58,58,58)"/><ellipse cx="583.5" cy="547.8" rx="2.2" ry="1.1" transform="rotate(-40 583.5 547.8)" fill="rgb(57,57,57)"/><ellipse cx="588.0" cy="547.8" rx="2.2" ry="1.1" transform="rotate(-40 588.0 547.8)" fill="rgb(52,52,52)"/><ellipse cx="592.3" cy="547.8" rx="2.2" ry="1.1" transform="rotate(-40 592.3 547.8)" fill="rgb(62,62,62)"/><ellipse cx="596.1" cy="547.8" rx="2.2" ry="1.1" transform="rotate(-40 596.1 547.8)" fill="rgb(48,48,48)"/><ellipse cx="600.7" cy="547.8" rx="2.2" ry="1.1" transform="rotate(-40 600.7 547.8)" fill="rgb(61,61,61)"/><ellipse cx="604.6" cy="547.8" rx="2.2" ry="1.1" transform="rotate(-40 604.6 547.8)" fill="rgb(60,60,60)"/><ellipse cx="584.4" cy="550.9" rx="2.2" ry="1.1" transform="rotate(-40 584.4 550.9)" fill="rgb(52,52,52)"/><ellipse cx="588.3" cy="550.9" rx="2.2" ry="1.1" transform="rotate(-40 588.3 550.9)" fill="rgb(58,58,58)"/><ellipse cx="592.2" cy="550.9" rx="2.2" ry="1.1" transform="rotate(-40 592.2 550.9)" fill="rgb(50,50,50)"/><ellipse cx="596.6" cy="550.9" rx="2.2" ry="1.1" transform="rotate(-40 596.6 550.9)" fill="rgb(65,65,65)"/><ellipse cx="600.1" cy="550.9" rx="2.2" ry="1.1" transform="rotate(-40 600.1 550.9)" fill="rgb(51,51,51)"/><ellipse cx="603.7" cy="550.9" rx="2.2" ry="1.1" transform="rotate(-40 603.7 550.9)" fill="rgb(52,52,52)"/><ellipse cx="584.3" cy="554.0" rx="2.2" ry="1.1" transform="rotate(-40 584.3 554.0)" fill="rgb(48,48,48)"/><ellipse cx="588.1" cy="554.0" rx="2.2" ry="1.1" transform="rotate(-40 588.1 554.0)" fill="rgb(61,61,61)"/><ellipse cx="591.8" cy="554.0" rx="2.2" ry="1.1" transform="rotate(-40 591.8 554.0)" fill="rgb(54,54,54)"/><ellipse cx="595.8" cy="554.0" rx="2.2" ry="1.1" transform="rotate(-40 595.8 554.0)" fill="rgb(48,48,48)"/><ellipse cx="599.5" cy="554.0" rx="2.2" ry="1.1" transform="rotate(-40 599.5 554.0)" fill="rgb(53,53,53)"/><ellipse cx="604.1" cy="554.0" rx="2.2" ry="1.1" transform="rotate(-40 604.1 554.0)" fill="rgb(51,51,51)"/><ellipse cx="585.4" cy="557.3" rx="2.2" ry="1.1" transform="rotate(-40 585.4 557.3)" fill="rgb(52,52,52)"/><ellipse cx="589.6" cy="557.3" rx="2.2" ry="1.1" transform="rotate(-40 589.6 557.3)" fill="rgb(61,61,61)"/><ellipse cx="594.3" cy="557.3" rx="2.2" ry="1.1" transform="rotate(-40 594.3 557.3)" fill="rgb(51,51,51)"/><ellipse cx="598.3" cy="557.3" rx="2.2" ry="1.1" transform="rotate(-40 598.3 557.3)" fill="rgb(62,62,62)"/><ellipse cx="603.1" cy="557.3" rx="2.2" ry="1.1" transform="rotate(-40 603.1 557.3)" fill="rgb(62,62,62)"/><ellipse cx="583.6" cy="560.3" rx="2.2" ry="1.1" transform="rotate(-40 583.6 560.3)" fill="rgb(53,53,53)"/><ellipse cx="587.9" cy="560.3" rx="2.2" ry="1.1" transform="rotate(-40 587.9 560.3)" fill="rgb(63,63,63)"/><ellipse cx="592.3" cy="560.3" rx="2.2" ry="1.1" transform="rotate(-40 592.3 560.3)" fill="rgb(51,51,51)"/><ellipse cx="596.0" cy="560.3" rx="2.2" ry="1.1" transform="rotate(-40 596.0 560.3)" fill="rgb(61,61,61)"/><ellipse cx="600.6" cy="560.3" rx="2.2" ry="1.1" transform="rotate(-40 600.6 560.3)" fill="rgb(54,54,54)"/><ellipse cx="585.2" cy="563.1" rx="2.2" ry="1.1" transform="rotate(-40 585.2 563.1)" fill="rgb(63,63,63)"/><ellipse cx="589.8" cy="563.1" rx="2.2" ry="1.1" transform="rotate(-40 589.8 563.1)" fill="rgb(59,59,59)"/><ellipse cx="593.9" cy="563.1" rx="2.2" ry="1.1" transform="rotate(-40 593.9 563.1)" fill="rgb(54,54,54)"/><ellipse cx="597.7" cy="563.1" rx="2.2" ry="1.1" transform="rotate(-40 597.7 563.1)" fill="rgb(54,54,54)"/><ellipse cx="601.6" cy="563.1" rx="2.2" ry="1.1" transform="rotate(-40 601.6 563.1)" fill="rgb(64,64,64)"/><ellipse cx="584.2" cy="566.5" rx="2.2" ry="1.1" transform="rotate(-40 584.2 566.5)" fill="rgb(59,59,59)"/><ellipse cx="588.9" cy="566.5" rx="2.2" ry="1.1" transform="rotate(-40 588.9 566.5)" fill="rgb(49,49,49)"/><ellipse cx="593.4" cy="566.5" rx="2.2" ry="1.1" transform="rotate(-40 593.4 566.5)" fill="rgb(60,60,60)"/><ellipse cx="597.4" cy="566.5" rx="2.2" ry="1.1" transform="rotate(-40 597.4 566.5)" fill="rgb(52,52,52)"/><ellipse cx="602.1" cy="566.5" rx="2.2" ry="1.1" transform="rotate(-40 602.1 566.5)" fill="rgb(63,63,63)"/><ellipse cx="584.7" cy="569.4" rx="2.2" ry="1.1" transform="rotate(-40 584.7 569.4)" fill="rgb(57,57,57)"/><ellipse cx="589.5" cy="569.4" rx="2.2" ry="1.1" transform="rotate(-40 589.5 569.4)" fill="rgb(54,54,54)"/><ellipse cx="594.2" cy="569.4" rx="2.2" ry="1.1" transform="rotate(-40 594.2 569.4)" fill="rgb(58,58,58)"/><ellipse cx="598.5" cy="569.4" rx="2.2" ry="1.1" transform="rotate(-40 598.5 569.4)" fill="rgb(63,63,63)"/><ellipse cx="603.2" cy="569.4" rx="2.2" ry="1.1" transform="rotate(-40 603.2 569.4)" fill="rgb(50,50,50)"/><ellipse cx="583.5" cy="572.5" rx="2.2" ry="1.1" transform="rotate(-40 583.5 572.5)" fill="rgb(64,64,64)"/><ellipse cx="587.9" cy="572.5" rx="2.2" ry="1.1" transform="rotate(-40 587.9 572.5)" fill="rgb(53,53,53)"/><ellipse cx="592.7" cy="572.5" rx="2.2" ry="1.1" transform="rotate(-40 592.7 572.5)" fill="rgb(48,48,48)"/><ellipse cx="596.6" cy="572.5" rx="2.2" ry="1.1" transform="rotate(-40 596.6 572.5)" fill="rgb(48,48,48)"/><ellipse cx="601.0" cy="572.5" rx="2.2" ry="1.1" transform="rotate(-40 601.0 572.5)" fill="rgb(64,64,64)"/><ellipse cx="605.1" cy="572.5" rx="2.2" ry="1.1" transform="rotate(-40 605.1 572.5)" fill="rgb(63,63,63)"/><ellipse cx="584.8" cy="575.8" rx="2.2" ry="1.1" transform="rotate(-40 584.8 575.8)" fill="rgb(66,66,66)"/><ellipse cx="589.7" cy="575.8" rx="2.2" ry="1.1" transform="rotate(-40 589.7 575.8)" fill="rgb(65,65,65)"/><ellipse cx="594.2" cy="575.8" rx="2.2" ry="1.1" transform="rotate(-40 594.2 575.8)" fill="rgb(65,65,65)"/><ellipse cx="598.0" cy="575.8" rx="2.2" ry="1.1" transform="rotate(-40 598.0 575.8)" fill="rgb(61,61,61)"/><ellipse cx="602.0" cy="575.8" rx="2.2" ry="1.1" transform="rotate(-40 602.0 575.8)" fill="rgb(66,66,66)"/><ellipse cx="584.1" cy="579.2" rx="2.2" ry="1.1" transform="rotate(-40 584.1 579.2)" fill="rgb(57,57,57)"/><ellipse cx="587.7" cy="579.2" rx="2.2" ry="1.1" transform="rotate(-40 587.7 579.2)" fill="rgb(50,50,50)"/><ellipse cx="592.4" cy="579.2" rx="2.2" ry="1.1" transform="rotate(-40 592.4 579.2)" fill="rgb(66,66,66)"/><ellipse cx="597.2" cy="579.2" rx="2.2" ry="1.1" transform="rotate(-40 597.2 579.2)" fill="rgb(61,61,61)"/><ellipse cx="601.2" cy="579.2" rx="2.2" ry="1.1" transform="rotate(-40 601.2 579.2)" fill="rgb(48,48,48)"/><ellipse cx="605.1" cy="579.2" rx="2.2" ry="1.1" transform="rotate(-40 605.1 579.2)" fill="rgb(55,55,55)"/><ellipse cx="585.5" cy="582.6" rx="2.2" ry="1.1" transform="rotate(-40 585.5 582.6)" fill="rgb(57,57,57)"/><ellipse cx="590.4" cy="582.6" rx="2.2" ry="1.1" transform="rotate(-40 590.4 582.6)" fill="rgb(65,65,65)"/><ellipse cx="594.2" cy="582.6" rx="2.2" ry="1.1" transform="rotate(-40 594.2 582.6)" fill="rgb(64,64,64)"/><ellipse cx="597.8" cy="582.6" rx="2.2" ry="1.1" transform="rotate(-40 597.8 582.6)" fill="rgb(51,51,51)"/><ellipse cx="601.7" cy="582.6" rx="2.2" ry="1.1" transform="rotate(-40 601.7 582.6)" fill="rgb(65,65,65)"/><ellipse cx="585.5" cy="586.2" rx="2.2" ry="1.1" transform="rotate(-40 585.5 586.2)" fill="rgb(60,60,60)"/><ellipse cx="589.3" cy="586.2" rx="2.2" ry="1.1" transform="rotate(-40 589.3 586.2)" fill="rgb(64,64,64)"/><ellipse cx="594.1" cy="586.2" rx="2.2" ry="1.1" transform="rotate(-40 594.1 586.2)" fill="rgb(58,58,58)"/><ellipse cx="598.2" cy="586.2" rx="2.2" ry="1.1" transform="rotate(-40 598.2 586.2)" fill="rgb(51,51,51)"/><ellipse cx="603.0" cy="586.2" rx="2.2" ry="1.1" transform="rotate(-40 603.0 586.2)" fill="rgb(65,65,65)"/><ellipse cx="584.2" cy="589.8" rx="2.2" ry="1.1" transform="rotate(-40 584.2 589.8)" fill="rgb(51,51,51)"/><ellipse cx="588.1" cy="589.8" rx="2.2" ry="1.1" transform="rotate(-40 588.1 589.8)" fill="rgb(57,57,57)"/><ellipse cx="592.8" cy="589.8" rx="2.2" ry="1.1" transform="rotate(-40 592.8 589.8)" fill="rgb(50,50,50)"/><ellipse cx="597.6" cy="589.8" rx="2.2" ry="1.1" transform="rotate(-40 597.6 589.8)" fill="rgb(53,53,53)"/><ellipse cx="601.2" cy="589.8" rx="2.2" ry="1.1" transform="rotate(-40 601.2 589.8)" fill="rgb(61,61,61)"/><ellipse cx="583.7" cy="592.8" rx="2.2" ry="1.1" transform="rotate(-40 583.7 592.8)" fill="rgb(66,66,66)"/><ellipse cx="588.1" cy="592.8" rx="2.2" ry="1.1" transform="rotate(-40 588.1 592.8)" fill="rgb(65,65,65)"/><ellipse cx="592.7" cy="592.8" rx="2.2" ry="1.1" transform="rotate(-40 592.7 592.8)" fill="rgb(61,61,61)"/><ellipse cx="596.6" cy="592.8" rx="2.2" ry="1.1" transform="rotate(-40 596.6 592.8)" fill="rgb(63,63,63)"/><ellipse cx="600.9" cy="592.8" rx="2.2" ry="1.1" transform="rotate(-40 600.9 592.8)" fill="rgb(55,55,55)"/><ellipse cx="604.8" cy="592.8" rx="2.2" ry="1.1" transform="rotate(-40 604.8 592.8)" fill="rgb(56,56,56)"/><ellipse cx="584.5" cy="596.3" rx="2.2" ry="1.1" transform="rotate(-40 584.5 596.3)" fill="rgb(61,61,61)"/><ellipse cx="588.0" cy="596.3" rx="2.2" ry="1.1" transform="rotate(-40 588.0 596.3)" fill="rgb(51,51,51)"/><ellipse cx="592.0" cy="596.3" rx="2.2" ry="1.1" transform="rotate(-40 592.0 596.3)" fill="rgb(65,65,65)"/><ellipse cx="596.4" cy="596.3" rx="2.2" ry="1.1" transform="rotate(-40 596.4 596.3)" fill="rgb(53,53,53)"/><ellipse cx="600.5" cy="596.3" rx="2.2" ry="1.1" transform="rotate(-40 600.5 596.3)" fill="rgb(58,58,58)"/><ellipse cx="604.9" cy="596.3" rx="2.2" ry="1.1" transform="rotate(-40 604.9 596.3)" fill="rgb(58,58,58)"/><ellipse cx="585.0" cy="599.1" rx="2.2" ry="1.1" transform="rotate(-40 585.0 599.1)" fill="rgb(64,64,64)"/><ellipse cx="589.9" cy="599.1" rx="2.2" ry="1.1" transform="rotate(-40 589.9 599.1)" fill="rgb(58,58,58)"/><ellipse cx="593.7" cy="599.1" rx="2.2" ry="1.1" transform="rotate(-40 593.7 599.1)" fill="rgb(62,62,62)"/><ellipse cx="598.1" cy="599.1" rx="2.2" ry="1.1" transform="rotate(-40 598.1 599.1)" fill="rgb(55,55,55)"/><ellipse cx="603.0" cy="599.1" rx="2.2" ry="1.1" transform="rotate(-40 603.0 599.1)" fill="rgb(63,63,63)"/><ellipse cx="585.5" cy="601.9" rx="2.2" ry="1.1" transform="rotate(-40 585.5 601.9)" fill="rgb(51,51,51)"/><ellipse cx="589.2" cy="601.9" rx="2.2" ry="1.1" transform="rotate(-40 589.2 601.9)" fill="rgb(52,52,52)"/><ellipse cx="593.2" cy="601.9" rx="2.2" ry="1.1" transform="rotate(-40 593.2 601.9)" fill="rgb(51,51,51)"/><ellipse cx="597.6" cy="601.9" rx="2.2" ry="1.1" transform="rotate(-40 597.6 601.9)" fill="rgb(62,62,62)"/><ellipse cx="602.2" cy="601.9" rx="2.2" ry="1.1" transform="rotate(-40 602.2 601.9)" fill="rgb(53,53,53)"/><ellipse cx="586.4" cy="605.5" rx="2.2" ry="1.1" transform="rotate(-40 586.4 605.5)" fill="rgb(51,51,51)"/><ellipse cx="590.4" cy="605.5" rx="2.2" ry="1.1" transform="rotate(-40 590.4 605.5)" fill="rgb(50,50,50)"/><ellipse cx="594.2" cy="605.5" rx="2.2" ry="1.1" transform="rotate(-40 594.2 605.5)" fill="rgb(58,58,58)"/><ellipse cx="598.3" cy="605.5" rx="2.2" ry="1.1" transform="rotate(-40 598.3 605.5)" fill="rgb(62,62,62)"/><ellipse cx="603.1" cy="605.5" rx="2.2" ry="1.1" transform="rotate(-40 603.1 605.5)" fill="rgb(50,50,50)"/><ellipse cx="584.9" cy="609.0" rx="2.2" ry="1.1" transform="rotate(-40 584.9 609.0)" fill="rgb(48,48,48)"/><ellipse cx="588.6" cy="609.0" rx="2.2" ry="1.1" transform="rotate(-40 588.6 609.0)" fill="rgb(59,59,59)"/><ellipse cx="592.3" cy="609.0" rx="2.2" ry="1.1" transform="rotate(-40 592.3 609.0)" fill="rgb(48,48,48)"/><ellipse cx="596.5" cy="609.0" rx="2.2" ry="1.1" transform="rotate(-40 596.5 609.0)" fill="rgb(58,58,58)"/><ellipse cx="601.4" cy="609.0" rx="2.2" ry="1.1" transform="rotate(-40 601.4 609.0)" fill="rgb(50,50,50)"/><ellipse cx="585.6" cy="612.6" rx="2.2" ry="1.1" transform="rotate(-40 585.6 612.6)" fill="rgb(48,48,48)"/><ellipse cx="589.3" cy="612.6" rx="2.2" ry="1.1" transform="rotate(-40 589.3 612.6)" fill="rgb(63,63,63)"/><ellipse cx="594.3" cy="612.6" rx="2.2" ry="1.1" transform="rotate(-40 594.3 612.6)" fill="rgb(54,54,54)"/><ellipse cx="599.2" cy="612.6" rx="2.2" ry="1.1" transform="rotate(-40 599.2 612.6)" fill="rgb(60,60,60)"/><ellipse cx="602.9" cy="612.6" rx="2.2" ry="1.1" transform="rotate(-40 602.9 612.6)" fill="rgb(63,63,63)"/><ellipse cx="583.8" cy="616.0" rx="2.2" ry="1.1" transform="rotate(-40 583.8 616.0)" fill="rgb(51,51,51)"/><ellipse cx="587.7" cy="616.0" rx="2.2" ry="1.1" transform="rotate(-40 587.7 616.0)" fill="rgb(58,58,58)"/><ellipse cx="592.6" cy="616.0" rx="2.2" ry="1.1" transform="rotate(-40 592.6 616.0)" fill="rgb(50,50,50)"/><ellipse cx="596.9" cy="616.0" rx="2.2" ry="1.1" transform="rotate(-40 596.9 616.0)" fill="rgb(49,49,49)"/><ellipse cx="600.7" cy="616.0" rx="2.2" ry="1.1" transform="rotate(-40 600.7 616.0)" fill="rgb(55,55,55)"/><ellipse cx="604.6" cy="616.0" rx="2.2" ry="1.1" transform="rotate(-40 604.6 616.0)" fill="rgb(50,50,50)"/><ellipse cx="585.2" cy="619.6" rx="2.2" ry="1.1" transform="rotate(-40 585.2 619.6)" fill="rgb(61,61,61)"/><ellipse cx="590.1" cy="619.6" rx="2.2" ry="1.1" transform="rotate(-40 590.1 619.6)" fill="rgb(65,65,65)"/><ellipse cx="594.9" cy="619.6" rx="2.2" ry="1.1" transform="rotate(-40 594.9 619.6)" fill="rgb(55,55,55)"/><ellipse cx="598.5" cy="619.6" rx="2.2" ry="1.1" transform="rotate(-40 598.5 619.6)" fill="rgb(59,59,59)"/><ellipse cx="602.2" cy="619.6" rx="2.2" ry="1.1" transform="rotate(-40 602.2 619.6)" fill="rgb(50,50,50)"/><ellipse cx="584.6" cy="623.0" rx="2.2" ry="1.1" transform="rotate(-40 584.6 623.0)" fill="rgb(48,48,48)"/><ellipse cx="588.1" cy="623.0" rx="2.2" ry="1.1" transform="rotate(-40 588.1 623.0)" fill="rgb(65,65,65)"/><ellipse cx="592.3" cy="623.0" rx="2.2" ry="1.1" transform="rotate(-40 592.3 623.0)" fill="rgb(60,60,60)"/><ellipse cx="597.1" cy="623.0" rx="2.2" ry="1.1" transform="rotate(-40 597.1 623.0)" fill="rgb(50,50,50)"/><ellipse cx="600.7" cy="623.0" rx="2.2" ry="1.1" transform="rotate(-40 600.7 623.0)" fill="rgb(54,54,54)"/><ellipse cx="604.5" cy="623.0" rx="2.2" ry="1.1" transform="rotate(-40 604.5 623.0)" fill="rgb(62,62,62)"/><ellipse cx="586.4" cy="626.2" rx="2.2" ry="1.1" transform="rotate(-40 586.4 626.2)" fill="rgb(63,63,63)"/><ellipse cx="590.6" cy="626.2" rx="2.2" ry="1.1" transform="rotate(-40 590.6 626.2)" fill="rgb(49,49,49)"/><ellipse cx="594.4" cy="626.2" rx="2.2" ry="1.1" transform="rotate(-40 594.4 626.2)" fill="rgb(64,64,64)"/><ellipse cx="598.5" cy="626.2" rx="2.2" ry="1.1" transform="rotate(-40 598.5 626.2)" fill="rgb(66,66,66)"/><ellipse cx="603.4" cy="626.2" rx="2.2" ry="1.1" transform="rotate(-40 603.4 626.2)" fill="rgb(66,66,66)"/><ellipse cx="585.8" cy="629.0" rx="2.2" ry="1.1" transform="rotate(-40 585.8 629.0)" fill="rgb(61,61,61)"/><ellipse cx="590.5" cy="629.0" rx="2.2" ry="1.1" transform="rotate(-40 590.5 629.0)" fill="rgb(61,61,61)"/><ellipse cx="595.4" cy="629.0" rx="2.2" ry="1.1" transform="rotate(-40 595.4 629.0)" fill="rgb(60,60,60)"/><ellipse cx="598.9" cy="629.0" rx="2.2" ry="1.1" transform="rotate(-40 598.9 629.0)" fill="rgb(53,53,53)"/><ellipse cx="603.8" cy="629.0" rx="2.2" ry="1.1" transform="rotate(-40 603.8 629.0)" fill="rgb(52,52,52)"/><ellipse cx="586.0" cy="632.0" rx="2.2" ry="1.1" transform="rotate(-40 586.0 632.0)" fill="rgb(50,50,50)"/><ellipse cx="591.0" cy="632.0" rx="2.2" ry="1.1" transform="rotate(-40 591.0 632.0)" fill="rgb(54,54,54)"/><ellipse cx="595.1" cy="632.0" rx="2.2" ry="1.1" transform="rotate(-40 595.1 632.0)" fill="rgb(54,54,54)"/><ellipse cx="599.0" cy="632.0" rx="2.2" ry="1.1" transform="rotate(-40 599.0 632.0)" fill="rgb(63,63,63)"/><ellipse cx="603.0" cy="632.0" rx="2.2" ry="1.1" transform="rotate(-40 603.0 632.0)" fill="rgb(48,48,48)"/><ellipse cx="584.0" cy="634.9" rx="2.2" ry="1.1" transform="rotate(-40 584.0 634.9)" fill="rgb(62,62,62)"/><ellipse cx="587.6" cy="634.9" rx="2.2" ry="1.1" transform="rotate(-40 587.6 634.9)" fill="rgb(60,60,60)"/><ellipse cx="591.2" cy="634.9" rx="2.2" ry="1.1" transform="rotate(-40 591.2 634.9)" fill="rgb(61,61,61)"/><ellipse cx="596.0" cy="634.9" rx="2.2" ry="1.1" transform="rotate(-40 596.0 634.9)" fill="rgb(54,54,54)"/><ellipse cx="600.5" cy="634.9" rx="2.2" ry="1.1" transform="rotate(-40 600.5 634.9)" fill="rgb(63,63,63)"/><ellipse cx="605.4" cy="634.9" rx="2.2" ry="1.1" transform="rotate(-40 605.4 634.9)" fill="rgb(62,62,62)"/><ellipse cx="586.3" cy="637.9" rx="2.2" ry="1.1" transform="rotate(-40 586.3 637.9)" fill="rgb(48,48,48)"/><ellipse cx="589.8" cy="637.9" rx="2.2" ry="1.1" transform="rotate(-40 589.8 637.9)" fill="rgb(61,61,61)"/><ellipse cx="593.4" cy="637.9" rx="2.2" ry="1.1" transform="rotate(-40 593.4 637.9)" fill="rgb(52,52,52)"/><ellipse cx="598.0" cy="637.9" rx="2.2" ry="1.1" transform="rotate(-40 598.0 637.9)" fill="rgb(59,59,59)"/><ellipse cx="602.0" cy="637.9" rx="2.2" ry="1.1" transform="rotate(-40 602.0 637.9)" fill="rgb(54,54,54)"/><ellipse cx="586.4" cy="641.1" rx="2.2" ry="1.1" transform="rotate(-40 586.4 641.1)" fill="rgb(65,65,65)"/><ellipse cx="590.1" cy="641.1" rx="2.2" ry="1.1" transform="rotate(-40 590.1 641.1)" fill="rgb(51,51,51)"/><ellipse cx="593.7" cy="641.1" rx="2.2" ry="1.1" transform="rotate(-40 593.7 641.1)" fill="rgb(60,60,60)"/><ellipse cx="597.8" cy="641.1" rx="2.2" ry="1.1" transform="rotate(-40 597.8 641.1)" fill="rgb(59,59,59)"/><ellipse cx="602.6" cy="641.1" rx="2.2" ry="1.1" transform="rotate(-40 602.6 641.1)" fill="rgb(65,65,65)"/><ellipse cx="584.2" cy="644.6" rx="2.2" ry="1.1" transform="rotate(-40 584.2 644.6)" fill="rgb(66,66,66)"/><ellipse cx="587.9" cy="644.6" rx="2.2" ry="1.1" transform="rotate(-40 587.9 644.6)" fill="rgb(48,48,48)"/><ellipse cx="592.3" cy="644.6" rx="2.2" ry="1.1" transform="rotate(-40 592.3 644.6)" fill="rgb(60,60,60)"/><ellipse cx="596.0" cy="644.6" rx="2.2" ry="1.1" transform="rotate(-40 596.0 644.6)" fill="rgb(63,63,63)"/><ellipse cx="600.4" cy="644.6" rx="2.2" ry="1.1" transform="rotate(-40 600.4 644.6)" fill="rgb(49,49,49)"/><ellipse cx="604.0" cy="644.6" rx="2.2" ry="1.1" transform="rotate(-40 604.0 644.6)" fill="rgb(54,54,54)"/><ellipse cx="585.3" cy="647.8" rx="2.2" ry="1.1" transform="rotate(-40 585.3 647.8)" fill="rgb(57,57,57)"/><ellipse cx="588.9" cy="647.8" rx="2.2" ry="1.1" transform="rotate(-40 588.9 647.8)" fill="rgb(64,64,64)"/><ellipse cx="592.8" cy="647.8" rx="2.2" ry="1.1" transform="rotate(-40 592.8 647.8)" fill="rgb(60,60,60)"/><ellipse cx="597.6" cy="647.8" rx="2.2" ry="1.1" transform="rotate(-40 597.6 647.8)" fill="rgb(48,48,48)"/><ellipse cx="601.9" cy="647.8" rx="2.2" ry="1.1" transform="rotate(-40 601.9 647.8)" fill="rgb(62,62,62)"/><ellipse cx="586.3" cy="651.2" rx="2.2" ry="1.1" transform="rotate(-40 586.3 651.2)" fill="rgb(59,59,59)"/><ellipse cx="590.6" cy="651.2" rx="2.2" ry="1.1" transform="rotate(-40 590.6 651.2)" fill="rgb(56,56,56)"/><ellipse cx="595.2" cy="651.2" rx="2.2" ry="1.1" transform="rotate(-40 595.2 651.2)" fill="rgb(60,60,60)"/><ellipse cx="600.2" cy="651.2" rx="2.2" ry="1.1" transform="rotate(-40 600.2 651.2)" fill="rgb(57,57,57)"/><ellipse cx="604.9" cy="651.2" rx="2.2" ry="1.1" transform="rotate(-40 604.9 651.2)" fill="rgb(66,66,66)"/><ellipse cx="584.8" cy="654.0" rx="2.2" ry="1.1" transform="rotate(-40 584.8 654.0)" fill="rgb(54,54,54)"/><ellipse cx="589.1" cy="654.0" rx="2.2" ry="1.1" transform="rotate(-40 589.1 654.0)" fill="rgb(60,60,60)"/><ellipse cx="592.8" cy="654.0" rx="2.2" ry="1.1" transform="rotate(-40 592.8 654.0)" fill="rgb(64,64,64)"/><ellipse cx="596.7" cy="654.0" rx="2.2" ry="1.1" transform="rotate(-40 596.7 654.0)" fill="rgb(65,65,65)"/><ellipse cx="600.8" cy="654.0" rx="2.2" ry="1.1" transform="rotate(-40 600.8 654.0)" fill="rgb(61,61,61)"/><ellipse cx="604.5" cy="654.0" rx="2.2" ry="1.1" transform="rotate(-40 604.5 654.0)" fill="rgb(59,59,59)"/><ellipse cx="585.2" cy="656.8" rx="2.2" ry="1.1" transform="rotate(-40 585.2 656.8)" fill="rgb(66,66,66)"/><ellipse cx="589.4" cy="656.8" rx="2.2" ry="1.1" transform="rotate(-40 589.4 656.8)" fill="rgb(49,49,49)"/><ellipse cx="594.0" cy="656.8" rx="2.2" ry="1.1" transform="rotate(-40 594.0 656.8)" fill="rgb(51,51,51)"/><ellipse cx="598.0" cy="656.8" rx="2.2" ry="1.1" transform="rotate(-40 598.0 656.8)" fill="rgb(52,52,52)"/><ellipse cx="602.1" cy="656.8" rx="2.2" ry="1.1" transform="rotate(-40 602.1 656.8)" fill="rgb(58,58,58)"/><ellipse cx="585.9" cy="659.9" rx="2.2" ry="1.1" transform="rotate(-40 585.9 659.9)" fill="rgb(51,51,51)"/><ellipse cx="589.7" cy="659.9" rx="2.2" ry="1.1" transform="rotate(-40 589.7 659.9)" fill="rgb(48,48,48)"/><ellipse cx="594.2" cy="659.9" rx="2.2" ry="1.1" transform="rotate(-40 594.2 659.9)" fill="rgb(60,60,60)"/><ellipse cx="597.9" cy="659.9" rx="2.2" ry="1.1" transform="rotate(-40 597.9 659.9)" fill="rgb(55,55,55)"/><ellipse cx="602.5" cy="659.9" rx="2.2" ry="1.1" transform="rotate(-40 602.5 659.9)" fill="rgb(66,66,66)"/><ellipse cx="586.2" cy="663.0" rx="2.2" ry="1.1" transform="rotate(-40 586.2 663.0)" fill="rgb(53,53,53)"/><ellipse cx="590.6" cy="663.0" rx="2.2" ry="1.1" transform="rotate(-40 590.6 663.0)" fill="rgb(66,66,66)"/><ellipse cx="594.2" cy="663.0" rx="2.2" ry="1.1" transform="rotate(-40 594.2 663.0)" fill="rgb(59,59,59)"/><ellipse cx="598.5" cy="663.0" rx="2.2" ry="1.1" transform="rotate(-40 598.5 663.0)" fill="rgb(48,48,48)"/><ellipse cx="602.7" cy="663.0" rx="2.2" ry="1.1" transform="rotate(-40 602.7 663.0)" fill="rgb(63,63,63)"/><ellipse cx="583.6" cy="666.3" rx="2.2" ry="1.1" transform="rotate(-40 583.6 666.3)" fill="rgb(61,61,61)"/><ellipse cx="587.3" cy="666.3" rx="2.2" ry="1.1" transform="rotate(-40 587.3 666.3)" fill="rgb(64,64,64)"/><ellipse cx="591.7" cy="666.3" rx="2.2" ry="1.1" transform="rotate(-40 591.7 666.3)" fill="rgb(66,66,66)"/><ellipse cx="595.5" cy="666.3" rx="2.2" ry="1.1" transform="rotate(-40 595.5 666.3)" fill="rgb(51,51,51)"/><ellipse cx="600.1" cy="666.3" rx="2.2" ry="1.1" transform="rotate(-40 600.1 666.3)" fill="rgb(66,66,66)"/><ellipse cx="603.7" cy="666.3" rx="2.2" ry="1.1" transform="rotate(-40 603.7 666.3)" fill="rgb(50,50,50)"/><ellipse cx="585.1" cy="669.4" rx="2.2" ry="1.1" transform="rotate(-40 585.1 669.4)" fill="rgb(65,65,65)"/><ellipse cx="589.7" cy="669.4" rx="2.2" ry="1.1" transform="rotate(-40 589.7 669.4)" fill="rgb(50,50,50)"/><ellipse cx="594.6" cy="669.4" rx="2.2" ry="1.1" transform="rotate(-40 594.6 669.4)" fill="rgb(56,56,56)"/><ellipse cx="598.3" cy="669.4" rx="2.2" ry="1.1" transform="rotate(-40 598.3 669.4)" fill="rgb(57,57,57)"/><ellipse cx="602.2" cy="669.4" rx="2.2" ry="1.1" transform="rotate(-40 602.2 669.4)" fill="rgb(57,57,57)"/><ellipse cx="584.5" cy="672.9" rx="2.2" ry="1.1" transform="rotate(-40 584.5 672.9)" fill="rgb(63,63,63)"/><ellipse cx="588.7" cy="672.9" rx="2.2" ry="1.1" transform="rotate(-40 588.7 672.9)" fill="rgb(52,52,52)"/><ellipse cx="593.2" cy="672.9" rx="2.2" ry="1.1" transform="rotate(-40 593.2 672.9)" fill="rgb(56,56,56)"/><ellipse cx="597.1" cy="672.9" rx="2.2" ry="1.1" transform="rotate(-40 597.1 672.9)" fill="rgb(54,54,54)"/><ellipse cx="601.3" cy="672.9" rx="2.2" ry="1.1" transform="rotate(-40 601.3 672.9)" fill="rgb(52,52,52)"/><ellipse cx="605.3" cy="672.9" rx="2.2" ry="1.1" transform="rotate(-40 605.3 672.9)" fill="rgb(50,50,50)"/><ellipse cx="585.1" cy="676.0" rx="2.2" ry="1.1" transform="rotate(-40 585.1 676.0)" fill="rgb(60,60,60)"/><ellipse cx="588.8" cy="676.0" rx="2.2" ry="1.1" transform="rotate(-40 588.8 676.0)" fill="rgb(52,52,52)"/><ellipse cx="593.7" cy="676.0" rx="2.2" ry="1.1" transform="rotate(-40 593.7 676.0)" fill="rgb(53,53,53)"/><ellipse cx="598.2" cy="676.0" rx="2.2" ry="1.1" transform="rotate(-40 598.2 676.0)" fill="rgb(62,62,62)"/><ellipse cx="603.1" cy="676.0" rx="2.2" ry="1.1" transform="rotate(-40 603.1 676.0)" fill="rgb(59,59,59)"/><ellipse cx="584.3" cy="678.9" rx="2.2" ry="1.1" transform="rotate(-40 584.3 678.9)" fill="rgb(63,63,63)"/><ellipse cx="588.6" cy="678.9" rx="2.2" ry="1.1" transform="rotate(-40 588.6 678.9)" fill="rgb(54,54,54)"/><ellipse cx="592.9" cy="678.9" rx="2.2" ry="1.1" transform="rotate(-40 592.9 678.9)" fill="rgb(53,53,53)"/><ellipse cx="597.0" cy="678.9" rx="2.2" ry="1.1" transform="rotate(-40 597.0 678.9)" fill="rgb(56,56,56)"/><ellipse cx="601.8" cy="678.9" rx="2.2" ry="1.1" transform="rotate(-40 601.8 678.9)" fill="rgb(57,57,57)"/><ellipse cx="584.8" cy="681.9" rx="2.2" ry="1.1" transform="rotate(-40 584.8 681.9)" fill="rgb(64,64,64)"/><ellipse cx="588.7" cy="681.9" rx="2.2" ry="1.1" transform="rotate(-40 588.7 681.9)" fill="rgb(50,50,50)"/><ellipse cx="593.6" cy="681.9" rx="2.2" ry="1.1" transform="rotate(-40 593.6 681.9)" fill="rgb(51,51,51)"/><ellipse cx="598.1" cy="681.9" rx="2.2" ry="1.1" transform="rotate(-40 598.1 681.9)" fill="rgb(51,51,51)"/><ellipse cx="602.1" cy="681.9" rx="2.2" ry="1.1" transform="rotate(-40 602.1 681.9)" fill="rgb(51,51,51)"/><ellipse cx="585.8" cy="684.9" rx="2.2" ry="1.1" transform="rotate(-40 585.8 684.9)" fill="rgb(53,53,53)"/><ellipse cx="589.3" cy="684.9" rx="2.2" ry="1.1" transform="rotate(-40 589.3 684.9)" fill="rgb(65,65,65)"/><ellipse cx="593.4" cy="684.9" rx="2.2" ry="1.1" transform="rotate(-40 593.4 684.9)" fill="rgb(58,58,58)"/><ellipse cx="598.0" cy="684.9" rx="2.2" ry="1.1" transform="rotate(-40 598.0 684.9)" fill="rgb(56,56,56)"/><ellipse cx="601.7" cy="684.9" rx="2.2" ry="1.1" transform="rotate(-40 601.7 684.9)" fill="rgb(58,58,58)"/><ellipse cx="584.4" cy="688.0" rx="2.2" ry="1.1" transform="rotate(-40 584.4 688.0)" fill="rgb(58,58,58)"/><ellipse cx="588.5" cy="688.0" rx="2.2" ry="1.1" transform="rotate(-40 588.5 688.0)" fill="rgb(61,61,61)"/><ellipse cx="592.1" cy="688.0" rx="2.2" ry="1.1" transform="rotate(-40 592.1 688.0)" fill="rgb(57,57,57)"/><ellipse cx="595.7" cy="688.0" rx="2.2" ry="1.1" transform="rotate(-40 595.7 688.0)" fill="rgb(49,49,49)"/><ellipse cx="600.6" cy="688.0" rx="2.2" ry="1.1" transform="rotate(-40 600.6 688.0)" fill="rgb(64,64,64)"/><ellipse cx="604.7" cy="688.0" rx="2.2" ry="1.1" transform="rotate(-40 604.7 688.0)" fill="rgb(62,62,62)"/><ellipse cx="583.6" cy="691.0" rx="2.2" ry="1.1" transform="rotate(-40 583.6 691.0)" fill="rgb(66,66,66)"/><ellipse cx="587.9" cy="691.0" rx="2.2" ry="1.1" transform="rotate(-40 587.9 691.0)" fill="rgb(51,51,51)"/><ellipse cx="592.4" cy="691.0" rx="2.2" ry="1.1" transform="rotate(-40 592.4 691.0)" fill="rgb(58,58,58)"/><ellipse cx="597.3" cy="691.0" rx="2.2" ry="1.1" transform="rotate(-40 597.3 691.0)" fill="rgb(50,50,50)"/><ellipse cx="601.5" cy="691.0" rx="2.2" ry="1.1" transform="rotate(-40 601.5 691.0)" fill="rgb(51,51,51)"/><ellipse cx="605.3" cy="691.0" rx="2.2" ry="1.1" transform="rotate(-40 605.3 691.0)" fill="rgb(55,55,55)"/><ellipse cx="583.8" cy="694.2" rx="2.2" ry="1.1" transform="rotate(-40 583.8 694.2)" fill="rgb(65,65,65)"/><ellipse cx="587.8" cy="694.2" rx="2.2" ry="1.1" transform="rotate(-40 587.8 694.2)" fill="rgb(51,51,51)"/><ellipse cx="591.7" cy="694.2" rx="2.2" ry="1.1" transform="rotate(-40 591.7 694.2)" fill="rgb(65,65,65)"/><ellipse cx="595.9" cy="694.2" rx="2.2" ry="1.1" transform="rotate(-40 595.9 694.2)" fill="rgb(61,61,61)"/><ellipse cx="599.5" cy="694.2" rx="2.2" ry="1.1" transform="rotate(-40 599.5 694.2)" fill="rgb(64,64,64)"/><ellipse cx="604.4" cy="694.2" rx="2.2" ry="1.1" transform="rotate(-40 604.4 694.2)" fill="rgb(52,52,52)"/><ellipse cx="586.3" cy="697.5" rx="2.2" ry="1.1" transform="rotate(-40 586.3 697.5)" fill="rgb(58,58,58)"/><ellipse cx="591.1" cy="697.5" rx="2.2" ry="1.1" transform="rotate(-40 591.1 697.5)" fill="rgb(64,64,64)"/><ellipse cx="594.7" cy="697.5" rx="2.2" ry="1.1" transform="rotate(-40 594.7 697.5)" fill="rgb(57,57,57)"/><ellipse cx="598.3" cy="697.5" rx="2.2" ry="1.1" transform="rotate(-40 598.3 697.5)" fill="rgb(62,62,62)"/><ellipse cx="602.2" cy="697.5" rx="2.2" ry="1.1" transform="rotate(-40 602.2 697.5)" fill="rgb(65,65,65)"/><ellipse cx="585.0" cy="700.7" rx="2.2" ry="1.1" transform="rotate(-40 585.0 700.7)" fill="rgb(57,57,57)"/><ellipse cx="588.7" cy="700.7" rx="2.2" ry="1.1" transform="rotate(-40 588.7 700.7)" fill="rgb(56,56,56)"/><ellipse cx="592.9" cy="700.7" rx="2.2" ry="1.1" transform="rotate(-40 592.9 700.7)" fill="rgb(60,60,60)"/><ellipse cx="597.6" cy="700.7" rx="2.2" ry="1.1" transform="rotate(-40 597.6 700.7)" fill="rgb(51,51,51)"/><ellipse cx="601.3" cy="700.7" rx="2.2" ry="1.1" transform="rotate(-40 601.3 700.7)" fill="rgb(54,54,54)"/><ellipse cx="605.5" cy="700.7" rx="2.2" ry="1.1" transform="rotate(-40 605.5 700.7)" fill="rgb(51,51,51)"/><ellipse cx="584.2" cy="703.7" rx="2.2" ry="1.1" transform="rotate(-40 584.2 703.7)" fill="rgb(50,50,50)"/><ellipse cx="588.8" cy="703.7" rx="2.2" ry="1.1" transform="rotate(-40 588.8 703.7)" fill="rgb(56,56,56)"/><ellipse cx="593.3" cy="703.7" rx="2.2" ry="1.1" transform="rotate(-40 593.3 703.7)" fill="rgb(53,53,53)"/><ellipse cx="598.0" cy="703.7" rx="2.2" ry="1.1" transform="rotate(-40 598.0 703.7)" fill="rgb(63,63,63)"/><ellipse cx="601.6" cy="703.7" rx="2.2" ry="1.1" transform="rotate(-40 601.6 703.7)" fill="rgb(66,66,66)"/><ellipse cx="585.6" cy="707.0" rx="2.2" ry="1.1" transform="rotate(-40 585.6 707.0)" fill="rgb(65,65,65)"/><ellipse cx="590.2" cy="707.0" rx="2.2" ry="1.1" transform="rotate(-40 590.2 707.0)" fill="rgb(51,51,51)"/><ellipse cx="594.0" cy="707.0" rx="2.2" ry="1.1" transform="rotate(-40 594.0 707.0)" fill="rgb(48,48,48)"/><ellipse cx="598.0" cy="707.0" rx="2.2" ry="1.1" transform="rotate(-40 598.0 707.0)" fill="rgb(66,66,66)"/><ellipse cx="602.2" cy="707.0" rx="2.2" ry="1.1" transform="rotate(-40 602.2 707.0)" fill="rgb(63,63,63)"/><ellipse cx="585.3" cy="710.3" rx="2.2" ry="1.1" transform="rotate(-40 585.3 710.3)" fill="rgb(58,58,58)"/><ellipse cx="588.9" cy="710.3" rx="2.2" ry="1.1" transform="rotate(-40 588.9 710.3)" fill="rgb(57,57,57)"/><ellipse cx="592.6" cy="710.3" rx="2.2" ry="1.1" transform="rotate(-40 592.6 710.3)" fill="rgb(61,61,61)"/><ellipse cx="596.5" cy="710.3" rx="2.2" ry="1.1" transform="rotate(-40 596.5 710.3)" fill="rgb(59,59,59)"/><ellipse cx="601.5" cy="710.3" rx="2.2" ry="1.1" transform="rotate(-40 601.5 710.3)" fill="rgb(52,52,52)"/><ellipse cx="605.4" cy="710.3" rx="2.2" ry="1.1" transform="rotate(-40 605.4 710.3)" fill="rgb(54,54,54)"/><ellipse cx="583.5" cy="713.6" rx="2.2" ry="1.1" transform="rotate(-40 583.5 713.6)" fill="rgb(53,53,53)"/><ellipse cx="587.5" cy="713.6" rx="2.2" ry="1.1" transform="rotate(-40 587.5 713.6)" fill="rgb(61,61,61)"/><ellipse cx="592.0" cy="713.6" rx="2.2" ry="1.1" transform="rotate(-40 592.0 713.6)" fill="rgb(61,61,61)"/><ellipse cx="596.7" cy="713.6" rx="2.2" ry="1.1" transform="rotate(-40 596.7 713.6)" fill="rgb(66,66,66)"/><ellipse cx="601.2" cy="713.6" rx="2.2" ry="1.1" transform="rotate(-40 601.2 713.6)" fill="rgb(58,58,58)"/><ellipse cx="584.5" cy="716.9" rx="2.2" ry="1.1" transform="rotate(-40 584.5 716.9)" fill="rgb(48,48,48)"/><ellipse cx="588.2" cy="716.9" rx="2.2" ry="1.1" transform="rotate(-40 588.2 716.9)" fill="rgb(63,63,63)"/><ellipse cx="592.7" cy="716.9" rx="2.2" ry="1.1" transform="rotate(-40 592.7 716.9)" fill="rgb(65,65,65)"/><ellipse cx="597.4" cy="716.9" rx="2.2" ry="1.1" transform="rotate(-40 597.4 716.9)" fill="rgb(62,62,62)"/><ellipse cx="602.1" cy="716.9" rx="2.2" ry="1.1" transform="rotate(-40 602.1 716.9)" fill="rgb(49,49,49)"/><ellipse cx="587.0" cy="399.5" rx="2.6" ry="1.2" transform="rotate(40 587.0 399.5)" fill="rgb(110,110,113)"/><ellipse cx="594.2" cy="398.5" rx="2.5" ry="1.2" transform="rotate(40 594.2 398.5)" fill="rgb(141,141,144)"/><ellipse cx="598.8" cy="399.4" rx="2.2" ry="1.1" transform="rotate(40 598.8 399.4)" fill="rgb(159,159,162)"/><ellipse cx="590.1" cy="402.7" rx="2.4" ry="1.3" transform="rotate(40 590.1 402.7)" fill="rgb(143,143,146)"/><ellipse cx="595.7" cy="403.4" rx="2.4" ry="0.9" transform="rotate(40 595.7 403.4)" fill="rgb(112,112,115)"/><ellipse cx="602.5" cy="403.7" rx="1.9" ry="1.2" transform="rotate(40 602.5 403.7)" fill="rgb(133,133,136)"/><ellipse cx="592.6" cy="407.3" rx="2.5" ry="1.3" transform="rotate(40 592.6 407.3)" fill="rgb(141,141,144)"/><ellipse cx="598.6" cy="407.2" rx="2.5" ry="1.0" transform="rotate(40 598.6 407.2)" fill="rgb(123,123,126)"/><ellipse cx="590.5" cy="411.7" rx="2.6" ry="1.3" transform="rotate(40 590.5 411.7)" fill="rgb(149,149,152)"/><ellipse cx="596.0" cy="411.6" rx="2.6" ry="1.0" transform="rotate(40 596.0 411.6)" fill="rgb(126,126,129)"/><ellipse cx="586.2" cy="416.8" rx="2.1" ry="1.2" transform="rotate(40 586.2 416.8)" fill="rgb(152,152,155)"/><ellipse cx="592.5" cy="416.8" rx="2.0" ry="1.1" transform="rotate(40 592.5 416.8)" fill="rgb(112,112,115)"/><ellipse cx="603.8" cy="415.6" rx="1.9" ry="1.1" transform="rotate(40 603.8 415.6)" fill="rgb(140,140,143)"/><ellipse cx="588.7" cy="420.7" rx="2.4" ry="1.2" transform="rotate(40 588.7 420.7)" fill="rgb(106,106,109)"/><ellipse cx="594.5" cy="419.5" rx="1.9" ry="1.0" transform="rotate(40 594.5 419.5)" fill="rgb(156,156,159)"/><ellipse cx="601.9" cy="419.9" rx="2.0" ry="1.1" transform="rotate(40 601.9 419.9)" fill="rgb(130,130,133)"/><ellipse cx="585.7" cy="424.6" rx="1.8" ry="1.1" transform="rotate(40 585.7 424.6)" fill="rgb(152,152,155)"/><ellipse cx="591.9" cy="424.9" rx="2.3" ry="1.1" transform="rotate(40 591.9 424.9)" fill="rgb(105,105,108)"/><ellipse cx="598.6" cy="425.0" rx="2.4" ry="0.9" transform="rotate(40 598.6 425.0)" fill="rgb(154,154,157)"/><ellipse cx="596.1" cy="428.7" rx="2.2" ry="1.1" transform="rotate(40 596.1 428.7)" fill="rgb(131,131,134)"/><ellipse cx="602.4" cy="429.8" rx="2.6" ry="1.1" transform="rotate(40 602.4 429.8)" fill="rgb(104,104,107)"/><ellipse cx="585.6" cy="433.0" rx="2.1" ry="1.3" transform="rotate(40 585.6 433.0)" fill="rgb(110,110,113)"/><ellipse cx="591.7" cy="432.6" rx="2.1" ry="1.2" transform="rotate(40 591.7 432.6)" fill="rgb(129,129,132)"/><ellipse cx="598.0" cy="432.9" rx="1.8" ry="1.0" transform="rotate(40 598.0 432.9)" fill="rgb(159,159,162)"/><ellipse cx="589.1" cy="437.2" rx="2.2" ry="1.3" transform="rotate(40 589.1 437.2)" fill="rgb(154,154,157)"/><ellipse cx="600.6" cy="437.9" rx="2.5" ry="1.0" transform="rotate(40 600.6 437.9)" fill="rgb(120,120,123)"/><ellipse cx="586.7" cy="441.1" rx="2.3" ry="1.1" transform="rotate(40 586.7 441.1)" fill="rgb(102,102,105)"/><ellipse cx="592.1" cy="441.8" rx="2.0" ry="1.2" transform="rotate(40 592.1 441.8)" fill="rgb(118,118,121)"/><ellipse cx="598.1" cy="441.8" rx="2.6" ry="1.1" transform="rotate(40 598.1 441.8)" fill="rgb(144,144,147)"/><ellipse cx="596.1" cy="446.6" rx="2.5" ry="1.0" transform="rotate(40 596.1 446.6)" fill="rgb(128,128,131)"/><ellipse cx="601.6" cy="446.4" rx="2.2" ry="1.0" transform="rotate(40 601.6 446.4)" fill="rgb(154,154,157)"/><ellipse cx="591.0" cy="450.3" rx="2.0" ry="1.1" transform="rotate(40 591.0 450.3)" fill="rgb(120,120,123)"/><ellipse cx="596.8" cy="450.5" rx="2.0" ry="1.0" transform="rotate(40 596.8 450.5)" fill="rgb(102,102,105)"/><ellipse cx="603.0" cy="449.9" rx="2.5" ry="1.2" transform="rotate(40 603.0 449.9)" fill="rgb(101,101,104)"/><ellipse cx="589.9" cy="455.0" rx="1.8" ry="1.1" transform="rotate(40 589.9 455.0)" fill="rgb(131,131,134)"/><ellipse cx="596.2" cy="453.7" rx="2.0" ry="1.1" transform="rotate(40 596.2 453.7)" fill="rgb(120,120,123)"/><ellipse cx="586.2" cy="458.9" rx="2.4" ry="1.3" transform="rotate(40 586.2 458.9)" fill="rgb(157,157,160)"/><ellipse cx="590.8" cy="459.2" rx="2.0" ry="1.1" transform="rotate(40 590.8 459.2)" fill="rgb(117,117,120)"/><ellipse cx="597.9" cy="458.9" rx="2.5" ry="1.2" transform="rotate(40 597.9 458.9)" fill="rgb(130,130,133)"/><ellipse cx="588.5" cy="462.4" rx="2.2" ry="1.2" transform="rotate(40 588.5 462.4)" fill="rgb(118,118,121)"/><ellipse cx="601.5" cy="463.1" rx="2.2" ry="1.2" transform="rotate(40 601.5 463.1)" fill="rgb(139,139,142)"/><ellipse cx="586.1" cy="467.5" rx="2.5" ry="1.1" transform="rotate(40 586.1 467.5)" fill="rgb(154,154,157)"/><ellipse cx="591.7" cy="466.8" rx="1.8" ry="1.0" transform="rotate(40 591.7 466.8)" fill="rgb(158,158,161)"/><ellipse cx="598.7" cy="466.7" rx="2.5" ry="1.0" transform="rotate(40 598.7 466.7)" fill="rgb(118,118,121)"/><ellipse cx="590.5" cy="471.1" rx="2.5" ry="1.2" transform="rotate(40 590.5 471.1)" fill="rgb(114,114,117)"/><ellipse cx="595.9" cy="471.8" rx="2.3" ry="1.2" transform="rotate(40 595.9 471.8)" fill="rgb(134,134,137)"/><ellipse cx="585.8" cy="475.9" rx="2.0" ry="1.0" transform="rotate(40 585.8 475.9)" fill="rgb(150,150,153)"/><ellipse cx="592.3" cy="475.9" rx="2.2" ry="1.2" transform="rotate(40 592.3 475.9)" fill="rgb(128,128,131)"/><ellipse cx="603.6" cy="476.4" rx="2.0" ry="1.0" transform="rotate(40 603.6 476.4)" fill="rgb(112,112,115)"/><ellipse cx="590.4" cy="479.8" rx="2.3" ry="1.3" transform="rotate(40 590.4 479.8)" fill="rgb(101,101,104)"/><ellipse cx="596.5" cy="480.4" rx="2.2" ry="1.0" transform="rotate(40 596.5 480.4)" fill="rgb(125,125,128)"/><ellipse cx="602.2" cy="479.6" rx="2.6" ry="1.1" transform="rotate(40 602.2 479.6)" fill="rgb(149,149,152)"/><ellipse cx="586.8" cy="484.9" rx="2.3" ry="1.1" transform="rotate(40 586.8 484.9)" fill="rgb(127,127,130)"/><ellipse cx="593.2" cy="484.5" rx="2.5" ry="1.1" transform="rotate(40 593.2 484.5)" fill="rgb(145,145,148)"/><ellipse cx="590.1" cy="488.7" rx="2.2" ry="1.3" transform="rotate(40 590.1 488.7)" fill="rgb(151,151,154)"/><ellipse cx="596.2" cy="488.5" rx="2.0" ry="1.0" transform="rotate(40 596.2 488.5)" fill="rgb(145,145,148)"/><ellipse cx="602.6" cy="488.8" rx="2.5" ry="1.0" transform="rotate(40 602.6 488.8)" fill="rgb(100,100,103)"/><ellipse cx="591.6" cy="493.9" rx="1.9" ry="0.9" transform="rotate(40 591.6 493.9)" fill="rgb(158,158,161)"/><ellipse cx="589.4" cy="498.1" rx="2.2" ry="1.1" transform="rotate(40 589.4 498.1)" fill="rgb(110,110,113)"/><ellipse cx="599.7" cy="498.7" rx="2.0" ry="1.1" transform="rotate(40 599.7 498.7)" fill="rgb(102,102,105)"/><ellipse cx="586.1" cy="502.1" rx="2.5" ry="1.1" transform="rotate(40 586.1 502.1)" fill="rgb(131,131,134)"/><ellipse cx="591.8" cy="502.1" rx="2.4" ry="1.0" transform="rotate(40 591.8 502.1)" fill="rgb(107,107,110)"/><ellipse cx="598.2" cy="502.6" rx="1.9" ry="1.1" transform="rotate(40 598.2 502.6)" fill="rgb(118,118,121)"/><ellipse cx="594.9" cy="507.3" rx="2.2" ry="1.2" transform="rotate(40 594.9 507.3)" fill="rgb(109,109,112)"/><ellipse cx="592.3" cy="510.0" rx="1.9" ry="1.0" transform="rotate(40 592.3 510.0)" fill="rgb(151,151,154)"/><ellipse cx="598.1" cy="509.9" rx="2.6" ry="1.1" transform="rotate(40 598.1 509.9)" fill="rgb(123,123,126)"/><ellipse cx="589.4" cy="514.3" rx="2.6" ry="0.9" transform="rotate(40 589.4 514.3)" fill="rgb(160,160,163)"/><ellipse cx="596.2" cy="515.0" rx="2.0" ry="1.3" transform="rotate(40 596.2 515.0)" fill="rgb(137,137,140)"/><ellipse cx="602.5" cy="514.2" rx="2.2" ry="1.0" transform="rotate(40 602.5 514.2)" fill="rgb(133,133,136)"/><ellipse cx="587.4" cy="518.8" rx="2.0" ry="1.0" transform="rotate(40 587.4 518.8)" fill="rgb(135,135,138)"/><ellipse cx="594.6" cy="519.4" rx="2.0" ry="1.1" transform="rotate(40 594.6 519.4)" fill="rgb(104,104,107)"/><ellipse cx="600.7" cy="518.6" rx="2.5" ry="1.3" transform="rotate(40 600.7 518.6)" fill="rgb(142,142,145)"/><ellipse cx="589.6" cy="523.5" rx="2.3" ry="1.2" transform="rotate(40 589.6 523.5)" fill="rgb(115,115,118)"/><ellipse cx="602.9" cy="524.0" rx="1.9" ry="1.3" transform="rotate(40 602.9 524.0)" fill="rgb(155,155,158)"/><ellipse cx="588.2" cy="527.8" rx="2.1" ry="1.1" transform="rotate(40 588.2 527.8)" fill="rgb(159,159,162)"/><ellipse cx="592.6" cy="528.0" rx="2.5" ry="1.2" transform="rotate(40 592.6 528.0)" fill="rgb(123,123,126)"/><ellipse cx="599.2" cy="528.1" rx="2.1" ry="1.1" transform="rotate(40 599.2 528.1)" fill="rgb(114,114,117)"/><ellipse cx="588.2" cy="531.9" rx="1.8" ry="1.3" transform="rotate(40 588.2 531.9)" fill="rgb(158,158,161)"/><ellipse cx="594.5" cy="533.2" rx="2.5" ry="1.2" transform="rotate(40 594.5 533.2)" fill="rgb(139,139,142)"/><ellipse cx="601.5" cy="532.2" rx="1.8" ry="1.3" transform="rotate(40 601.5 532.2)" fill="rgb(136,136,139)"/><ellipse cx="587.7" cy="537.0" rx="2.0" ry="1.3" transform="rotate(40 587.7 537.0)" fill="rgb(110,110,113)"/><ellipse cx="592.4" cy="536.8" rx="2.1" ry="1.0" transform="rotate(40 592.4 536.8)" fill="rgb(131,131,134)"/><ellipse cx="598.5" cy="537.4" rx="1.9" ry="1.0" transform="rotate(40 598.5 537.4)" fill="rgb(143,143,146)"/><ellipse cx="590.2" cy="540.6" rx="2.4" ry="1.0" transform="rotate(40 590.2 540.6)" fill="rgb(151,151,154)"/><ellipse cx="596.1" cy="541.7" rx="2.4" ry="1.2" transform="rotate(40 596.1 541.7)" fill="rgb(121,121,124)"/><ellipse cx="585.9" cy="546.1" rx="2.6" ry="1.0" transform="rotate(40 585.9 546.1)" fill="rgb(142,142,145)"/><ellipse cx="598.2" cy="545.7" rx="2.3" ry="1.1" transform="rotate(40 598.2 545.7)" fill="rgb(108,108,111)"/><ellipse cx="603.5" cy="545.8" rx="2.1" ry="1.3" transform="rotate(40 603.5 545.8)" fill="rgb(120,120,123)"/><ellipse cx="588.9" cy="550.6" rx="1.9" ry="0.9" transform="rotate(40 588.9 550.6)" fill="rgb(106,106,109)"/><ellipse cx="594.3" cy="550.2" rx="2.2" ry="1.1" transform="rotate(40 594.3 550.2)" fill="rgb(108,108,111)"/><ellipse cx="601.1" cy="550.6" rx="2.5" ry="1.3" transform="rotate(40 601.1 550.6)" fill="rgb(107,107,110)"/><ellipse cx="586.3" cy="555.6" rx="2.4" ry="1.0" transform="rotate(40 586.3 555.6)" fill="rgb(157,157,160)"/><ellipse cx="592.5" cy="555.8" rx="1.9" ry="1.1" transform="rotate(40 592.5 555.8)" fill="rgb(124,124,127)"/><ellipse cx="599.4" cy="555.3" rx="1.8" ry="1.1" transform="rotate(40 599.4 555.3)" fill="rgb(147,147,150)"/><ellipse cx="589.4" cy="559.3" rx="2.2" ry="0.9" transform="rotate(40 589.4 559.3)" fill="rgb(137,137,140)"/><ellipse cx="595.9" cy="559.2" rx="2.2" ry="1.2" transform="rotate(40 595.9 559.2)" fill="rgb(154,154,157)"/><ellipse cx="602.0" cy="559.5" rx="2.4" ry="1.1" transform="rotate(40 602.0 559.5)" fill="rgb(124,124,127)"/><ellipse cx="586.6" cy="563.6" rx="2.1" ry="1.2" transform="rotate(40 586.6 563.6)" fill="rgb(152,152,155)"/><ellipse cx="592.0" cy="564.0" rx="2.4" ry="1.2" transform="rotate(40 592.0 564.0)" fill="rgb(134,134,137)"/><ellipse cx="599.2" cy="564.5" rx="2.1" ry="1.2" transform="rotate(40 599.2 564.5)" fill="rgb(108,108,111)"/><ellipse cx="588.1" cy="568.6" rx="2.3" ry="1.1" transform="rotate(40 588.1 568.6)" fill="rgb(104,104,107)"/><ellipse cx="595.0" cy="568.8" rx="2.1" ry="1.0" transform="rotate(40 595.0 568.8)" fill="rgb(153,153,156)"/><ellipse cx="586.6" cy="572.3" rx="2.4" ry="1.1" transform="rotate(40 586.6 572.3)" fill="rgb(157,157,160)"/><ellipse cx="590.7" cy="571.8" rx="2.0" ry="1.2" transform="rotate(40 590.7 571.8)" fill="rgb(100,100,103)"/><ellipse cx="596.5" cy="573.1" rx="2.2" ry="1.1" transform="rotate(40 596.5 573.1)" fill="rgb(131,131,134)"/><ellipse cx="588.0" cy="577.8" rx="2.5" ry="0.9" transform="rotate(40 588.0 577.8)" fill="rgb(120,120,123)"/><ellipse cx="594.2" cy="576.8" rx="2.0" ry="1.1" transform="rotate(40 594.2 576.8)" fill="rgb(157,157,160)"/><ellipse cx="600.3" cy="577.0" rx="2.4" ry="1.1" transform="rotate(40 600.3 577.0)" fill="rgb(107,107,110)"/><ellipse cx="592.7" cy="580.9" rx="1.9" ry="1.1" transform="rotate(40 592.7 580.9)" fill="rgb(112,112,115)"/><ellipse cx="589.2" cy="585.3" rx="2.5" ry="1.0" transform="rotate(40 589.2 585.3)" fill="rgb(159,159,162)"/><ellipse cx="594.5" cy="585.7" rx="2.0" ry="1.0" transform="rotate(40 594.5 585.7)" fill="rgb(120,120,123)"/><ellipse cx="599.9" cy="585.4" rx="2.1" ry="1.0" transform="rotate(40 599.9 585.4)" fill="rgb(148,148,151)"/><ellipse cx="587.2" cy="590.9" rx="2.4" ry="1.3" transform="rotate(40 587.2 590.9)" fill="rgb(116,116,119)"/><ellipse cx="592.5" cy="590.9" rx="2.4" ry="1.0" transform="rotate(40 592.5 590.9)" fill="rgb(147,147,150)"/><ellipse cx="598.0" cy="589.7" rx="2.5" ry="1.2" transform="rotate(40 598.0 589.7)" fill="rgb(159,159,162)"/><ellipse cx="588.8" cy="594.5" rx="1.8" ry="1.0" transform="rotate(40 588.8 594.5)" fill="rgb(160,160,163)"/><ellipse cx="594.6" cy="594.7" rx="2.4" ry="1.1" transform="rotate(40 594.6 594.7)" fill="rgb(129,129,132)"/><ellipse cx="601.3" cy="595.4" rx="2.4" ry="1.1" transform="rotate(40 601.3 595.4)" fill="rgb(121,121,124)"/><ellipse cx="586.0" cy="598.8" rx="2.5" ry="1.0" transform="rotate(40 586.0 598.8)" fill="rgb(131,131,134)"/><ellipse cx="597.5" cy="598.8" rx="2.2" ry="1.0" transform="rotate(40 597.5 598.8)" fill="rgb(123,123,126)"/><ellipse cx="603.4" cy="598.5" rx="1.9" ry="0.9" transform="rotate(40 603.4 598.5)" fill="rgb(147,147,150)"/><ellipse cx="589.6" cy="603.4" rx="2.4" ry="1.0" transform="rotate(40 589.6 603.4)" fill="rgb(137,137,140)"/><ellipse cx="602.0" cy="603.4" rx="2.5" ry="1.0" transform="rotate(40 602.0 603.4)" fill="rgb(140,140,143)"/><ellipse cx="586.2" cy="607.7" rx="2.1" ry="1.3" transform="rotate(40 586.2 607.7)" fill="rgb(122,122,125)"/><ellipse cx="592.0" cy="608.2" rx="2.3" ry="1.2" transform="rotate(40 592.0 608.2)" fill="rgb(110,110,113)"/><ellipse cx="603.9" cy="608.0" rx="2.2" ry="1.0" transform="rotate(40 603.9 608.0)" fill="rgb(156,156,159)"/><ellipse cx="590.1" cy="611.6" rx="1.9" ry="1.3" transform="rotate(40 590.1 611.6)" fill="rgb(121,121,124)"/><ellipse cx="595.4" cy="612.4" rx="2.3" ry="1.3" transform="rotate(40 595.4 612.4)" fill="rgb(149,149,152)"/><ellipse cx="602.2" cy="612.7" rx="2.3" ry="1.0" transform="rotate(40 602.2 612.7)" fill="rgb(115,115,118)"/><ellipse cx="587.4" cy="616.2" rx="2.1" ry="1.1" transform="rotate(40 587.4 616.2)" fill="rgb(111,111,114)"/><ellipse cx="592.6" cy="617.0" rx="2.4" ry="1.3" transform="rotate(40 592.6 617.0)" fill="rgb(100,100,103)"/><ellipse cx="590.5" cy="621.8" rx="2.0" ry="1.2" transform="rotate(40 590.5 621.8)" fill="rgb(128,128,131)"/><ellipse cx="596.4" cy="621.9" rx="1.9" ry="1.2" transform="rotate(40 596.4 621.9)" fill="rgb(110,110,113)"/><ellipse cx="601.8" cy="621.6" rx="2.3" ry="1.0" transform="rotate(40 601.8 621.6)" fill="rgb(140,140,143)"/><ellipse cx="585.5" cy="625.6" rx="1.9" ry="1.2" transform="rotate(40 585.5 625.6)" fill="rgb(105,105,108)"/><ellipse cx="591.7" cy="625.0" rx="2.3" ry="1.1" transform="rotate(40 591.7 625.0)" fill="rgb(150,150,153)"/><ellipse cx="598.0" cy="625.1" rx="2.2" ry="1.3" transform="rotate(40 598.0 625.1)" fill="rgb(115,115,118)"/><ellipse cx="589.7" cy="630.5" rx="2.2" ry="1.0" transform="rotate(40 589.7 630.5)" fill="rgb(140,140,143)"/><ellipse cx="602.8" cy="630.5" rx="2.1" ry="1.0" transform="rotate(40 602.8 630.5)" fill="rgb(127,127,130)"/><ellipse cx="586.6" cy="634.7" rx="2.1" ry="1.1" transform="rotate(40 586.6 634.7)" fill="rgb(160,160,163)"/><ellipse cx="598.1" cy="634.4" rx="2.6" ry="1.1" transform="rotate(40 598.1 634.4)" fill="rgb(143,143,146)"/><ellipse cx="603.5" cy="634.8" rx="2.5" ry="1.0" transform="rotate(40 603.5 634.8)" fill="rgb(136,136,139)"/><ellipse cx="590.1" cy="639.9" rx="2.1" ry="1.1" transform="rotate(40 590.1 639.9)" fill="rgb(115,115,118)"/><ellipse cx="603.1" cy="639.5" rx="1.9" ry="1.0" transform="rotate(40 603.1 639.5)" fill="rgb(143,143,146)"/><ellipse cx="587.3" cy="644.1" rx="2.3" ry="1.0" transform="rotate(40 587.3 644.1)" fill="rgb(148,148,151)"/><ellipse cx="592.6" cy="644.3" rx="2.4" ry="1.0" transform="rotate(40 592.6 644.3)" fill="rgb(130,130,133)"/><ellipse cx="599.1" cy="643.8" rx="2.6" ry="1.3" transform="rotate(40 599.1 643.8)" fill="rgb(118,118,121)"/><ellipse cx="588.6" cy="648.4" rx="2.2" ry="1.2" transform="rotate(40 588.6 648.4)" fill="rgb(127,127,130)"/><ellipse cx="593.8" cy="648.4" rx="2.0" ry="1.3" transform="rotate(40 593.8 648.4)" fill="rgb(160,160,163)"/><ellipse cx="601.2" cy="648.1" rx="2.4" ry="1.0" transform="rotate(40 601.2 648.1)" fill="rgb(101,101,104)"/><ellipse cx="586.4" cy="653.8" rx="2.6" ry="1.3" transform="rotate(40 586.4 653.8)" fill="rgb(124,124,127)"/><ellipse cx="592.2" cy="652.7" rx="2.5" ry="1.3" transform="rotate(40 592.2 652.7)" fill="rgb(108,108,111)"/><ellipse cx="598.5" cy="653.7" rx="2.3" ry="1.1" transform="rotate(40 598.5 653.7)" fill="rgb(159,159,162)"/><ellipse cx="600.9" cy="657.3" rx="2.3" ry="1.2" transform="rotate(40 600.9 657.3)" fill="rgb(153,153,156)"/><ellipse cx="586.2" cy="663.0" rx="1.9" ry="1.1" transform="rotate(40 586.2 663.0)" fill="rgb(141,141,144)"/><ellipse cx="592.5" cy="663.0" rx="2.2" ry="1.3" transform="rotate(40 592.5 663.0)" fill="rgb(117,117,120)"/><ellipse cx="598.6" cy="662.0" rx="2.0" ry="1.3" transform="rotate(40 598.6 662.0)" fill="rgb(112,112,115)"/><ellipse cx="589.4" cy="667.0" rx="1.8" ry="1.0" transform="rotate(40 589.4 667.0)" fill="rgb(129,129,132)"/><ellipse cx="595.1" cy="667.3" rx="2.1" ry="1.0" transform="rotate(40 595.1 667.3)" fill="rgb(110,110,113)"/><ellipse cx="587.0" cy="671.2" rx="2.6" ry="1.2" transform="rotate(40 587.0 671.2)" fill="rgb(109,109,112)"/><ellipse cx="593.8" cy="670.8" rx="2.0" ry="1.1" transform="rotate(40 593.8 670.8)" fill="rgb(127,127,130)"/><ellipse cx="598.4" cy="671.3" rx="2.1" ry="1.2" transform="rotate(40 598.4 671.3)" fill="rgb(138,138,141)"/><ellipse cx="594.6" cy="676.1" rx="2.1" ry="0.9" transform="rotate(40 594.6 676.1)" fill="rgb(118,118,121)"/><ellipse cx="585.1" cy="680.1" rx="2.1" ry="0.9" transform="rotate(40 585.1 680.1)" fill="rgb(156,156,159)"/><ellipse cx="597.1" cy="679.6" rx="2.3" ry="1.0" transform="rotate(40 597.1 679.6)" fill="rgb(127,127,130)"/><ellipse cx="602.0" cy="680.1" rx="2.5" ry="1.0" transform="rotate(40 602.0 680.1)" fill="rgb(152,152,155)"/><ellipse cx="594.7" cy="683.1" rx="2.0" ry="1.2" transform="rotate(40 594.7 683.1)" fill="rgb(160,160,163)"/><ellipse cx="600.5" cy="684.0" rx="2.6" ry="1.2" transform="rotate(40 600.5 684.0)" fill="rgb(126,126,129)"/><ellipse cx="587.1" cy="687.3" rx="2.4" ry="1.0" transform="rotate(40 587.1 687.3)" fill="rgb(113,113,116)"/><ellipse cx="593.6" cy="687.6" rx="2.1" ry="1.1" transform="rotate(40 593.6 687.6)" fill="rgb(130,130,133)"/><ellipse cx="599.2" cy="687.3" rx="2.2" ry="1.1" transform="rotate(40 599.2 687.3)" fill="rgb(117,117,120)"/><ellipse cx="589.8" cy="692.7" rx="1.8" ry="1.0" transform="rotate(40 589.8 692.7)" fill="rgb(123,123,126)"/><ellipse cx="585.7" cy="696.3" rx="2.1" ry="1.2" transform="rotate(40 585.7 696.3)" fill="rgb(112,112,115)"/><ellipse cx="592.1" cy="696.5" rx="2.4" ry="0.9" transform="rotate(40 592.1 696.5)" fill="rgb(140,140,143)"/><ellipse cx="597.8" cy="697.0" rx="2.4" ry="1.1" transform="rotate(40 597.8 697.0)" fill="rgb(151,151,154)"/><ellipse cx="588.4" cy="701.5" rx="2.4" ry="1.2" transform="rotate(40 588.4 701.5)" fill="rgb(145,145,148)"/><ellipse cx="595.4" cy="701.2" rx="2.2" ry="1.0" transform="rotate(40 595.4 701.2)" fill="rgb(155,155,158)"/><ellipse cx="601.0" cy="701.1" rx="2.5" ry="1.1" transform="rotate(40 601.0 701.1)" fill="rgb(103,103,106)"/><ellipse cx="587.2" cy="705.2" rx="1.9" ry="1.2" transform="rotate(40 587.2 705.2)" fill="rgb(102,102,105)"/><ellipse cx="592.9" cy="705.6" rx="2.3" ry="1.3" transform="rotate(40 592.9 705.6)" fill="rgb(112,112,115)"/><ellipse cx="599.8" cy="705.4" rx="2.6" ry="1.1" transform="rotate(40 599.8 705.4)" fill="rgb(127,127,130)"/><ellipse cx="589.0" cy="710.2" rx="2.2" ry="1.2" transform="rotate(40 589.0 710.2)" fill="rgb(143,143,146)"/><ellipse cx="593.8" cy="710.8" rx="2.1" ry="1.1" transform="rotate(40 593.8 710.8)" fill="rgb(118,118,121)"/><ellipse cx="599.7" cy="710.5" rx="2.2" ry="1.3" transform="rotate(40 599.7 710.5)" fill="rgb(146,146,149)"/><ellipse cx="586.2" cy="715.3" rx="2.3" ry="0.9" transform="rotate(40 586.2 715.3)" fill="rgb(101,101,104)"/><ellipse cx="591.6" cy="714.3" rx="2.0" ry="1.0" transform="rotate(40 591.6 714.3)" fill="rgb(106,106,109)"/><ellipse cx="598.8" cy="714.7" rx="2.4" ry="1.1" transform="rotate(40 598.8 714.7)" fill="rgb(133,133,136)"/><ellipse cx="604.3" cy="714.8" rx="2.0" ry="1.3" transform="rotate(40 604.3 714.8)" fill="rgb(129,129,132)"/></g></g>
<rect x="583.5" y="397" width="1.4" height="320" fill="#151515" opacity="0.75"/>
<rect x="604.1" y="397" width="1.4" height="320" fill="#151515" opacity="0.75"/>
  <path d="M582 167 Q582 162.4 586.5 162.4 L608.4 162.4 L608.4 198 L582 198 Z" fill="#f3f3f3" stroke="#dedede" stroke-width="0.6"/>
  <path d="M582 198 L582 167 Q582 162.4 586.5 162.4" stroke="#4a4a4a" stroke-width="1.2" fill="none"/><rect x="581.2" y="172" width="1.8" height="6" fill="#222"/>
  <rect x="589" y="168.3" width="19.4" height="15" fill="#efe35a"/><rect x="590.70" y="168.3" width="0.7" height="15" fill="#f6f3c8"/><rect x="593.12" y="168.3" width="0.7" height="15" fill="#f6f3c8"/><rect x="595.54" y="168.3" width="0.7" height="15" fill="#f6f3c8"/><rect x="597.96" y="168.3" width="0.7" height="15" fill="#f6f3c8"/><rect x="600.38" y="168.3" width="0.7" height="15" fill="#f6f3c8"/><rect x="602.80" y="168.3" width="0.7" height="15" fill="#f6f3c8"/><rect x="605.22" y="168.3" width="0.7" height="15" fill="#f6f3c8"/>
    <rect x="572.6" y="196.3" width="46.3" height="6.5" rx="1.5" fill="#3a3a3c"/>
  <rect x="573" y="196.5" width="3.5" height="6" fill="#1f1f20"/><rect x="615.5" y="196.5" width="3.5" height="6" fill="#1f1f20"/>
  <path d="M567.9 205.5 Q567.9 201 572 201 L618.8 201 Q622.9 201 622.9 205.5 L622.9 290.6 L567.9 290.6 Z" fill="#76797d"/>
  <rect x="580" y="201" width="38.5" height="89.6" fill="url(#face)"/>
  <rect x="618.4" y="202.5" width="4.5" height="88" fill="#686b6f"/>
  <rect x="567.9" y="212" width="12.7" height="66" rx="5.5" fill="#63666a"/>
  <rect x="568.8" y="214.5" width="9.8" height="61" rx="4.5" fill="#4e5155"/>
  <g fill="#2e3033"><rect x="568" y="226.8" width="5" height="1.8"/><rect x="568" y="237.8" width="5" height="1.8"/><rect x="568" y="248.8" width="5" height="1.8"/><rect x="568" y="259.8" width="5" height="1.8"/></g>
  <rect x="567.9" y="288" width="55" height="2.6" fill="#5b5e62"/>
  <!-- logo -->
  <g fill="#d3d5d7"><path d="M597.26 234.54 A12 12 0 0 1 610.34 234.54 L607.94 238.23 A7.6 7.6 0 0 0 599.66 238.23 Z"/><path d="M594.42 251.42 A11.6 11.6 0 0 1 594.42 237.78 L598.14 240.49 A7 7 0 0 0 598.14 248.71 Z"/><path d="M613.18 237.78 A11.6 11.6 0 0 1 613.18 251.42 L609.46 248.71 A7 7 0 0 0 609.46 240.49 Z"/><circle cx="603.8" cy="244.6" r="2.5"/><circle cx="603.8" cy="251.2" r="2.1"/><rect x="601.8" y="256" width="4" height="4"/></g>
  <path d="M568 290.5 L622.9 290.5 C622 306 614.5 320 612 330 L612 336 L578 336 L578 330 C575.5 320 569 306 568 290.5 Z" fill="url(#relief)"/>
  <rect x="578" y="329" width="34" height="69" fill="url(#relief)"/>
<rect x="577.2" y="330.2" width="35.6" height="9.1" rx="1.5" fill="url(#relief)"/>
<rect x="578" y="330.2" width="34" height="1.2" fill="#66666a" opacity="0.6"/>
<rect x="577.2" y="341.7" width="35.6" height="8.6" rx="1.5" fill="url(#relief)"/>
<rect x="578" y="341.7" width="34" height="1.2" fill="#66666a" opacity="0.6"/>
<rect x="577.2" y="352.7" width="35.6" height="8.6" rx="1.5" fill="url(#relief)"/>
<rect x="578" y="352.7" width="34" height="1.2" fill="#66666a" opacity="0.6"/>
<rect x="577.2" y="363.7" width="35.6" height="8.6" rx="1.5" fill="url(#relief)"/>
<rect x="578" y="363.7" width="34" height="1.2" fill="#66666a" opacity="0.6"/>
<rect x="577.2" y="374.7" width="35.6" height="22.1" rx="1.5" fill="url(#relief)"/>
<rect x="578" y="374.7" width="34" height="1.2" fill="#66666a" opacity="0.6"/>
<rect x="578" y="339.9" width="34" height="1.2" fill="#333335" opacity="0.7"/>
<rect x="594" y="338.0" width="17.5" height="5.0" rx="1.2" fill="#131313"/>
<rect x="578" y="350.9" width="34" height="1.2" fill="#333335" opacity="0.7"/>
<rect x="594" y="349.0" width="17.5" height="5.0" rx="1.2" fill="#131313"/>
<rect x="578" y="361.9" width="34" height="1.2" fill="#333335" opacity="0.7"/>
<rect x="594" y="360.0" width="17.5" height="5.0" rx="1.2" fill="#131313"/>
<rect x="578" y="372.9" width="34" height="1.2" fill="#333335" opacity="0.7"/>
<rect x="594" y="371.0" width="17.5" height="5.0" rx="1.2" fill="#131313"/>
<rect x="584.8" y="327.3" width="1.6" height="4.4" rx="0.8" fill="#2a2a2c"/>
<rect x="584.8" y="338.3" width="1.6" height="4.4" rx="0.8" fill="#2a2a2c"/>
<rect x="584.8" y="349.3" width="1.6" height="4.4" rx="0.8" fill="#2a2a2c"/>
<rect x="584.8" y="360.3" width="1.6" height="4.4" rx="0.8" fill="#2a2a2c"/>
<rect x="584.8" y="371.3" width="1.6" height="4.4" rx="0.8" fill="#2a2a2c"/>
<rect x="584.8" y="382.3" width="1.6" height="4.4" rx="0.8" fill="#2a2a2c"/>
</g>

<!-- ===== small rings ===== -->
<g stroke="#92ca58" stroke-width="2.6" fill="none">
  <circle cx="103.5" cy="321.5" r="25"/>
  <circle cx="595.5" cy="321.5" r="25"/>
  <circle cx="595.5" cy="557" r="25"/>
</g>
<g fill="#84cc3c">
  <circle cx="103.5" cy="321" r="9.5"/>
  <circle cx="595.5" cy="321.5" r="9.5"/>
  <circle cx="595.2" cy="556.6" r="8.9"/>
</g>

<!-- ===== BIG CIRCLE 1: wires ===== -->
<g clip-path="url(#c1)">
  <g transform="translate(365 88) rotate(-14.5)">
    <!-- jacket -->
    <path d="M34 -25.5 L80 -25.5 L80 19.5 L34 19.5 A6 22.5 0 0 1 34 -25.5 Z" fill="#1f1f20"/>
    <path d="M36 -25 L80 -25 L80 -20 L36 -20 Z" fill="#3a3a3c"/>
    <!-- braided shield -->
    <path d="M24 -23 L51 -23 L51 17 L24 17 A5 20 0 0 1 24 -23 Z" fill="#a4a4a6"/>
    <g stroke="#6a6a6c" stroke-width="1">
      <path d="M35.8 -0.7 l3.9 2.0 M37.2 0.3 l2.8 2.0 M40.4 8.1 l2.6 1.8 M26.4 8.8 l3.5 1.5 M49.5 14.7 l3.5 2.1 M28.1 -21.4 l3.3 1.6 M28.9 -12.8 l2.5 2.0 M35.5 10.0 l3.3 2.1 M37.0 3.2 l3.2 1.8 M49.9 15.8 l3.8 2.2 M32.2 -13.3 l2.9 1.6 M43.9 -6.8 l3.8 1.9 M48.9 10.2 l2.5 1.7 M47.7 -4.1 l4.0 1.9 M25.9 1.9 l3.7 1.8 M26.3 -9.4 l3.9 2.3 M27.1 -12.6 l2.7 1.6 M44.7 -15.2 l3.3 1.9 M29.0 5.8 l2.7 2.1 M27.0 -6.0 l2.8 1.8 M49.2 8.5 l3.0 2.4 M29.5 -7.0 l3.8 2.1 M26.6 15.6 l2.8 1.8 M44.1 -9.5 l2.9 1.6 M26.3 0.1 l2.9 2.1 M33.7 -4.8 l3.9 2.0 M38.9 10.9 l2.8 1.7 M47.6 9.1 l2.9 1.7 M43.2 13.7 l2.8 2.5 M46.9 0.9 l3.1 1.6 M25.0 14.6 l2.9 2.2 M30.7 9.3 l3.4 1.8 M28.6 5.4 l2.6 1.7 M38.5 10.4 l3.4 1.8 M47.9 -14.2 l2.5 1.8 M35.6 -19.7 l2.8 1.9 M38.9 -17.0 l3.0 2.4 M49.5 3.0 l3.5 2.1 M27.6 -20.7 l2.5 2.4 M42.2 14.6 l2.5 2.1 M36.5 5.8 l3.0 2.5 M26.0 -1.2 l3.6 2.4 M43.2 4.7 l3.7 2.4 M33.1 4.0 l3.9 2.4 M34.8 8.0 l3.8 2.1 M40.2 -7.5 l3.4 2.1 M26.1 2.3 l4.0 2.4 M42.9 -7.2 l3.6 2.1 M35.5 9.9 l2.6 2.3 M24.8 0.8 l3.2 1.7 M42.2 -3.1 l3.4 2.4 M30.7 -21.6 l3.0 2.2 M29.3 -15.6 l3.9 2.2 M35.5 11.9 l3.0 2.2 M29.2 -5.6 l3.7 2.4 M46.9 -7.4 l3.4 1.8 M27.5 -3.1 l3.8 2.3 M42.5 14.1 l2.9 1.7 M35.7 -11.5 l2.8 1.9 M40.3 -3.2 l3.0 2.3"/>
    </g>
    <g stroke="#d0d0d2" stroke-width="0.8">
      <path d="M49.5 -4.8 l2.1 -1.5 M46.7 -20.4 l2.7 -1.1 M32.0 8.1 l2.0 -1.4 M35.8 -21.1 l2.8 -1.3 M27.7 -20.2 l2.6 -1.2 M40.4 2.9 l2.8 -0.8 M41.8 -14.4 l2.5 -1.4 M24.3 -4.1 l2.7 -1.4 M31.1 -8.9 l2.7 -1.1 M40.0 6.7 l2.4 -0.9 M47.6 -18.7 l2.9 -1.0 M27.4 -4.8 l2.6 -0.9 M33.8 -0.4 l2.9 -0.9 M48.6 -4.4 l2.7 -1.4 M42.8 9.1 l2.6 -1.0 M29.5 12.2 l3.0 -0.8 M38.0 8.0 l2.3 -0.9 M46.3 -8.8 l2.1 -1.2 M38.3 7.2 l2.5 -1.5 M45.0 -19.6 l2.8 -1.4 M32.7 7.9 l2.1 -1.4 M37.4 5.5 l2.8 -1.0 M48.6 -3.3 l2.9 -1.4 M29.8 -2.0 l2.3 -1.0 M40.6 -2.1 l2.8 -1.1 M32.1 -7.5 l2.8 -0.9 M29.4 10.3 l3.0 -1.1 M38.9 -14.4 l2.5 -1.1 M39.7 -20.9 l3.0 -1.1 M34.4 8.4 l2.6 -1.2 M42.0 -19.5 l2.5 -1.2 M48.9 13.1 l2.3 -1.2 M27.3 -5.5 l2.8 -0.9 M36.4 -9.9 l2.2 -1.1 M48.1 -17.1 l2.8 -1.5"/>
    </g>
    <rect x="47" y="-23" width="4" height="40" fill="#5a5a5c" opacity="0.6"/>
    <!-- ferrule -->
    <path d="M6 -18 L25 -18 L25 15.5 L6 15.5 A5.5 16.75 0 0 1 6 -18 Z" fill="#c4c5c7"/>
    <rect x="12" y="-18" width="9" height="33.5" fill="#d9dadc"/>
    <ellipse cx="5" cy="-1.25" rx="5.5" ry="15.5" fill="#2a2a2a"/>
    <ellipse cx="4.5" cy="5" rx="4.2" ry="7.5" fill="#2fae3c"/>
    <!-- stranded silver (red conductor) -->
    <rect x="-110" y="-8" width="46" height="11.5" fill="#c3c4c6"/>
    <path d="M-110 -6 L-64 -6 M-110 -3.5 L-64 -3.5 M-110 -1 L-64 -1 M-110 1.5 L-64 1.5" stroke="#8a8b8d" stroke-width="0.8"/>
    <!-- red insulation -->
    <rect x="-68" y="-9.5" width="70" height="17.5" fill="#d8261c"/>
    <path d="M-68 -9.5 A3.5 8.75 0 0 0 -68 8 A3.5 8.75 0 0 0 -68 -9.5 Z" fill="#e54a40"/>
    <rect x="-66" y="4.5" width="66" height="3.5" fill="#a91d16"/>
    <rect x="-66" y="-9.5" width="66" height="1.5" fill="#ee6a60"/>
    <!-- green conductor stub -->
    <rect x="-22" y="3" width="18" height="5.5" fill="#b8b9bb"/>
    <!-- silver stub for black -->
    <rect x="-58" y="-7" width="21" height="5.5" fill="#c2c3c5"/>
    <!-- black wire -->
    <rect x="-38" y="-9" width="44" height="8.5" fill="#2b2b2c"/>
    <rect x="-37" y="-7.5" width="42" height="1.6" fill="#5a5a5c"/>
    <!-- silver stub white -->
    <rect x="-49" y="-17" width="20" height="5" fill="#c8c9cb"/>
    <!-- white wire -->
    <rect x="-30" y="-19.5" width="40" height="9" fill="#f2f2f2"/>
    <rect x="-30" y="-12" width="40" height="1.5" fill="#c9c9c9"/>
    <ellipse cx="-30" cy="-15" rx="2" ry="4.5" fill="#dcdcdc"/>
  </g>
</g>

<circle cx="349.5" cy="85.5" r="71.6" stroke="#90c25a" stroke-width="2.2" fill="none"/>

<!-- ===== BIG CIRCLE 2: strain relief ===== -->
<g clip-path="url(#c2)">
  <rect x="341" y="360" width="24" height="40" fill="#2e2e2f"/>
<clipPath id="bc9"><rect x="341" y="360" width="24" height="40"/></clipPath>
<g clip-path="url(#bc9)"><g filter="url(#soft)"><ellipse cx="342.4" cy="360.0" rx="2.2" ry="1.1" transform="rotate(-40 342.4 360.0)" fill="rgb(59,59,59)"/><ellipse cx="346.3" cy="360.0" rx="2.2" ry="1.1" transform="rotate(-40 346.3 360.0)" fill="rgb(53,53,53)"/><ellipse cx="351.1" cy="360.0" rx="2.2" ry="1.1" transform="rotate(-40 351.1 360.0)" fill="rgb(48,48,48)"/><ellipse cx="355.1" cy="360.0" rx="2.2" ry="1.1" transform="rotate(-40 355.1 360.0)" fill="rgb(62,62,62)"/><ellipse cx="359.9" cy="360.0" rx="2.2" ry="1.1" transform="rotate(-40 359.9 360.0)" fill="rgb(50,50,50)"/><ellipse cx="363.9" cy="360.0" rx="2.2" ry="1.1" transform="rotate(-40 363.9 360.0)" fill="rgb(49,49,49)"/><ellipse cx="343.8" cy="362.9" rx="2.2" ry="1.1" transform="rotate(-40 343.8 362.9)" fill="rgb(61,61,61)"/><ellipse cx="347.6" cy="362.9" rx="2.2" ry="1.1" transform="rotate(-40 347.6 362.9)" fill="rgb(55,55,55)"/><ellipse cx="351.2" cy="362.9" rx="2.2" ry="1.1" transform="rotate(-40 351.2 362.9)" fill="rgb(52,52,52)"/><ellipse cx="355.4" cy="362.9" rx="2.2" ry="1.1" transform="rotate(-40 355.4 362.9)" fill="rgb(66,66,66)"/><ellipse cx="359.0" cy="362.9" rx="2.2" ry="1.1" transform="rotate(-40 359.0 362.9)" fill="rgb(60,60,60)"/><ellipse cx="363.7" cy="362.9" rx="2.2" ry="1.1" transform="rotate(-40 363.7 362.9)" fill="rgb(51,51,51)"/><ellipse cx="341.7" cy="365.9" rx="2.2" ry="1.1" transform="rotate(-40 341.7 365.9)" fill="rgb(61,61,61)"/><ellipse cx="346.5" cy="365.9" rx="2.2" ry="1.1" transform="rotate(-40 346.5 365.9)" fill="rgb(56,56,56)"/><ellipse cx="351.4" cy="365.9" rx="2.2" ry="1.1" transform="rotate(-40 351.4 365.9)" fill="rgb(60,60,60)"/><ellipse cx="355.3" cy="365.9" rx="2.2" ry="1.1" transform="rotate(-40 355.3 365.9)" fill="rgb(49,49,49)"/><ellipse cx="359.1" cy="365.9" rx="2.2" ry="1.1" transform="rotate(-40 359.1 365.9)" fill="rgb(48,48,48)"/><ellipse cx="363.9" cy="365.9" rx="2.2" ry="1.1" transform="rotate(-40 363.9 365.9)" fill="rgb(49,49,49)"/><ellipse cx="341.4" cy="369.4" rx="2.2" ry="1.1" transform="rotate(-40 341.4 369.4)" fill="rgb(55,55,55)"/><ellipse cx="345.6" cy="369.4" rx="2.2" ry="1.1" transform="rotate(-40 345.6 369.4)" fill="rgb(51,51,51)"/><ellipse cx="350.5" cy="369.4" rx="2.2" ry="1.1" transform="rotate(-40 350.5 369.4)" fill="rgb(48,48,48)"/><ellipse cx="354.2" cy="369.4" rx="2.2" ry="1.1" transform="rotate(-40 354.2 369.4)" fill="rgb(66,66,66)"/><ellipse cx="358.0" cy="369.4" rx="2.2" ry="1.1" transform="rotate(-40 358.0 369.4)" fill="rgb(54,54,54)"/><ellipse cx="362.0" cy="369.4" rx="2.2" ry="1.1" transform="rotate(-40 362.0 369.4)" fill="rgb(50,50,50)"/><ellipse cx="342.5" cy="372.9" rx="2.2" ry="1.1" transform="rotate(-40 342.5 372.9)" fill="rgb(66,66,66)"/><ellipse cx="346.7" cy="372.9" rx="2.2" ry="1.1" transform="rotate(-40 346.7 372.9)" fill="rgb(54,54,54)"/><ellipse cx="350.9" cy="372.9" rx="2.2" ry="1.1" transform="rotate(-40 350.9 372.9)" fill="rgb(60,60,60)"/><ellipse cx="354.7" cy="372.9" rx="2.2" ry="1.1" transform="rotate(-40 354.7 372.9)" fill="rgb(50,50,50)"/><ellipse cx="359.2" cy="372.9" rx="2.2" ry="1.1" transform="rotate(-40 359.2 372.9)" fill="rgb(52,52,52)"/><ellipse cx="363.0" cy="372.9" rx="2.2" ry="1.1" transform="rotate(-40 363.0 372.9)" fill="rgb(49,49,49)"/><ellipse cx="342.8" cy="376.2" rx="2.2" ry="1.1" transform="rotate(-40 342.8 376.2)" fill="rgb(52,52,52)"/><ellipse cx="347.4" cy="376.2" rx="2.2" ry="1.1" transform="rotate(-40 347.4 376.2)" fill="rgb(66,66,66)"/><ellipse cx="352.4" cy="376.2" rx="2.2" ry="1.1" transform="rotate(-40 352.4 376.2)" fill="rgb(51,51,51)"/><ellipse cx="357.2" cy="376.2" rx="2.2" ry="1.1" transform="rotate(-40 357.2 376.2)" fill="rgb(60,60,60)"/><ellipse cx="362.2" cy="376.2" rx="2.2" ry="1.1" transform="rotate(-40 362.2 376.2)" fill="rgb(55,55,55)"/><ellipse cx="343.2" cy="379.4" rx="2.2" ry="1.1" transform="rotate(-40 343.2 379.4)" fill="rgb(64,64,64)"/><ellipse cx="347.6" cy="379.4" rx="2.2" ry="1.1" transform="rotate(-40 347.6 379.4)" fill="rgb(50,50,50)"/><ellipse cx="352.4" cy="379.4" rx="2.2" ry="1.1" transform="rotate(-40 352.4 379.4)" fill="rgb(51,51,51)"/><ellipse cx="357.2" cy="379.4" rx="2.2" ry="1.1" transform="rotate(-40 357.2 379.4)" fill="rgb(66,66,66)"/><ellipse cx="361.2" cy="379.4" rx="2.2" ry="1.1" transform="rotate(-40 361.2 379.4)" fill="rgb(54,54,54)"/><ellipse cx="342.7" cy="382.9" rx="2.2" ry="1.1" transform="rotate(-40 342.7 382.9)" fill="rgb(48,48,48)"/><ellipse cx="346.8" cy="382.9" rx="2.2" ry="1.1" transform="rotate(-40 346.8 382.9)" fill="rgb(58,58,58)"/><ellipse cx="350.3" cy="382.9" rx="2.2" ry="1.1" transform="rotate(-40 350.3 382.9)" fill="rgb(51,51,51)"/><ellipse cx="354.1" cy="382.9" rx="2.2" ry="1.1" transform="rotate(-40 354.1 382.9)" fill="rgb(62,62,62)"/><ellipse cx="358.0" cy="382.9" rx="2.2" ry="1.1" transform="rotate(-40 358.0 382.9)" fill="rgb(50,50,50)"/><ellipse cx="362.0" cy="382.9" rx="2.2" ry="1.1" transform="rotate(-40 362.0 382.9)" fill="rgb(57,57,57)"/><ellipse cx="341.1" cy="386.4" rx="2.2" ry="1.1" transform="rotate(-40 341.1 386.4)" fill="rgb(65,65,65)"/><ellipse cx="345.8" cy="386.4" rx="2.2" ry="1.1" transform="rotate(-40 345.8 386.4)" fill="rgb(63,63,63)"/><ellipse cx="349.8" cy="386.4" rx="2.2" ry="1.1" transform="rotate(-40 349.8 386.4)" fill="rgb(55,55,55)"/><ellipse cx="354.2" cy="386.4" rx="2.2" ry="1.1" transform="rotate(-40 354.2 386.4)" fill="rgb(50,50,50)"/><ellipse cx="358.3" cy="386.4" rx="2.2" ry="1.1" transform="rotate(-40 358.3 386.4)" fill="rgb(55,55,55)"/><ellipse cx="361.9" cy="386.4" rx="2.2" ry="1.1" transform="rotate(-40 361.9 386.4)" fill="rgb(60,60,60)"/><ellipse cx="342.7" cy="389.9" rx="2.2" ry="1.1" transform="rotate(-40 342.7 389.9)" fill="rgb(52,52,52)"/><ellipse cx="347.2" cy="389.9" rx="2.2" ry="1.1" transform="rotate(-40 347.2 389.9)" fill="rgb(53,53,53)"/><ellipse cx="351.7" cy="389.9" rx="2.2" ry="1.1" transform="rotate(-40 351.7 389.9)" fill="rgb(56,56,56)"/><ellipse cx="355.3" cy="389.9" rx="2.2" ry="1.1" transform="rotate(-40 355.3 389.9)" fill="rgb(53,53,53)"/><ellipse cx="359.2" cy="389.9" rx="2.2" ry="1.1" transform="rotate(-40 359.2 389.9)" fill="rgb(53,53,53)"/><ellipse cx="364.1" cy="389.9" rx="2.2" ry="1.1" transform="rotate(-40 364.1 389.9)" fill="rgb(52,52,52)"/><ellipse cx="341.6" cy="392.8" rx="2.2" ry="1.1" transform="rotate(-40 341.6 392.8)" fill="rgb(60,60,60)"/><ellipse cx="345.6" cy="392.8" rx="2.2" ry="1.1" transform="rotate(-40 345.6 392.8)" fill="rgb(48,48,48)"/><ellipse cx="350.5" cy="392.8" rx="2.2" ry="1.1" transform="rotate(-40 350.5 392.8)" fill="rgb(59,59,59)"/><ellipse cx="354.4" cy="392.8" rx="2.2" ry="1.1" transform="rotate(-40 354.4 392.8)" fill="rgb(63,63,63)"/><ellipse cx="358.8" cy="392.8" rx="2.2" ry="1.1" transform="rotate(-40 358.8 392.8)" fill="rgb(52,52,52)"/><ellipse cx="363.7" cy="392.8" rx="2.2" ry="1.1" transform="rotate(-40 363.7 392.8)" fill="rgb(65,65,65)"/><ellipse cx="342.3" cy="395.7" rx="2.2" ry="1.1" transform="rotate(-40 342.3 395.7)" fill="rgb(52,52,52)"/><ellipse cx="346.8" cy="395.7" rx="2.2" ry="1.1" transform="rotate(-40 346.8 395.7)" fill="rgb(60,60,60)"/><ellipse cx="351.2" cy="395.7" rx="2.2" ry="1.1" transform="rotate(-40 351.2 395.7)" fill="rgb(53,53,53)"/><ellipse cx="355.7" cy="395.7" rx="2.2" ry="1.1" transform="rotate(-40 355.7 395.7)" fill="rgb(56,56,56)"/><ellipse cx="360.4" cy="395.7" rx="2.2" ry="1.1" transform="rotate(-40 360.4 395.7)" fill="rgb(63,63,63)"/><ellipse cx="364.4" cy="395.7" rx="2.2" ry="1.1" transform="rotate(-40 364.4 395.7)" fill="rgb(49,49,49)"/><ellipse cx="343.4" cy="398.6" rx="2.2" ry="1.1" transform="rotate(-40 343.4 398.6)" fill="rgb(50,50,50)"/><ellipse cx="347.1" cy="398.6" rx="2.2" ry="1.1" transform="rotate(-40 347.1 398.6)" fill="rgb(55,55,55)"/><ellipse cx="351.9" cy="398.6" rx="2.2" ry="1.1" transform="rotate(-40 351.9 398.6)" fill="rgb(54,54,54)"/><ellipse cx="355.7" cy="398.6" rx="2.2" ry="1.1" transform="rotate(-40 355.7 398.6)" fill="rgb(62,62,62)"/><ellipse cx="360.1" cy="398.6" rx="2.2" ry="1.1" transform="rotate(-40 360.1 398.6)" fill="rgb(65,65,65)"/><ellipse cx="364.2" cy="398.6" rx="2.2" ry="1.1" transform="rotate(-40 364.2 398.6)" fill="rgb(53,53,53)"/><ellipse cx="344.1" cy="362.1" rx="1.8" ry="1.3" transform="rotate(40 344.1 362.1)" fill="rgb(141,141,144)"/><ellipse cx="349.6" cy="362.7" rx="2.4" ry="1.3" transform="rotate(40 349.6 362.7)" fill="rgb(158,158,161)"/><ellipse cx="354.7" cy="362.0" rx="1.9" ry="1.2" transform="rotate(40 354.7 362.0)" fill="rgb(108,108,111)"/><ellipse cx="360.8" cy="361.8" rx="1.8" ry="1.0" transform="rotate(40 360.8 361.8)" fill="rgb(138,138,141)"/><ellipse cx="347.3" cy="366.3" rx="2.3" ry="1.1" transform="rotate(40 347.3 366.3)" fill="rgb(139,139,142)"/><ellipse cx="351.5" cy="366.7" rx="2.4" ry="0.9" transform="rotate(40 351.5 366.7)" fill="rgb(138,138,141)"/><ellipse cx="358.7" cy="365.7" rx="2.4" ry="1.0" transform="rotate(40 358.7 365.7)" fill="rgb(145,145,148)"/><ellipse cx="350.7" cy="371.7" rx="2.3" ry="1.1" transform="rotate(40 350.7 371.7)" fill="rgb(122,122,125)"/><ellipse cx="356.5" cy="371.3" rx="2.6" ry="1.3" transform="rotate(40 356.5 371.3)" fill="rgb(104,104,107)"/><ellipse cx="361.7" cy="371.4" rx="2.5" ry="0.9" transform="rotate(40 361.7 371.4)" fill="rgb(123,123,126)"/><ellipse cx="347.1" cy="374.9" rx="2.2" ry="1.1" transform="rotate(40 347.1 374.9)" fill="rgb(106,106,109)"/><ellipse cx="359.0" cy="375.4" rx="2.0" ry="1.2" transform="rotate(40 359.0 375.4)" fill="rgb(108,108,111)"/><ellipse cx="351.0" cy="379.8" rx="2.2" ry="1.1" transform="rotate(40 351.0 379.8)" fill="rgb(120,120,123)"/><ellipse cx="346.1" cy="383.6" rx="2.3" ry="1.1" transform="rotate(40 346.1 383.6)" fill="rgb(159,159,162)"/><ellipse cx="352.0" cy="384.4" rx="1.8" ry="1.0" transform="rotate(40 352.0 384.4)" fill="rgb(134,134,137)"/><ellipse cx="359.5" cy="384.0" rx="2.6" ry="1.1" transform="rotate(40 359.5 384.0)" fill="rgb(128,128,131)"/><ellipse cx="345.1" cy="388.0" rx="2.2" ry="1.1" transform="rotate(40 345.1 388.0)" fill="rgb(142,142,145)"/><ellipse cx="351.6" cy="387.8" rx="2.2" ry="0.9" transform="rotate(40 351.6 387.8)" fill="rgb(106,106,109)"/><ellipse cx="362.6" cy="389.1" rx="1.9" ry="0.9" transform="rotate(40 362.6 389.1)" fill="rgb(121,121,124)"/><ellipse cx="348.5" cy="392.1" rx="2.2" ry="1.0" transform="rotate(40 348.5 392.1)" fill="rgb(108,108,111)"/><ellipse cx="354.4" cy="391.8" rx="2.3" ry="1.2" transform="rotate(40 354.4 391.8)" fill="rgb(151,151,154)"/><ellipse cx="360.3" cy="393.4" rx="2.2" ry="1.2" transform="rotate(40 360.3 393.4)" fill="rgb(130,130,133)"/><ellipse cx="344.3" cy="397.2" rx="1.9" ry="1.0" transform="rotate(40 344.3 397.2)" fill="rgb(114,114,117)"/><ellipse cx="349.8" cy="397.1" rx="1.8" ry="1.0" transform="rotate(40 349.8 397.1)" fill="rgb(122,122,125)"/><ellipse cx="354.5" cy="396.9" rx="2.4" ry="1.0" transform="rotate(40 354.5 396.9)" fill="rgb(113,113,116)"/><ellipse cx="361.7" cy="397.2" rx="2.5" ry="1.3" transform="rotate(40 361.7 397.2)" fill="rgb(100,100,103)"/></g></g>
<rect x="341" y="360" width="1.4" height="40" fill="#151515" opacity="0.75"/>
<rect x="363.6" y="360" width="1.4" height="40" fill="#151515" opacity="0.75"/>
  <path d="M316 240 L389 240 Q376 262 373 280 Q372 286 372 292 L372 296 L335 296 L334.5 292 Q334 286 333 280 Q330 262 316 240 Z" fill="url(#relief)"/>
  <rect x="316" y="240" width="73" height="17" fill="#6a6a6c" opacity="0.35"/>
  <rect x="335" y="292" width="36.5" height="74.39999999999998" fill="url(#relief)"/>
<rect x="334.2" y="293.2" width="38.1" height="12.9" rx="1.5" fill="url(#relief)"/>
<rect x="335" y="293.2" width="36.5" height="1.2" fill="#66666a" opacity="0.6"/>
<rect x="334.2" y="308.4" width="38.1" height="9.1" rx="1.5" fill="url(#relief)"/>
<rect x="335" y="308.4" width="36.5" height="1.2" fill="#66666a" opacity="0.6"/>
<rect x="334.2" y="319.9" width="38.1" height="9.1" rx="1.5" fill="url(#relief)"/>
<rect x="335" y="319.9" width="36.5" height="1.2" fill="#66666a" opacity="0.6"/>
<rect x="334.2" y="331.4" width="38.1" height="9.1" rx="1.5" fill="url(#relief)"/>
<rect x="335" y="331.4" width="36.5" height="1.2" fill="#66666a" opacity="0.6"/>
<rect x="334.2" y="342.9" width="38.1" height="22.2" rx="1.5" fill="url(#relief)"/>
<rect x="335" y="342.9" width="36.5" height="1.2" fill="#66666a" opacity="0.6"/>
<rect x="335" y="306.6" width="36.5" height="1.2" fill="#333335" opacity="0.7"/>
<rect x="354" y="304.5" width="17.0" height="5.5" rx="1.2" fill="#131313"/>
<rect x="335" y="318.1" width="36.5" height="1.2" fill="#333335" opacity="0.7"/>
<rect x="354" y="316.0" width="17.0" height="5.5" rx="1.2" fill="#131313"/>
<rect x="335" y="329.6" width="36.5" height="1.2" fill="#333335" opacity="0.7"/>
<rect x="354" y="327.5" width="17.0" height="5.5" rx="1.2" fill="#131313"/>
<rect x="335" y="341.1" width="36.5" height="1.2" fill="#333335" opacity="0.7"/>
<rect x="354" y="339.0" width="17.0" height="5.5" rx="1.2" fill="#131313"/>
<rect x="342.3" y="293.3" width="1.6" height="4.9" rx="0.8" fill="#2a2a2c"/>
<rect x="342.3" y="304.8" width="1.6" height="4.9" rx="0.8" fill="#2a2a2c"/>
<rect x="342.3" y="316.3" width="1.6" height="4.9" rx="0.8" fill="#2a2a2c"/>
<rect x="342.3" y="327.8" width="1.6" height="4.9" rx="0.8" fill="#2a2a2c"/>
<rect x="342.3" y="339.3" width="1.6" height="4.9" rx="0.8" fill="#2a2a2c"/>
<rect x="342.3" y="350.8" width="1.6" height="4.9" rx="0.8" fill="#2a2a2c"/>
</g>
<circle cx="349.5" cy="321.5" r="71.6" stroke="#8cc356" stroke-width="2.4" fill="none"/>

<!-- ===== BIG CIRCLE 3: coil ===== -->
<g clip-path="url(#c3)">
<path fill-rule="evenodd" d="M291.4,512.5 C296.8,512.3 314.6,510.5 323.5,511.4 C332.4,512.3 338.9,515.1 345.0,517.8 C351.1,520.5 355.0,523.9 360.0,527.5 C365.0,531.1 371.1,534.8 375.0,539.3 C378.9,543.8 381.4,548.9 383.5,554.3 C385.6,559.6 387.0,566.0 387.4,571.4 C387.8,576.8 387.1,581.0 385.7,586.4 C384.3,591.8 381.7,598.5 379.2,603.5 C376.7,608.5 373.9,612.5 370.7,616.4 C367.5,620.3 363.0,624.7 360.0,627.0 C357.0,629.3 353.8,629.8 352.5,630.3 L340,640 L260,640 L260,512 Z M278.6,555.3 C282.5,555.1 294.9,554.1 302.1,554.3 C309.3,554.5 316.7,555.4 322.0,556.5 C327.3,557.6 331.0,559.1 334.0,561.0 C337.0,562.9 339.4,565.7 340.0,568.0 C340.6,570.3 339.8,572.5 337.5,575.0 C335.2,577.5 330.8,580.3 326.0,583.0 C321.2,585.7 314.8,588.8 309.0,591.0 C303.2,593.2 295.8,595.0 291.4,596.0 C287.0,597.0 284.3,596.8 282.9,597.0 L260,599 L260,555 Z" fill="url(#coilg)"/>
<g filter="url(#soft)"><polygon points="285.0,550.9 277.6,537.5 273.4,522.3 276.7,520.4 282.8,534.5 289.2,548.5" fill="rgb(60,60,60)"/><polygon points="272.6,519.3 265.5,513.8 268.1,512.3 275.0,517.9" fill="rgb(51,51,51)"/><polygon points="290.0,550.3 285.6,537.2 284.9,522.7 288.5,521.5 291.3,535.2 294.5,548.8" fill="rgb(60,60,60)"/><polygon points="284.8,519.9 279.1,513.8 281.9,512.9 287.4,519.0" fill="rgb(51,51,51)"/><polygon points="294.8,549.7 293.4,536.7 295.7,523.2 299.5,522.7 299.3,535.9 299.6,549.1" fill="rgb(60,60,60)"/><polygon points="296.2,520.5 291.9,513.8 294.9,513.4 299.0,520.2" fill="rgb(51,51,51)"/><polygon points="299.8,549.0 301.2,535.9 306.5,523.2 310.2,523.5 307.2,536.5 304.6,549.5" fill="rgb(60,60,60)"/><polygon points="307.5,520.7 304.8,513.2 307.8,513.5 310.3,521.0" fill="rgb(51,51,51)"/><polygon points="305.0,548.8 309.5,535.5 317.6,523.3 321.2,524.5 315.2,537.3 309.6,550.2" fill="rgb(60,60,60)"/><polygon points="319.2,521.0 318.4,512.6 321.2,513.5 321.9,521.8" fill="rgb(51,51,51)"/><polygon points="310.4,549.0 317.8,536.5 328.6,525.8 331.9,527.7 323.0,539.5 314.6,551.4" fill="rgb(69,69,69)"/><polygon points="330.7,523.7 331.7,515.1 334.3,516.6 333.1,525.1" fill="rgb(58,58,58)"/><polygon points="316.4,549.6 326.5,538.3 339.5,529.6 342.4,532.1 331.0,542.3 320.0,552.8" fill="rgb(80,80,80)"/><polygon points="342.0,527.9 345.0,519.4 347.2,521.3 344.1,529.7" fill="rgb(68,68,68)"/><polygon points="323.0,550.8 334.9,541.6 349.2,535.4 351.6,538.4 338.6,546.3 326.0,554.5" fill="rgb(90,90,90)"/><polygon points="352.0,534.3 356.4,526.5 358.2,528.8 353.7,536.5" fill="rgb(76,76,76)"/><polygon points="329.9,553.0 343.4,546.0 358.6,542.2 360.4,545.6 346.2,551.2 332.2,557.3" fill="rgb(99,99,99)"/><polygon points="361.6,541.5 367.3,534.6 368.7,537.2 362.9,544.0" fill="rgb(84,84,84)"/><polygon points="337.2,556.3 351.4,551.5 366.7,550.3 368.0,553.9 353.4,557.2 338.8,560.8" fill="rgb(108,108,108)"/><polygon points="369.7,550.1 376.3,544.2 377.3,547.0 370.7,552.8" fill="rgb(91,91,91)"/><polygon points="342.3,561.2 356.8,558.6 372.0,559.6 372.7,563.4 357.9,564.4 343.2,565.9" fill="rgb(116,116,116)"/><polygon points="374.9,559.9 382.2,555.0 382.8,557.9 375.5,562.6" fill="rgb(98,98,98)"/><polygon points="344.9,567.0 359.5,566.4 374.3,569.6 374.5,573.4 359.8,572.4 345.2,571.8" fill="rgb(123,123,123)"/><polygon points="377.2,570.2 385.0,566.4 385.1,569.4 377.3,573.0" fill="rgb(104,104,104)"/><polygon points="343.6,573.0 358.8,574.4 373.7,579.6 373.4,583.4 358.3,580.4 343.2,577.8" fill="rgb(131,131,131)"/><polygon points="376.6,580.6 385.2,577.9 384.9,580.9 376.3,583.4" fill="rgb(111,111,111)"/><polygon points="338.6,578.0 354.8,581.7 370.2,589.2 369.4,592.9 353.5,587.6 337.6,582.7" fill="rgb(138,138,138)"/><polygon points="373.2,590.6 382.8,589.2 382.2,592.2 372.6,593.4" fill="rgb(117,117,117)"/><polygon points="334.3,582.3 350.6,588.6 365.5,598.4 364.2,602.0 348.5,594.2 332.7,586.8" fill="rgb(146,146,146)"/><polygon points="368.4,600.4 378.5,600.5 377.5,603.3 367.4,603.0" fill="rgb(124,124,124)"/><polygon points="329.9,585.8 345.5,594.7 359.2,606.9 357.3,610.2 342.5,600.0 327.6,590.0" fill="rgb(154,154,154)"/><polygon points="361.8,609.3 372.1,611.1 370.6,613.7 360.5,611.7" fill="rgb(130,130,130)"/><polygon points="325.6,588.9 339.8,600.2 351.6,614.5 349.2,617.5 336.1,604.9 322.6,592.7" fill="rgb(163,163,163)"/><polygon points="353.9,617.2 363.8,620.7 361.9,623.0 352.1,619.5" fill="rgb(138,138,138)"/><polygon points="321.4,591.5 333.2,604.6 342.3,620.2 339.5,622.8 328.8,608.7 317.9,594.8" fill="rgb(165,165,165)"/><polygon points="344.0,623.2 353.1,628.0 350.9,630.1 341.9,625.2" fill="rgb(140,140,140)"/><polygon points="317.4,594.2 327.0,609.2 333.3,626.2 330.1,628.3 321.9,612.5 313.4,596.8" fill="rgb(165,165,165)"/><polygon points="334.5,629.5 342.7,635.8 340.2,637.5 332.2,631.1" fill="rgb(140,140,140)"/><polygon points="313.1,596.1 319.4,611.3 322.3,628.0 318.8,629.5 313.9,613.7 308.7,598.0" fill="rgb(165,165,165)"/><polygon points="322.9,631.3 329.6,638.2 326.8,639.4 320.3,632.4" fill="rgb(140,140,140)"/><polygon points="308.4,597.4 311.7,612.3 311.3,628.0 307.6,628.9 305.9,613.6 303.7,598.5" fill="rgb(165,165,165)"/><polygon points="311.2,631.0 316.4,638.4 313.5,639.1 308.4,631.7" fill="rgb(140,140,140)"/><polygon points="303.5,598.8 304.0,613.3 300.6,627.9 296.8,628.1 298.0,613.5 298.7,599.0" fill="rgb(165,165,165)"/><polygon points="299.9,630.8 303.6,638.6 300.6,638.7 297.1,630.9" fill="rgb(140,140,140)"/><polygon points="298.2,600.3 295.9,614.4 289.9,627.9 286.1,627.3 290.0,613.5 293.5,599.6" fill="rgb(165,165,165)"/><polygon points="288.7,630.5 290.9,638.8 287.9,638.3 285.9,630.1" fill="rgb(140,140,140)"/><polygon points="292.2,602.0 287.2,615.6 278.7,627.9 275.1,626.7 281.6,613.6 287.6,600.4" fill="rgb(165,165,165)"/><polygon points="277.0,630.3 277.7,638.9 274.8,638.0 274.4,629.4" fill="rgb(140,140,140)"/><polygon points="285.5,603.0 277.8,616.3 266.8,627.8 263.5,626.0 272.6,613.4 281.3,600.6" fill="rgb(165,165,165)"/><polygon points="264.7,630.1 263.5,639.1 260.9,637.6 262.2,628.7" fill="rgb(140,140,140)"/><polyline points="276.7,520.4 270.7,518.2 288.5,521.5 283.1,518.6 299.5,522.7 294.9,519.0 310.2,523.5 306.6,518.9 321.2,524.5 318.7,518.9 331.9,527.7 330.7,521.5 342.4,532.1 342.5,525.7 351.6,538.4 352.8,532.2 360.4,545.6 362.8,539.6 368.0,553.9 371.2,548.4 372.7,563.4 376.6,558.4 374.5,573.4 379.0,569.0 373.4,583.4 378.6,579.7 369.4,592.9 375.5,590.0 364.2,602.0 370.9,600.1 357.3,610.2 364.4,609.4 349.2,617.5 356.4,617.8 339.5,622.8 346.3,624.2 330.1,628.3 336.7,630.8 318.8,629.5 324.7,632.8 307.6,628.9 312.7,632.7 296.8,628.1 301.1,632.6 286.1,627.3 289.5,632.5 275.1,626.7 277.5,632.5 263.5,626.0 264.7,632.3" fill="none" stroke="#1a1a1a" stroke-width="1.4"/></g>
</g>
<circle cx="349.5" cy="557" r="71.6" stroke="#8cc356" stroke-width="2.4" fill="none"/>

</svg>
</body></html>
